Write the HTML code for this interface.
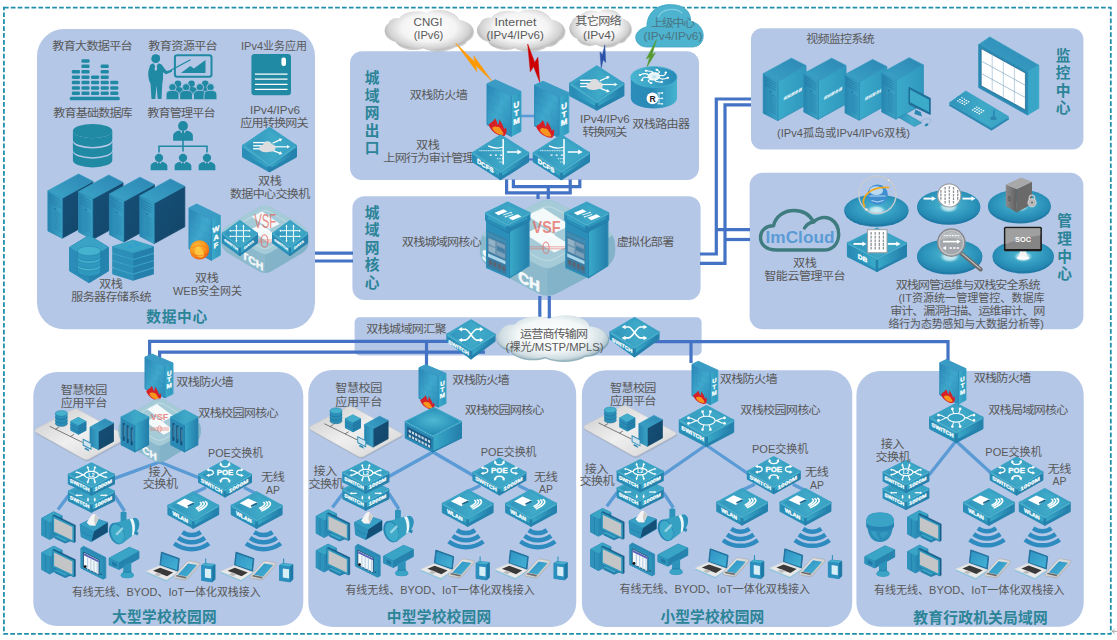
<!DOCTYPE html>
<html lang="zh-CN">
<head>
<meta charset="utf-8">
<title>双栈教育城域网拓扑</title>
<style>
html,body{margin:0;padding:0;background:#fff;}
body{width:1117px;height:640px;overflow:hidden;}
svg{display:block;font-family:"Liberation Sans","Noto Sans CJK SC",sans-serif;font-size:11.3px;fill:#595959;}
</style>
</head>
<body>
<svg width="1117" height="640" viewBox="0 0 1117 640">
<defs>

<linearGradient id="gTop" x1="0" y1="0.5" x2="1" y2="0.5"><stop offset="0" stop-color="#2f92ba"/><stop offset="0.55" stop-color="#3fa9c8"/><stop offset="1" stop-color="#3aa3c4"/></linearGradient>
<linearGradient id="gLeft" x1="0" y1="0" x2="1" y2="0"><stop offset="0" stop-color="#2789b5"/><stop offset="1" stop-color="#3aabc9"/></linearGradient>
<linearGradient id="gRight" x1="0" y1="0" x2="1" y2="0"><stop offset="0" stop-color="#3aabc9"/><stop offset="1" stop-color="#237daa"/></linearGradient>
<linearGradient id="gFront" x1="0" y1="0" x2="1" y2="1"><stop offset="0" stop-color="#2a85b6"/><stop offset="0.5" stop-color="#3fa8cc"/><stop offset="1" stop-color="#2b8bb8"/></linearGradient>
<linearGradient id="gSideL" x1="0" y1="0" x2="1" y2="0"><stop offset="0" stop-color="#3cabcb"/><stop offset="1" stop-color="#2f97bd"/></linearGradient>
<linearGradient id="gNavy" x1="0" y1="0" x2="1" y2="1"><stop offset="0" stop-color="#174f78"/><stop offset="1" stop-color="#124668"/></linearGradient>
<linearGradient id="gTowerF" x1="0" y1="0" x2="1" y2="0"><stop offset="0" stop-color="#2785b0"/><stop offset="1" stop-color="#3ba3c6"/></linearGradient>
<linearGradient id="gTowerT" x1="0" y1="1" x2="1" y2="0"><stop offset="0" stop-color="#3aa4c6"/><stop offset="1" stop-color="#2d86b4"/></linearGradient>
<radialGradient id="gCloud" cx="0.5" cy="0.38" r="0.62"><stop offset="0" stop-color="#ffffff"/><stop offset="0.55" stop-color="#f3f3f3"/><stop offset="0.85" stop-color="#d4d4d4"/><stop offset="1" stop-color="#a9a9a9"/></radialGradient>
<radialGradient id="gCloudB" cx="0.5" cy="0.42" r="0.6"><stop offset="0" stop-color="#ffffff"/><stop offset="0.6" stop-color="#eef4f6"/><stop offset="0.88" stop-color="#c5d6dc"/><stop offset="1" stop-color="#93aab3"/></radialGradient>
<radialGradient id="gDisk" cx="0.5" cy="0.45" r="0.6"><stop offset="0" stop-color="#4fb8d2"/><stop offset="0.6" stop-color="#2f97bd"/><stop offset="1" stop-color="#1f7fab"/></radialGradient>
<radialGradient id="gGlow" cx="0.5" cy="0.5" r="0.5"><stop offset="0" stop-color="#ffffff"/><stop offset="0.6" stop-color="#d8f2f7"/><stop offset="1" stop-color="#7fd0e2" stop-opacity="0.2"/></radialGradient>
<linearGradient id="gRouterSide" x1="0" y1="0" x2="1" y2="0"><stop offset="0" stop-color="#2b8dba"/><stop offset="0.45" stop-color="#2a8ab7"/><stop offset="1" stop-color="#45b3cf"/></linearGradient>
<linearGradient id="gRouterTop" x1="0" y1="0" x2="1" y2="0"><stop offset="0" stop-color="#49b5d1"/><stop offset="0.5" stop-color="#3aa3c6"/><stop offset="1" stop-color="#2788b6"/></linearGradient>
<linearGradient id="gPlate" x1="0" y1="0" x2="1" y2="1"><stop offset="0" stop-color="#c9c9c9"/><stop offset="0.5" stop-color="#efefef"/><stop offset="1" stop-color="#d2d2d2"/></linearGradient>
<radialGradient id="gBall" cx="0.4" cy="0.35" r="0.7"><stop offset="0" stop-color="#ffc23a"/><stop offset="0.6" stop-color="#f7941d"/><stop offset="1" stop-color="#e8560f"/></radialGradient>
<linearGradient id="gGrey" x1="0" y1="0" x2="1" y2="0"><stop offset="0" stop-color="#8a8a8a"/><stop offset="1" stop-color="#5f5f5f"/></linearGradient>
<linearGradient id="gSilver" x1="0" y1="0" x2="1" y2="1"><stop offset="0" stop-color="#f4f4f4"/><stop offset="1" stop-color="#b5b5b5"/></linearGradient>
<linearGradient id="gScreen" x1="0" y1="0" x2="1" y2="1"><stop offset="0" stop-color="#2f92c4"/><stop offset="1" stop-color="#45b2d4"/></linearGradient>

</defs>
<rect x="3.9" y="7.6" width="1106.9" height="626.3" fill="none" stroke="#1f8fab" stroke-width="1.8" stroke-dasharray="4.7 2.2"/>
<path d="M1112.4,631.3 h4.6 M1114.6,629 l-2.4,2.3 l2.4,2.3" fill="none" stroke="#7f7f7f" stroke-width="0.7"/>
<rect x="37" y="29" width="278.0" height="300.3" rx="27" fill="#b4c7e7"/>
<rect x="350" y="51.3" width="349.0" height="128.7" rx="12" fill="#b4c7e7"/>
<rect x="352.4" y="196.3" width="348.2" height="103.7" rx="12" fill="#b4c7e7"/>
<rect x="751" y="28.3" width="332.4" height="121.2" rx="11" fill="#b4c7e7"/>
<rect x="749.6" y="172.8" width="333.8" height="156.5" rx="13" fill="#b4c7e7"/>
<rect x="354.6" y="317.3" width="347.0" height="38.1" rx="5" fill="#b4c7e7"/>
<rect x="33.3" y="372" width="270.0" height="254.0" rx="24" fill="#b4c7e7"/>
<rect x="308.3" y="370" width="267.9" height="256.9" rx="24" fill="#b4c7e7"/>
<rect x="581.9" y="370.2" width="270.3" height="256.7" rx="24" fill="#b4c7e7"/>
<rect x="856.4" y="371" width="227.3" height="255.8" rx="24" fill="#b4c7e7"/>
<polyline points="315,253.2 353,253.2" fill="none" stroke="#4472c4" stroke-width="3.2"/>
<polyline points="315,261 353,261" fill="none" stroke="#4472c4" stroke-width="3.2"/>
<polyline points="506.6,179.5 506.6,192.8 570.2,192.8 570.2,179.5" fill="none" stroke="#4472c4" stroke-width="3.2"/>
<polyline points="513.4,179.5 513.4,186.6 579.8,186.6 579.8,179.5" fill="none" stroke="#4472c4" stroke-width="3.2"/>
<polyline points="538,192 538,199" fill="none" stroke="#4472c4" stroke-width="3.2"/>
<polyline points="548.3,186 548.3,199" fill="none" stroke="#4472c4" stroke-width="3.2"/>
<polyline points="539.8,296 539.8,320" fill="none" stroke="#4472c4" stroke-width="3.2"/>
<polyline points="549.3,296 549.3,320" fill="none" stroke="#4472c4" stroke-width="3.2"/>
<polyline points="751,99 716.3,99 716.3,254 700,254" fill="none" stroke="#4472c4" stroke-width="3.2"/>
<polyline points="751,104.8 725,104.8 725,263.3 700,263.3" fill="none" stroke="#4472c4" stroke-width="3.2"/>
<polyline points="716.3,229.7 750,229.7" fill="none" stroke="#4472c4" stroke-width="3.2"/>
<polyline points="725,239.5 750,239.5" fill="none" stroke="#4472c4" stroke-width="3.2"/>
<polyline points="149.6,358 149.6,341.4 460,341.4" fill="none" stroke="#4472c4" stroke-width="3.2"/>
<polyline points="159.6,358 159.6,352.2 485,352.2" fill="none" stroke="#4472c4" stroke-width="3.2"/>
<polyline points="426.5,341.4 426.5,367" fill="none" stroke="#4472c4" stroke-width="3.2"/>
<polyline points="650,341.6 948,341.6 948,362" fill="none" stroke="#4472c4" stroke-width="3.2"/>
<polyline points="691,341.6 691,363" fill="none" stroke="#4472c4" stroke-width="3.2"/>
<polyline points="515,116 540,116" fill="none" stroke="#5b9bd5" stroke-width="2.6"/>
<text transform="translate(429.0,162.4) scale(1.07,1)" text-anchor="middle" textLength="85.4" lengthAdjust="spacing">上网行为审计管理</text>
<rect x="69.7" y="96.8" width="50.1" height="3.5" rx="1.5" fill="#2089a3"/><rect x="71.8" y="91.6" width="8.2" height="3.5" rx="1.3" fill="#2089a3"/><rect x="71.8" y="86.2" width="8.2" height="3.5" rx="1.3" fill="#2089a3"/><rect x="71.8" y="80.8" width="8.2" height="3.5" rx="1.3" fill="#2089a3"/><rect x="71.8" y="75.4" width="8.2" height="3.5" rx="1.3" fill="#2089a3"/><rect x="71.8" y="70.0" width="8.2" height="3.5" rx="1.3" fill="#2089a3"/><rect x="81.4" y="91.6" width="8.2" height="3.5" rx="1.3" fill="#2089a3"/><rect x="81.4" y="86.2" width="8.2" height="3.5" rx="1.3" fill="#2089a3"/><rect x="81.4" y="80.8" width="8.2" height="3.5" rx="1.3" fill="#2089a3"/><rect x="81.4" y="75.4" width="8.2" height="3.5" rx="1.3" fill="#2089a3"/><rect x="81.4" y="70.0" width="8.2" height="3.5" rx="1.3" fill="#2089a3"/><rect x="81.4" y="64.6" width="8.2" height="3.5" rx="1.3" fill="#2089a3"/><rect x="81.4" y="59.2" width="8.2" height="3.5" rx="1.3" fill="#2089a3"/><rect x="91.0" y="91.6" width="8.2" height="3.5" rx="1.3" fill="#2089a3"/><rect x="91.0" y="86.2" width="8.2" height="3.5" rx="1.3" fill="#2089a3"/><rect x="91.0" y="80.8" width="8.2" height="3.5" rx="1.3" fill="#2089a3"/><rect x="91.0" y="75.4" width="8.2" height="3.5" rx="1.3" fill="#2089a3"/><rect x="100.6" y="91.6" width="8.2" height="3.5" rx="1.3" fill="#2089a3"/><rect x="100.6" y="86.2" width="8.2" height="3.5" rx="1.3" fill="#2089a3"/><rect x="100.6" y="80.8" width="8.2" height="3.5" rx="1.3" fill="#2089a3"/><rect x="100.6" y="75.4" width="8.2" height="3.5" rx="1.3" fill="#2089a3"/><rect x="100.6" y="70.0" width="8.2" height="3.5" rx="1.3" fill="#2089a3"/><rect x="100.6" y="64.6" width="8.2" height="3.5" rx="1.3" fill="#2089a3"/><rect x="110.2" y="91.6" width="8.2" height="3.5" rx="1.3" fill="#2089a3"/><rect x="110.2" y="86.2" width="8.2" height="3.5" rx="1.3" fill="#2089a3"/><rect x="110.2" y="80.8" width="8.2" height="3.5" rx="1.3" fill="#2089a3"/>
<g transform="translate(147.9,54.5)"><circle cx="7.8" cy="4.2" r="4.4" fill="#2089a3"/><path d="M4.2,1.6 q3.2,-2.6 7.6,-0.4 l-0.4,2 q-3.6,-1.6 -7,-0.2z" fill="#2089a3"/><path d="M1.6,13 C1.6,10.2 3.6,9.2 5.8,9 L8,13 L10.2,9 C13,9 14.6,10.4 15.4,12.4 L18.6,16.6 L23.6,15.2 L24.2,17.2 L18,19.8 L15,17.8 C15.6,22 15,26 14.4,29 L13.6,44.6 L9.8,44.6 L8.6,31 L7.4,44.6 L3.6,44.6 L2.6,29 C0.6,26 0,20 0.6,16 Z" fill="#2089a3"/><path d="M7.4,10 h1.2 l0.7,5 l-1.3,1.6 l-1.3,-1.6z" fill="#b4c7e7"/><rect x="27" y="0.8" width="36.6" height="21.4" rx="2.2" fill="none" stroke="#2089a3" stroke-width="2"/><path d="M33,18.4 L42.4,11.4 L46,14 L57.6,5.4 L57.6,18.4 Z" fill="#2089a3"/><polyline points="22.5,16.0 42.6,5.2" fill="none" stroke="#2089a3" stroke-width="1.3"/><circle cx="30.0" cy="29.2" r="3.3" fill="#2089a3"/><path d="M24.0,40 v-3.4 q0,-4 6,-4 q6,0 6,4 v3.4z" fill="#2089a3"/><circle cx="43.6" cy="29.2" r="3.3" fill="#2089a3"/><path d="M37.6,40 v-3.4 q0,-4 6,-4 q6,0 6,4 v3.4z" fill="#2089a3"/><circle cx="57.4" cy="29.2" r="3.3" fill="#2089a3"/><path d="M51.4,40 v-3.4 q0,-4 6,-4 q6,0 6,4 v3.4z" fill="#2089a3"/><circle cx="24.6" cy="32.8" r="3.7" fill="#2089a3" stroke="#b4c7e7" stroke-width="0.8"/><path d="M18.2,45.2 v-5 q0,-4.4 6.4,-4.4 q6.4,0 6.4,4.4 v5z" fill="#2089a3" stroke="#b4c7e7" stroke-width="0.8"/><circle cx="38.2" cy="32.8" r="3.7" fill="#2089a3" stroke="#b4c7e7" stroke-width="0.8"/><path d="M31.8,45.2 v-5 q0,-4.4 6.4,-4.4 q6.4,0 6.4,4.4 v5z" fill="#2089a3" stroke="#b4c7e7" stroke-width="0.8"/><circle cx="52.0" cy="32.8" r="3.7" fill="#2089a3" stroke="#b4c7e7" stroke-width="0.8"/><path d="M45.6,45.2 v-5 q0,-4.4 6.4,-4.4 q6.4,0 6.4,4.4 v5z" fill="#2089a3" stroke="#b4c7e7" stroke-width="0.8"/><circle cx="62.6" cy="32.8" r="3.7" fill="#2089a3" stroke="#b4c7e7" stroke-width="0.8"/><path d="M56.2,45.2 v-5 q0,-4.4 6.4,-4.4 q6.4,0 6.4,4.4 v5z" fill="#2089a3" stroke="#b4c7e7" stroke-width="0.8"/></g>
<rect x="251.4" y="53.9" width="39.6" height="41.3" rx="3.2" fill="#2089a3"/><rect x="281.4" y="57.5" width="4.6" height="8.6" rx="2" fill="#fff"/><polyline points="254.9,74.1 287.5,74.1" fill="none" stroke="#fff" stroke-width="1.25"/><polyline points="254.9,79.2 287.5,79.2" fill="none" stroke="#fff" stroke-width="1.25"/><polyline points="254.9,84.3 287.5,84.3" fill="none" stroke="#fff" stroke-width="1.25"/><polyline points="254.9,89.4 287.5,89.4" fill="none" stroke="#fff" stroke-width="1.25"/>
<path d="M72.9,151.6 v8.7 a19.7,7.1 0 0 0 39.4,0 v-8.7 a19.7,7.1 0 0 1 -39.4,0z" fill="#2089a3"/><path d="M72.9,141.4 v8.7 a19.7,7.1 0 0 0 39.4,0 v-8.7 a19.7,7.1 0 0 1 -39.4,0z" fill="#2089a3"/><path d="M72.9,131.1 v8.7 a19.7,7.1 0 0 0 39.4,0 v-8.7 a19.7,7.1 0 0 1 -39.4,0z" fill="#2089a3"/><ellipse cx="92.6" cy="131.1" rx="19.7" ry="7.1" fill="#2089a3"/>
<g transform="translate(183.0,121.2) scale(1.300)"><circle cx="0" cy="3.7" r="3.8" fill="#2089a3"/><path d="M-7.6,15 V11.4 C-7.6,8.8 -5,7.6 -2.6,7.2 L0,10.6 L2.6,7.2 C5,7.6 7.6,8.8 7.6,11.4 V15 Z" fill="#2089a3"/><path d="M-0.7,7.6 h1.4 l0.6,4.6 l-1.3,1.4 l-1.3,-1.4 z" fill="#2089a3"/></g><polyline points="183.0,139.6 183.0,151.6" fill="none" stroke="#2089a3" stroke-width="1.6"/><polyline points="159.0,152.6 159.0,146.2 207.0,146.2 207.0,152.6" fill="none" stroke="#2089a3" stroke-width="1.6"/><g transform="translate(159.0,153.8) scale(1.100)"><circle cx="0" cy="3.7" r="3.8" fill="#2089a3"/><path d="M-7.6,15 V11.4 C-7.6,8.8 -5,7.6 -2.6,7.2 L0,10.6 L2.6,7.2 C5,7.6 7.6,8.8 7.6,11.4 V15 Z" fill="#2089a3"/><path d="M-0.7,7.6 h1.4 l0.6,4.6 l-1.3,1.4 l-1.3,-1.4 z" fill="#2089a3"/></g><g transform="translate(183.0,153.8) scale(1.100)"><circle cx="0" cy="3.7" r="3.8" fill="#2089a3"/><path d="M-7.6,15 V11.4 C-7.6,8.8 -5,7.6 -2.6,7.2 L0,10.6 L2.6,7.2 C5,7.6 7.6,8.8 7.6,11.4 V15 Z" fill="#2089a3"/><path d="M-0.7,7.6 h1.4 l0.6,4.6 l-1.3,1.4 l-1.3,-1.4 z" fill="#2089a3"/></g><g transform="translate(207.0,153.8) scale(1.100)"><circle cx="0" cy="3.7" r="3.8" fill="#2089a3"/><path d="M-7.6,15 V11.4 C-7.6,8.8 -5,7.6 -2.6,7.2 L0,10.6 L2.6,7.2 C5,7.6 7.6,8.8 7.6,11.4 V15 Z" fill="#2089a3"/><path d="M-0.7,7.6 h1.4 l0.6,4.6 l-1.3,1.4 l-1.3,-1.4 z" fill="#2089a3"/></g>
<g><polygon points="243.7,146.2 269.5,164.8 269.5,170.4 243.7,156.2" fill="url(#gLeft)" stroke="#2a8db6" stroke-linejoin="round" stroke-width="3.4"/><polygon points="269.5,164.8 295.3,146.2 295.3,156.2 269.5,170.4" fill="url(#gRight)" stroke="#2582ad" stroke-linejoin="round" stroke-width="3.4"/><polygon points="269.5,128.6 295.3,146.2 269.5,164.8 243.7,146.2" fill="url(#gTop)" stroke="#3aa2c4" stroke-linejoin="round" stroke-width="3.4"/><polyline points="243.7,146.6 269.5,165.2 295.3,146.6" fill="none" stroke="#6cc6da" stroke-width="0.7" opacity="0.7"/></g><polyline points="253.1,142.6 267.5,142.6" fill="none" stroke="#fff" stroke-width="1.3426763110307416"/><polyline points="253.1,145.8 267.5,145.8" fill="none" stroke="#fff" stroke-width="1.3426763110307416"/><polyline points="253.1,148.8 267.5,148.8" fill="none" stroke="#fff" stroke-width="1.3426763110307416"/><polyline points="272.5,143.2 280.4,139.6" fill="none" stroke="#fff" stroke-width="1.193490054249548"/><polygon points="282.4,138.7 280.3,141.6 278.9,138.4" fill="#fff"/><polyline points="274.0,146.8 286.9,146.8" fill="none" stroke="#fff" stroke-width="1.193490054249548"/><polygon points="290.1,146.8 287.0,148.6 287.0,145.0" fill="#fff"/><polyline points="272.5,150.4 280.4,153.4" fill="none" stroke="#fff" stroke-width="1.193490054249548"/><polygon points="282.4,154.1 278.9,154.7 280.2,151.3" fill="#fff"/><ellipse cx="266.3" cy="148.8" rx="7.2" ry="3.4" fill="#dcdddf"/><ellipse cx="267.5" cy="145.4" rx="4.6" ry="4.2" fill="#dcdddf"/><ellipse cx="271.5" cy="147.8" rx="4.0" ry="3.6" fill="#dcdddf"/><ellipse cx="262.9" cy="148.0" rx="3.4" ry="3.0" fill="#dcdddf"/>
<polygon points="62.3,198.2 92.9,181.3 92.9,221.4 62.3,238.2" fill="url(#gNavy)" stroke="#144a6d" stroke-linejoin="round" stroke-width="0.8"/><polygon points="47.9,190.8 62.3,198.2 62.3,238.2 47.9,230.9" fill="url(#gTowerF)" stroke="#2a8bb5" stroke-linejoin="round" stroke-width="0.8"/><polygon points="47.9,190.8 78.5,174.0 92.9,181.3 62.3,198.2" fill="url(#gTowerT)" stroke="#3498bf" stroke-linejoin="round" stroke-width="0.8"/><g opacity="0.6"><polyline points="49.1,194.6 60.8,200.6" fill="none" stroke="#1c6c98" stroke-width="0.7"/><polyline points="49.1,197.0 60.8,203.0" fill="none" stroke="#1c6c98" stroke-width="0.7"/><polyline points="49.1,199.4 60.8,205.4" fill="none" stroke="#1c6c98" stroke-width="0.7"/><polyline points="49.1,201.8 60.8,207.8" fill="none" stroke="#1c6c98" stroke-width="0.7"/><polyline points="54.4,210.9 60.8,214.2" fill="none" stroke="#1c6c98" stroke-width="0.5"/><polyline points="54.4,213.1 60.8,216.4" fill="none" stroke="#1c6c98" stroke-width="0.5"/><polyline points="54.4,215.3 60.8,218.6" fill="none" stroke="#1c6c98" stroke-width="0.5"/><polyline points="54.4,217.6 60.8,220.8" fill="none" stroke="#1c6c98" stroke-width="0.5"/><polyline points="54.4,219.8 60.8,223.0" fill="none" stroke="#1c6c98" stroke-width="0.5"/><polyline points="54.4,222.0 60.8,225.2" fill="none" stroke="#1c6c98" stroke-width="0.5"/><polyline points="54.4,224.2 60.8,227.4" fill="none" stroke="#1c6c98" stroke-width="0.5"/><polyline points="54.4,226.4 60.8,229.6" fill="none" stroke="#1c6c98" stroke-width="0.5"/><polyline points="54.4,228.6 60.8,231.8" fill="none" stroke="#1c6c98" stroke-width="0.5"/><circle cx="55.1" cy="208.9" r="0.8" fill="#14587f"/></g>
<polygon points="92.7,198.9 123.0,182.3 123.0,222.8 92.7,239.4" fill="url(#gNavy)" stroke="#144a6d" stroke-linejoin="round" stroke-width="0.8"/><polygon points="78.5,191.6 92.7,198.9 92.7,239.4 78.5,232.1" fill="url(#gTowerF)" stroke="#2a8bb5" stroke-linejoin="round" stroke-width="0.8"/><polygon points="78.5,191.6 108.8,175.0 123.0,182.3 92.7,198.9" fill="url(#gTowerT)" stroke="#3498bf" stroke-linejoin="round" stroke-width="0.8"/><g opacity="0.6"><polyline points="79.7,195.5 91.2,201.4" fill="none" stroke="#1c6c98" stroke-width="0.7"/><polyline points="79.7,197.9 91.2,203.8" fill="none" stroke="#1c6c98" stroke-width="0.7"/><polyline points="79.7,200.4 91.2,206.2" fill="none" stroke="#1c6c98" stroke-width="0.7"/><polyline points="79.7,202.8 91.2,208.7" fill="none" stroke="#1c6c98" stroke-width="0.7"/><polyline points="84.9,211.9 91.2,215.1" fill="none" stroke="#1c6c98" stroke-width="0.5"/><polyline points="84.9,214.1 91.2,217.4" fill="none" stroke="#1c6c98" stroke-width="0.5"/><polyline points="84.9,216.4 91.2,219.6" fill="none" stroke="#1c6c98" stroke-width="0.5"/><polyline points="84.9,218.6 91.2,221.8" fill="none" stroke="#1c6c98" stroke-width="0.5"/><polyline points="84.9,220.8 91.2,224.1" fill="none" stroke="#1c6c98" stroke-width="0.5"/><polyline points="84.9,223.1 91.2,226.3" fill="none" stroke="#1c6c98" stroke-width="0.5"/><polyline points="84.9,225.3 91.2,228.5" fill="none" stroke="#1c6c98" stroke-width="0.5"/><polyline points="84.9,227.5 91.2,230.7" fill="none" stroke="#1c6c98" stroke-width="0.5"/><polyline points="84.9,229.7 91.2,233.0" fill="none" stroke="#1c6c98" stroke-width="0.5"/><circle cx="85.6" cy="209.9" r="0.8" fill="#14587f"/></g>
<polygon points="123.8,201.4 154.4,184.5 154.4,225.2 123.8,242.0" fill="url(#gNavy)" stroke="#144a6d" stroke-linejoin="round" stroke-width="0.8"/><polygon points="109.4,194.0 123.8,201.4 123.8,242.0 109.4,234.7" fill="url(#gTowerF)" stroke="#2a8bb5" stroke-linejoin="round" stroke-width="0.8"/><polygon points="109.4,194.0 140.0,177.2 154.4,184.5 123.8,201.4" fill="url(#gTowerT)" stroke="#3498bf" stroke-linejoin="round" stroke-width="0.8"/><g opacity="0.6"><polyline points="110.6,197.9 122.3,203.9" fill="none" stroke="#1c6c98" stroke-width="0.7"/><polyline points="110.6,200.3 122.3,206.3" fill="none" stroke="#1c6c98" stroke-width="0.7"/><polyline points="110.6,202.8 122.3,208.7" fill="none" stroke="#1c6c98" stroke-width="0.7"/><polyline points="110.6,205.2 122.3,211.2" fill="none" stroke="#1c6c98" stroke-width="0.7"/><polyline points="115.9,214.4 122.3,217.7" fill="none" stroke="#1c6c98" stroke-width="0.5"/><polyline points="115.9,216.6 122.3,219.9" fill="none" stroke="#1c6c98" stroke-width="0.5"/><polyline points="115.9,218.9 122.3,222.1" fill="none" stroke="#1c6c98" stroke-width="0.5"/><polyline points="115.9,221.1 122.3,224.4" fill="none" stroke="#1c6c98" stroke-width="0.5"/><polyline points="115.9,223.3 122.3,226.6" fill="none" stroke="#1c6c98" stroke-width="0.5"/><polyline points="115.9,225.6 122.3,228.8" fill="none" stroke="#1c6c98" stroke-width="0.5"/><polyline points="115.9,227.8 122.3,231.1" fill="none" stroke="#1c6c98" stroke-width="0.5"/><polyline points="115.9,230.0 122.3,233.3" fill="none" stroke="#1c6c98" stroke-width="0.5"/><polyline points="115.9,232.3 122.3,235.5" fill="none" stroke="#1c6c98" stroke-width="0.5"/><circle cx="116.6" cy="212.3" r="0.8" fill="#14587f"/></g>
<polygon points="154.2,203.2 184.8,186.3 184.8,226.8 154.2,243.6" fill="url(#gNavy)" stroke="#144a6d" stroke-linejoin="round" stroke-width="0.8"/><polygon points="139.8,195.8 154.2,203.2 154.2,243.6 139.8,236.3" fill="url(#gTowerF)" stroke="#2a8bb5" stroke-linejoin="round" stroke-width="0.8"/><polygon points="139.8,195.8 170.4,179.0 184.8,186.3 154.2,203.2" fill="url(#gTowerT)" stroke="#3498bf" stroke-linejoin="round" stroke-width="0.8"/><g opacity="0.6"><polyline points="141.0,199.7 152.7,205.6" fill="none" stroke="#1c6c98" stroke-width="0.7"/><polyline points="141.0,202.1 152.7,208.1" fill="none" stroke="#1c6c98" stroke-width="0.7"/><polyline points="141.0,204.5 152.7,210.5" fill="none" stroke="#1c6c98" stroke-width="0.7"/><polyline points="141.0,207.0 152.7,212.9" fill="none" stroke="#1c6c98" stroke-width="0.7"/><polyline points="146.3,216.1 152.7,219.4" fill="none" stroke="#1c6c98" stroke-width="0.5"/><polyline points="146.3,218.3 152.7,221.6" fill="none" stroke="#1c6c98" stroke-width="0.5"/><polyline points="146.3,220.6 152.7,223.8" fill="none" stroke="#1c6c98" stroke-width="0.5"/><polyline points="146.3,222.8 152.7,226.1" fill="none" stroke="#1c6c98" stroke-width="0.5"/><polyline points="146.3,225.0 152.7,228.3" fill="none" stroke="#1c6c98" stroke-width="0.5"/><polyline points="146.3,227.2 152.7,230.5" fill="none" stroke="#1c6c98" stroke-width="0.5"/><polyline points="146.3,229.5 152.7,232.7" fill="none" stroke="#1c6c98" stroke-width="0.5"/><polyline points="146.3,231.7 152.7,235.0" fill="none" stroke="#1c6c98" stroke-width="0.5"/><polyline points="146.3,233.9 152.7,237.2" fill="none" stroke="#1c6c98" stroke-width="0.5"/><circle cx="147.0" cy="214.1" r="0.8" fill="#14587f"/></g>
<polygon points="69.6,247.2 89.0,235.4 108.5,247.2 108.5,270.9 89.0,282.8 69.6,270.9" fill="#2b8db7" stroke="#2b8db7" stroke-width="1" stroke-linejoin="round"/><polygon points="69.6,247.2 89.0,235.4 108.5,247.2 89.0,259.1" fill="#3aa3c5"/><polygon points="89.0,259.1 108.5,247.2 108.5,270.9 89.0,282.8" fill="#2583ae"/><path d="M77.4,266.2 v5.7 a11.7,4.7 0 0 0 23.3,0 v-5.7z" fill="#2f98be" stroke="#1f78a4" stroke-width="0.5"/><ellipse cx="89.0" cy="266.2" rx="11.7" ry="4.7" fill="#45b2cf" stroke="#1f78a4" stroke-width="0.4"/><path d="M77.4,258.6 v5.7 a11.7,4.7 0 0 0 23.3,0 v-5.7z" fill="#2f98be" stroke="#1f78a4" stroke-width="0.5"/><ellipse cx="89.0" cy="258.6" rx="11.7" ry="4.7" fill="#45b2cf" stroke="#1f78a4" stroke-width="0.4"/><path d="M77.4,251.0 v5.7 a11.7,4.7 0 0 0 23.3,0 v-5.7z" fill="#2f98be" stroke="#1f78a4" stroke-width="0.5"/><ellipse cx="89.0" cy="251.0" rx="11.7" ry="4.7" fill="#45b2cf" stroke="#1f78a4" stroke-width="0.4"/>
<polygon points="112.2,268.0 133.1,274.5 133.1,280.7 112.2,274.2" fill="#2b8fb8"/><polygon points="133.1,274.5 153.9,268.0 153.9,274.2 133.1,280.7" fill="#247fab"/><polygon points="133.1,261.6 153.9,268.0 133.1,274.5 112.2,268.0" fill="#3aa4c6" stroke="#2d93ba" stroke-width="0.5"/><polygon points="112.2,260.8 133.1,267.3 133.1,273.5 112.2,267.0" fill="#2b8fb8"/><polygon points="133.1,267.3 153.9,260.8 153.9,267.0 133.1,273.5" fill="#247fab"/><polygon points="133.1,254.4 153.9,260.8 133.1,267.3 112.2,260.8" fill="#3aa4c6" stroke="#2d93ba" stroke-width="0.5"/><polygon points="112.2,253.7 133.1,260.1 133.1,266.3 112.2,259.9" fill="#2b8fb8"/><polygon points="133.1,260.1 153.9,253.7 153.9,259.9 133.1,266.3" fill="#247fab"/><polygon points="133.1,247.2 153.9,253.7 133.1,260.1 112.2,253.7" fill="#3aa4c6" stroke="#2d93ba" stroke-width="0.5"/><polygon points="112.2,246.5 133.1,252.9 133.1,259.1 112.2,252.7" fill="#2b8fb8"/><polygon points="133.1,252.9 153.9,246.5 153.9,252.7 133.1,259.1" fill="#247fab"/><polygon points="133.1,240.0 153.9,246.5 133.1,252.9 112.2,246.5" fill="#3aa4c6" stroke="#2d93ba" stroke-width="0.5"/><ellipse cx="130.1" cy="246.7" rx="2.2" ry="1.4" fill="#2f9fd4"/><ellipse cx="137.1" cy="244.7" rx="2.2" ry="1.4" fill="#2f9fd4"/>
<polygon points="211.4,219.5 220.3,215.5 220.3,255.2 211.4,260.3" fill="url(#gSideL)" stroke="#3aa8c9" stroke-linejoin="round" stroke-width="1"/><polygon points="189.0,207.9 211.4,219.5 211.4,260.3 189.0,248.7" fill="url(#gFront)" stroke="#2c8cba" stroke-linejoin="round" stroke-width="1"/><polygon points="189.0,207.9 196.7,204.0 220.3,215.5 211.4,219.5" fill="#3a9cc4" stroke="#3a9cc4" stroke-linejoin="round" stroke-width="1"/><g opacity="0.11"><polyline points="189.8,216.5 210.6,227.3" fill="none" stroke="#1f6fa3" stroke-width="0.7"/><polyline points="189.8,224.7 210.6,235.4" fill="none" stroke="#1f6fa3" stroke-width="0.7"/><polyline points="189.8,232.8 210.6,243.6" fill="none" stroke="#1f6fa3" stroke-width="0.7"/><polyline points="189.8,241.0 210.6,251.7" fill="none" stroke="#1f6fa3" stroke-width="0.7"/><polyline points="194.6,210.8 194.6,219.0" fill="none" stroke="#1f6fa3" stroke-width="0.7"/><polyline points="204.7,216.1 204.7,224.2" fill="none" stroke="#1f6fa3" stroke-width="0.7"/><polyline points="199.1,221.3 199.1,229.5" fill="none" stroke="#1f6fa3" stroke-width="0.7"/><polyline points="194.6,227.1 194.6,235.3" fill="none" stroke="#1f6fa3" stroke-width="0.7"/><polyline points="204.7,232.4 204.7,240.5" fill="none" stroke="#1f6fa3" stroke-width="0.7"/><polyline points="199.1,237.6 199.1,245.8" fill="none" stroke="#1f6fa3" stroke-width="0.7"/><polyline points="194.6,243.4 194.6,251.6" fill="none" stroke="#1f6fa3" stroke-width="0.7"/><polyline points="204.7,248.7 204.7,256.8" fill="none" stroke="#1f6fa3" stroke-width="0.7"/></g><text transform="matrix(1,-0.448,0,1,216.0,231.7)" x="0 0 0" y="0.0 8.1 16.1" text-anchor="middle" font-size="7.20" font-weight="bold" fill="#fff" stroke="#fff" stroke-width="0.36">WAF</text><circle cx="199.5" cy="249.9" r="9.7" fill="url(#gBall)"/><path d="M194.6,252.8 q1.9,-8.7 5.8,-4.9 q2.9,1.9 3.9,7.8 q-4.9,4.9 -9.7,-2.9z" fill="#ffd24a" opacity="0.75"/><path d="M192.7,247.9 q6.8,-4.9 13.6,0 M191.7,253.8 q7.8,3.9 15.5,0" fill="none" stroke="#e8560f" stroke-width="0.6" opacity="0.7"/>
<g opacity="0.86"><clipPath id="vc1"><path d="M258.1,207.8 Q264.9,203.8 271.7,207.8 L301.8,225.6 Q308.6,229.7 308.6,237.5 L308.6,241.3 Q308.6,249.2 301.8,253.2 L271.7,271.0 Q264.9,275.0 258.1,271.0 L228.0,253.2 Q221.2,249.2 221.2,241.3 L221.2,237.5 Q221.2,229.7 228.0,225.6 Z"/></clipPath><g clip-path="url(#vc1)"><rect x="221.2" y="203.8" width="87.4" height="71.2" fill="#86b9c8"/><polygon points="264.9,255.5 310.6,228.7 310.6,277.0 264.9,277.0" fill="#7bb0c3"/><path d="M260.2,205.6 Q264.9,202.8 269.6,205.6 L305.4,226.8 Q310.1,229.7 305.3,232.4 L269.7,252.8 Q264.9,255.5 260.1,252.8 L224.5,232.4 Q219.7,229.7 224.4,226.8 Z" fill="#a2ccd5"/></g></g><path d="M259.5,212.2 Q264.9,209.0 270.3,212.2 L294.4,226.4 Q299.9,229.7 294.4,232.9 L270.3,247.1 Q264.9,250.3 259.5,247.1 L235.4,232.9 Q229.9,229.7 235.4,226.4 Z" fill="none" stroke="#d3e7ec" stroke-width="0.8" opacity="0.75"/><polygon points="251.8,216.7 262.3,211.6 279.8,224.0 269.3,229.1" fill="#fff" opacity="0.88"/><polygon points="250.0,229.7 260.5,224.5 279.8,237.9 269.3,243.1" fill="#fff" opacity="0.88"/><polygon points="259.7,226.5 269.3,229.1 271.0,233.8 260.5,228.1" fill="#fff" opacity="0.6"/><text x="265.2" y="228.2" text-anchor="middle" font-size="20" fill="#e2665e" opacity="0.74" textLength="22.0" lengthAdjust="spacingAndGlyphs">VSF</text><polyline points="254.5,240.0 274.5,240.0" fill="none" stroke="#e26a62" stroke-width="0.8" opacity="0.7"/><polyline points="254.5,242.0 274.5,242.0" fill="none" stroke="#e26a62" stroke-width="0.8" opacity="0.7"/><ellipse cx="264.5" cy="241.0" rx="3.4" ry="6.2" fill="none" stroke="#e26a62" stroke-width="1.2" opacity="0.7"/><text transform="matrix(1,0.592,0,1,252.5,264.5)" text-anchor="middle" font-size="10.5" font-weight="bold" fill="#fff" stroke="#fff" stroke-width="0.53" font-family="&quot;Liberation Sans&quot;,sans-serif" opacity="0.9">TCH</text>
<g><polygon points="222.9,233.6 239.9,246.6 239.9,255.0 222.9,242.6" fill="url(#gLeft)" stroke="#2a8db6" stroke-linejoin="round" stroke-width="2"/><polygon points="239.9,246.6 257.0,233.6 257.0,242.6 239.9,255.0" fill="url(#gRight)" stroke="#2582ad" stroke-linejoin="round" stroke-width="2"/><polygon points="239.9,221.1 257.0,233.6 239.9,246.6 222.9,233.6" fill="url(#gTop)" stroke="#3aa2c4" stroke-linejoin="round" stroke-width="2"/><polyline points="222.9,234.0 239.9,247.0 257.0,234.0" fill="none" stroke="#6cc6da" stroke-width="0.7" opacity="0.7"/></g><polyline points="230.2,230.7 249.7,230.7" fill="none" stroke="#fff" stroke-width="0.95"/><polyline points="236.4,225.7 236.4,241.4" fill="none" stroke="#fff" stroke-width="0.95"/><polygon points="229.0,230.7 231.0,229.6 231.0,231.9" fill="#fff"/><polygon points="250.9,230.7 248.9,231.9 248.9,229.6" fill="#fff"/><polygon points="236.4,224.5 237.6,226.5 235.3,226.5" fill="#fff"/><polygon points="236.4,242.6 235.3,240.6 237.6,240.6" fill="#fff"/><polyline points="230.2,236.4 249.7,236.4" fill="none" stroke="#fff" stroke-width="0.95"/><polyline points="243.5,225.7 243.5,241.4" fill="none" stroke="#fff" stroke-width="0.95"/><polygon points="229.0,236.4 231.0,235.2 231.0,237.5" fill="#fff"/><polygon points="250.9,236.4 248.9,237.5 248.9,235.2" fill="#fff"/><polygon points="243.5,224.5 244.6,226.5 242.3,226.5" fill="#fff"/><polygon points="243.5,242.6 242.3,240.6 244.6,240.6" fill="#fff"/><text transform="matrix(1,0.723,0,1,230.9,245.8)" text-anchor="middle" font-size="3.52" font-weight="bold" fill="#fff" stroke="#fff" stroke-width="0.18" font-family="&quot;Liberation Sans&quot;,sans-serif" textLength="13.5" lengthAdjust="spacingAndGlyphs">SWITCH</text><text transform="matrix(1,-0.723,0,1,249.0,245.8)" text-anchor="middle" font-size="3.52" font-weight="bold" fill="#fff" stroke="#fff" stroke-width="0.18" font-family="&quot;Liberation Sans&quot;,sans-serif" textLength="10.0" lengthAdjust="spacingAndGlyphs">DATA</text>
<g><polygon points="273.0,233.6 290.0,246.6 290.0,255.0 273.0,242.6" fill="url(#gLeft)" stroke="#2a8db6" stroke-linejoin="round" stroke-width="2"/><polygon points="290.0,246.6 307.0,233.6 307.0,242.6 290.0,255.0" fill="url(#gRight)" stroke="#2582ad" stroke-linejoin="round" stroke-width="2"/><polygon points="290.0,221.1 307.0,233.6 290.0,246.6 273.0,233.6" fill="url(#gTop)" stroke="#3aa2c4" stroke-linejoin="round" stroke-width="2"/><polyline points="273.0,234.0 290.0,247.0 307.0,234.0" fill="none" stroke="#6cc6da" stroke-width="0.7" opacity="0.7"/></g><polyline points="280.3,230.7 299.7,230.7" fill="none" stroke="#fff" stroke-width="0.95"/><polyline points="286.5,225.7 286.5,241.4" fill="none" stroke="#fff" stroke-width="0.95"/><polygon points="279.1,230.7 281.0,229.6 281.0,231.9" fill="#fff"/><polygon points="300.9,230.7 299.0,231.9 299.0,229.6" fill="#fff"/><polygon points="286.5,224.5 287.6,226.5 285.4,226.5" fill="#fff"/><polygon points="286.5,242.6 285.4,240.6 287.6,240.6" fill="#fff"/><polyline points="280.3,236.4 299.7,236.4" fill="none" stroke="#fff" stroke-width="0.95"/><polyline points="293.5,225.7 293.5,241.4" fill="none" stroke="#fff" stroke-width="0.95"/><polygon points="279.1,236.4 281.0,235.2 281.0,237.5" fill="#fff"/><polygon points="300.9,236.4 299.0,237.5 299.0,235.2" fill="#fff"/><polygon points="293.5,224.5 294.6,226.5 292.4,226.5" fill="#fff"/><polygon points="293.5,242.6 292.4,240.6 294.6,240.6" fill="#fff"/><text transform="matrix(1,0.725,0,1,281.0,245.8)" text-anchor="middle" font-size="3.52" font-weight="bold" fill="#fff" stroke="#fff" stroke-width="0.18" font-family="&quot;Liberation Sans&quot;,sans-serif" textLength="13.5" lengthAdjust="spacingAndGlyphs">SWITCH</text><text transform="matrix(1,-0.725,0,1,299.0,245.8)" text-anchor="middle" font-size="3.52" font-weight="bold" fill="#fff" stroke="#fff" stroke-width="0.18" font-family="&quot;Liberation Sans&quot;,sans-serif" textLength="10.0" lengthAdjust="spacingAndGlyphs">DATA</text>
<radialGradient id="cg1" gradientUnits="userSpaceOnUse" cx="0" cy="0" r="1" gradientTransform="translate(428.9,27.9) scale(49.4,25.2)"><stop offset="0" stop-color="#ffffff"/><stop offset="0.55" stop-color="#f4f4f4"/><stop offset="0.82" stop-color="#d2d2d2"/><stop offset="1" stop-color="#9e9e9e"/></radialGradient><g fill="#9a9a9a" opacity="0.5"><ellipse cx="429.4" cy="31.4" rx="35.7" ry="16.6"/><ellipse cx="402.0" cy="31.4" rx="17.2" ry="11.4"/><ellipse cx="456.7" cy="32.2" rx="17.2" ry="11.8"/><ellipse cx="417.0" cy="23.3" rx="18.9" ry="11.4"/><ellipse cx="439.9" cy="22.9" rx="19.8" ry="12.2"/><ellipse cx="413.5" cy="39.5" rx="18.1" ry="10.6"/><ellipse cx="438.2" cy="40.7" rx="20.7" ry="11.0"/><ellipse cx="455.8" cy="38.7" rx="11.9" ry="8.5"/><ellipse cx="397.6" cy="25.7" rx="9.2" ry="6.9"/></g><g fill="url(#cg1)"><ellipse cx="428.9" cy="30.3" rx="35.3" ry="16.2"/><ellipse cx="401.5" cy="30.3" rx="16.8" ry="11.0"/><ellipse cx="456.2" cy="31.1" rx="16.8" ry="11.4"/><ellipse cx="416.5" cy="22.2" rx="18.5" ry="11.0"/><ellipse cx="439.4" cy="21.8" rx="19.4" ry="11.8"/><ellipse cx="413.0" cy="38.4" rx="17.7" ry="10.2"/><ellipse cx="437.7" cy="39.6" rx="20.3" ry="10.6"/><ellipse cx="455.3" cy="37.6" rx="11.5" ry="8.1"/><ellipse cx="397.1" cy="24.6" rx="8.8" ry="6.5"/></g>
<radialGradient id="cg2" gradientUnits="userSpaceOnUse" cx="0" cy="0" r="1" gradientTransform="translate(520.8,27.5) scale(49.0,25.5)"><stop offset="0" stop-color="#ffffff"/><stop offset="0.55" stop-color="#f4f4f4"/><stop offset="0.82" stop-color="#d2d2d2"/><stop offset="1" stop-color="#9e9e9e"/></radialGradient><g fill="#9a9a9a" opacity="0.5"><ellipse cx="521.2" cy="31.1" rx="35.4" ry="16.9"/><ellipse cx="494.1" cy="31.1" rx="17.0" ry="11.5"/><ellipse cx="548.4" cy="31.9" rx="17.0" ry="11.9"/><ellipse cx="509.0" cy="22.9" rx="18.8" ry="11.5"/><ellipse cx="531.8" cy="22.4" rx="19.6" ry="12.3"/><ellipse cx="505.5" cy="39.3" rx="17.9" ry="10.7"/><ellipse cx="530.0" cy="40.6" rx="20.5" ry="11.1"/><ellipse cx="547.5" cy="38.5" rx="11.8" ry="8.6"/><ellipse cx="489.8" cy="25.3" rx="9.2" ry="7.0"/></g><g fill="url(#cg2)"><ellipse cx="520.8" cy="30.0" rx="35.0" ry="16.5"/><ellipse cx="493.6" cy="30.0" rx="16.6" ry="11.1"/><ellipse cx="547.9" cy="30.8" rx="16.6" ry="11.5"/><ellipse cx="508.5" cy="21.8" rx="18.4" ry="11.1"/><ellipse cx="531.2" cy="21.3" rx="19.2" ry="11.9"/><ellipse cx="505.0" cy="38.2" rx="17.5" ry="10.3"/><ellipse cx="529.5" cy="39.5" rx="20.1" ry="10.7"/><ellipse cx="547.0" cy="37.4" rx="11.4" ry="8.2"/><ellipse cx="489.2" cy="24.2" rx="8.8" ry="6.6"/></g>
<radialGradient id="cg3" gradientUnits="userSpaceOnUse" cx="0" cy="0" r="1" gradientTransform="translate(600.2,25.8) scale(34.5,23.1)"><stop offset="0" stop-color="#ffffff"/><stop offset="0.55" stop-color="#f4f4f4"/><stop offset="0.82" stop-color="#d2d2d2"/><stop offset="1" stop-color="#9e9e9e"/></radialGradient><g fill="#9a9a9a" opacity="0.5"><ellipse cx="600.7" cy="29.1" rx="25.0" ry="15.3"/><ellipse cx="581.6" cy="29.1" rx="12.1" ry="10.4"/><ellipse cx="619.8" cy="29.8" rx="12.1" ry="10.8"/><ellipse cx="592.1" cy="21.7" rx="13.3" ry="10.4"/><ellipse cx="608.1" cy="21.3" rx="14.0" ry="11.2"/><ellipse cx="589.6" cy="36.5" rx="12.7" ry="9.7"/><ellipse cx="606.9" cy="37.7" rx="14.6" ry="10.1"/><ellipse cx="619.2" cy="35.8" rx="8.4" ry="7.8"/><ellipse cx="578.5" cy="23.9" rx="6.6" ry="6.4"/></g><g fill="url(#cg3)"><ellipse cx="600.2" cy="28.0" rx="24.6" ry="14.9"/><ellipse cx="581.1" cy="28.0" rx="11.7" ry="10.0"/><ellipse cx="619.3" cy="28.7" rx="11.7" ry="10.4"/><ellipse cx="591.6" cy="20.6" rx="12.9" ry="10.0"/><ellipse cx="607.6" cy="20.2" rx="13.6" ry="10.8"/><ellipse cx="589.1" cy="35.4" rx="12.3" ry="9.3"/><ellipse cx="606.4" cy="36.6" rx="14.2" ry="9.7"/><ellipse cx="618.7" cy="34.7" rx="8.0" ry="7.4"/><ellipse cx="578.0" cy="22.8" rx="6.2" ry="6.0"/></g>
<path d="M646.9,47.0 C634.2,47.0 630.0,30.9 646.9,26.7 C646.9,8.9 662.5,3.9 671.7,4.7 C682.3,4.7 690.8,9.8 690.8,21.6 C706.3,23.7 707.7,46.2 692.9,47.0 Z" fill="#4db3cf" stroke="#3fa5c3" stroke-width="0.8"/><path d="M658.3,17.4 C661.1,8.9 675.2,6.8 682.3,13.2" fill="none" stroke="#8fd4e4" stroke-width="1.2" opacity="0.8"/>
<polygon points="455.6,43.1 474.8,62.0 473.7,55.8 492.1,81.3 475.8,65.5 476.9,71.7" fill="#ff9900" stroke="#ff9900" stroke-width="0.5" stroke-linejoin="round"/>
<polygon points="527.7,44.1 534.7,62.4 537.9,57.2 539.7,82.1 533.6,66.5 530.3,71.7" fill="#cc0000" stroke="#cc0000" stroke-width="0.5" stroke-linejoin="round"/>
<polygon points="604.8,44.8 602.5,54.9 600.0,52.1 601.2,67.9 603.2,59.7 605.7,62.4" fill="#2a52a8" stroke="#2a52a8" stroke-width="0.5" stroke-linejoin="round"/>
<polygon points="656.6,39.4 651.9,54.7 655.4,52.9 647.0,66.9 649.7,57.1 646.3,58.9" fill="#55992f" stroke="#55992f" stroke-width="0.5" stroke-linejoin="round"/>
<polygon points="511.3,95.4 521.0,91.4 521.0,131.3 511.3,136.4" fill="url(#gSideL)" stroke="#3aa8c9" stroke-linejoin="round" stroke-width="1"/><polygon points="487.0,83.8 511.3,95.4 511.3,136.4 487.0,124.7" fill="url(#gFront)" stroke="#2c8cba" stroke-linejoin="round" stroke-width="1"/><polygon points="487.0,83.8 495.3,79.8 521.0,91.4 511.3,95.4" fill="#3a9cc4" stroke="#3a9cc4" stroke-linejoin="round" stroke-width="1"/><g opacity="0.11"><polyline points="487.8,92.3 510.5,103.2" fill="none" stroke="#1f6fa3" stroke-width="0.7"/><polyline points="487.8,100.5 510.5,111.4" fill="none" stroke="#1f6fa3" stroke-width="0.7"/><polyline points="487.8,108.7 510.5,119.6" fill="none" stroke="#1f6fa3" stroke-width="0.7"/><polyline points="487.8,116.9 510.5,127.8" fill="none" stroke="#1f6fa3" stroke-width="0.7"/><polyline points="493.1,86.7 493.1,94.9" fill="none" stroke="#1f6fa3" stroke-width="0.7"/><polyline points="504.0,91.9 504.0,100.1" fill="none" stroke="#1f6fa3" stroke-width="0.7"/><polyline points="497.9,97.2 497.9,105.4" fill="none" stroke="#1f6fa3" stroke-width="0.7"/><polyline points="493.1,103.1 493.1,111.3" fill="none" stroke="#1f6fa3" stroke-width="0.7"/><polyline points="504.0,108.3 504.0,116.5" fill="none" stroke="#1f6fa3" stroke-width="0.7"/><polyline points="497.9,113.6 497.9,121.8" fill="none" stroke="#1f6fa3" stroke-width="0.7"/><polyline points="493.1,119.5 493.1,127.7" fill="none" stroke="#1f6fa3" stroke-width="0.7"/><polyline points="504.0,124.7 504.0,132.9" fill="none" stroke="#1f6fa3" stroke-width="0.7"/></g><text transform="matrix(1,-0.415,0,1,516.4,107.6)" x="0 0 0" y="0.0 8.1 16.2" text-anchor="middle" font-size="7.82" font-weight="bold" fill="#fff" stroke="#fff" stroke-width="0.39">UTM</text><g transform="translate(487.0,79.8) scale(0.991)"><path d="M1.5,45.2 C3.5,43.4 7,42 8.3,38.9 C9.6,41.6 10.4,43.6 10.9,45.6 C12,44.2 12.5,42.4 12.2,39.8 C14.6,43.2 16.6,46.6 17.3,49.8 C18.1,49.4 18.7,48.8 19,48 C20.4,51 19.8,54.8 17.6,56.6 C12,57.6 3.6,52.4 1.5,45.2 Z" fill="#d62027"/><path d="M5.2,48.6 C6.6,46.9 8.6,46.6 10.2,47.6 C11.8,47 13.6,48.6 14.6,50.6 C15.7,52.2 16.9,53.8 16.6,55.4 C12,56.2 6.8,52.8 5.2,48.6 Z" fill="#f7941d"/></g>
<polygon points="559.1,96.8 568.8,92.8 568.8,132.5 559.1,137.6" fill="url(#gSideL)" stroke="#3aa8c9" stroke-linejoin="round" stroke-width="1"/><polygon points="534.6,85.1 559.1,96.8 559.1,137.6 534.6,126.0" fill="url(#gFront)" stroke="#2c8cba" stroke-linejoin="round" stroke-width="1"/><polygon points="534.6,85.1 543.0,81.2 568.8,92.8 559.1,96.8" fill="#3a9cc4" stroke="#3a9cc4" stroke-linejoin="round" stroke-width="1"/><g opacity="0.11"><polyline points="535.4,93.7 558.3,104.6" fill="none" stroke="#1f6fa3" stroke-width="0.7"/><polyline points="535.4,101.9 558.3,112.7" fill="none" stroke="#1f6fa3" stroke-width="0.7"/><polyline points="535.4,110.0 558.3,120.9" fill="none" stroke="#1f6fa3" stroke-width="0.7"/><polyline points="535.4,118.2 558.3,129.1" fill="none" stroke="#1f6fa3" stroke-width="0.7"/><polyline points="540.7,88.1 540.7,96.2" fill="none" stroke="#1f6fa3" stroke-width="0.7"/><polyline points="551.7,93.3 551.7,101.4" fill="none" stroke="#1f6fa3" stroke-width="0.7"/><polyline points="545.6,98.5 545.6,106.7" fill="none" stroke="#1f6fa3" stroke-width="0.7"/><polyline points="540.7,104.4 540.7,112.6" fill="none" stroke="#1f6fa3" stroke-width="0.7"/><polyline points="551.7,109.6 551.7,117.8" fill="none" stroke="#1f6fa3" stroke-width="0.7"/><polyline points="545.6,114.9 545.6,123.0" fill="none" stroke="#1f6fa3" stroke-width="0.7"/><polyline points="540.7,120.7 540.7,128.9" fill="none" stroke="#1f6fa3" stroke-width="0.7"/><polyline points="551.7,125.9 551.7,134.1" fill="none" stroke="#1f6fa3" stroke-width="0.7"/></g><text transform="matrix(1,-0.411,0,1,564.1,108.9)" x="0 0 0" y="0.0 8.1 16.1" text-anchor="middle" font-size="7.87" font-weight="bold" fill="#fff" stroke="#fff" stroke-width="0.39">UTM</text><g transform="translate(534.6,81.2) scale(0.997)"><path d="M1.5,45.2 C3.5,43.4 7,42 8.3,38.9 C9.6,41.6 10.4,43.6 10.9,45.6 C12,44.2 12.5,42.4 12.2,39.8 C14.6,43.2 16.6,46.6 17.3,49.8 C18.1,49.4 18.7,48.8 19,48 C20.4,51 19.8,54.8 17.6,56.6 C12,57.6 3.6,52.4 1.5,45.2 Z" fill="#d62027"/><path d="M5.2,48.6 C6.6,46.9 8.6,46.6 10.2,47.6 C11.8,47 13.6,48.6 14.6,50.6 C15.7,52.2 16.9,53.8 16.6,55.4 C12,56.2 6.8,52.8 5.2,48.6 Z" fill="#f7941d"/></g>
<g><polygon points="570.8,83.9 596.8,101.7 596.8,108.7 570.8,94.9" fill="url(#gLeft)" stroke="#2a8db6" stroke-linejoin="round" stroke-width="3.4"/><polygon points="596.8,101.7 622.7,83.9 622.7,94.9 596.8,108.7" fill="url(#gRight)" stroke="#2582ad" stroke-linejoin="round" stroke-width="3.4"/><polygon points="596.8,67.1 622.7,83.9 596.8,101.7 570.8,83.9" fill="url(#gTop)" stroke="#3aa2c4" stroke-linejoin="round" stroke-width="3.4"/><polyline points="570.8,84.3 596.8,102.1 622.7,84.3" fill="none" stroke="#6cc6da" stroke-width="0.7" opacity="0.7"/></g><polyline points="580.2,80.3 594.8,80.3" fill="none" stroke="#fff" stroke-width="1.349999999999999"/><polyline points="580.2,83.5 594.8,83.5" fill="none" stroke="#fff" stroke-width="1.349999999999999"/><polyline points="580.2,86.5 594.8,86.5" fill="none" stroke="#fff" stroke-width="1.349999999999999"/><polyline points="599.8,80.9 607.8,77.3" fill="none" stroke="#fff" stroke-width="1.199999999999999"/><polygon points="609.8,76.4 607.6,79.3 606.2,76.0" fill="#fff"/><polyline points="601.2,84.5 614.2,84.5" fill="none" stroke="#fff" stroke-width="1.199999999999999"/><polygon points="617.5,84.5 614.4,86.3 614.4,82.7" fill="#fff"/><polyline points="599.8,88.1 607.8,91.1" fill="none" stroke="#fff" stroke-width="1.199999999999999"/><polygon points="609.8,91.8 606.2,92.4 607.5,89.1" fill="#fff"/><ellipse cx="593.5" cy="86.5" rx="7.2" ry="3.4" fill="#dcdddf"/><ellipse cx="594.8" cy="83.1" rx="4.6" ry="4.2" fill="#dcdddf"/><ellipse cx="598.8" cy="85.5" rx="4.0" ry="3.6" fill="#dcdddf"/><ellipse cx="590.1" cy="85.7" rx="3.4" ry="3.0" fill="#dcdddf"/>
<path d="M630.8,77.0 V98.2 A23.1,10.4 0 0 0 677.0,98.2 V77.0 Z" fill="url(#gRouterSide)"/><ellipse cx="653.9" cy="77.0" rx="23.1" ry="10.4" fill="url(#gRouterTop)" stroke="#49b3cf" stroke-width="0.7"/><path d="M658.9,77.0 Q660.6,80.8 667.9,77.8" fill="none" stroke="#fff" stroke-width="1.1"/><ellipse cx="667.9" cy="77.8" rx="1.3" ry="1" fill="#fff"/><path d="M656.7,79.0 Q652.0,81.7 661.8,82.1" fill="none" stroke="#fff" stroke-width="1.1"/><ellipse cx="661.8" cy="82.1" rx="1.3" ry="1" fill="#fff"/><path d="M652.9,79.5 Q644.5,79.5 651.1,83.1" fill="none" stroke="#fff" stroke-width="1.1"/><ellipse cx="651.1" cy="83.1" rx="1.3" ry="1" fill="#fff"/><path d="M649.7,78.1 Q642.5,75.5 642.0,80.2" fill="none" stroke="#fff" stroke-width="1.1"/><ellipse cx="642.0" cy="80.2" rx="1.3" ry="1" fill="#fff"/><path d="M648.9,75.8 Q647.2,72.0 639.9,75.0" fill="none" stroke="#fff" stroke-width="1.1"/><ellipse cx="639.9" cy="75.0" rx="1.3" ry="1" fill="#fff"/><path d="M651.1,73.8 Q655.8,71.1 646.0,70.7" fill="none" stroke="#fff" stroke-width="1.1"/><ellipse cx="646.0" cy="70.7" rx="1.3" ry="1" fill="#fff"/><path d="M654.9,73.3 Q663.3,73.3 656.7,69.7" fill="none" stroke="#fff" stroke-width="1.1"/><ellipse cx="656.7" cy="69.7" rx="1.3" ry="1" fill="#fff"/><path d="M658.1,74.7 Q665.3,77.3 665.8,72.6" fill="none" stroke="#fff" stroke-width="1.1"/><ellipse cx="665.8" cy="72.6" rx="1.3" ry="1" fill="#fff"/><ellipse cx="653.9" cy="76.4" rx="5.8" ry="3.7" fill="#e4f4f8" stroke="#fff" stroke-width="1"/><ellipse cx="654.3" cy="76.7" rx="2.3" ry="1.5" fill="#bfe3ee"/><polyline points="657.5,93.0 662.1,93.0" fill="none" stroke="#e8f5f9" stroke-width="1"/><circle cx="662.3" cy="93.0" r="0.9" fill="#e8f5f9"/><polyline points="657.5,98.4 662.1,98.4" fill="none" stroke="#e8f5f9" stroke-width="1"/><circle cx="662.3" cy="98.4" r="0.9" fill="#e8f5f9"/><polyline points="657.5,103.8 662.1,103.8" fill="none" stroke="#e8f5f9" stroke-width="1"/><circle cx="662.3" cy="103.8" r="0.9" fill="#e8f5f9"/><polyline points="659.0,93.0 659.0,103.8" fill="none" stroke="#e8f5f9" stroke-width="0.8"/><circle cx="652.5" cy="98.4" r="5.9" fill="#fff"/><text x="652.5" y="101.5" text-anchor="middle" font-size="8.6" font-weight="bold" fill="#222">R</text>
<polyline points="527,159.5 535,159.5" fill="none" stroke="#4472c4" stroke-width="2"/>
<g><polygon points="473.4,153.2 500.6,171.5 500.6,178.6 473.4,161.2" fill="url(#gLeft)" stroke="#2a8db6" stroke-linejoin="round" stroke-width="3"/><polygon points="500.6,171.5 527.7,153.2 527.7,161.2 500.6,178.6" fill="url(#gRight)" stroke="#2582ad" stroke-linejoin="round" stroke-width="3"/><polygon points="500.6,135.9 527.7,153.2 500.6,171.5 473.4,153.2" fill="url(#gTop)" stroke="#3aa2c4" stroke-linejoin="round" stroke-width="3"/><polyline points="473.4,153.7 500.6,171.9 527.7,153.7" fill="none" stroke="#6cc6da" stroke-width="0.7" opacity="0.7"/></g><polyline points="503.2,139.0 503.2,164.6" fill="none" stroke="#fff" stroke-width="1.5"/><path d="M488.2,145.9 Q496.0,149.6 503.2,147.0" fill="none" stroke="#fff" stroke-width="1.2"/><polyline points="479.3,150.7 503.2,150.7" fill="none" stroke="#fff" stroke-width="0.9" stroke-dasharray="1.2 0.5" opacity="0.9"/><polyline points="489.7,155.1 503.2,155.1" fill="none" stroke="#fff" stroke-width="1.4" stroke-dasharray="2 3.2"/><polyline points="497.1,158.7 503.2,158.7" fill="none" stroke="#fff" stroke-width="1" stroke-dasharray="1.2 1.2"/><polyline points="499.4,162.0 503.2,162.0" fill="none" stroke="#fff" stroke-width="1" stroke-dasharray="1 1"/><polyline points="507.0,152.0 517.7,152.0" fill="none" stroke="#fff" stroke-width="1.5"/><polygon points="521.8,152.0 517.3,154.5 517.3,149.4" fill="#fff"/><text transform="matrix(1,0.637,0,1,485.2,168.1)" text-anchor="middle" font-size="6.5120000000000005" font-weight="bold" fill="#fff" stroke="#fff" stroke-width="0.33" font-family="&quot;Liberation Sans&quot;,sans-serif" textLength="16.5" lengthAdjust="spacingAndGlyphs">DCFS</text>
<g><polygon points="534.2,153.2 561.4,171.5 561.4,178.6 534.2,161.2" fill="url(#gLeft)" stroke="#2a8db6" stroke-linejoin="round" stroke-width="3"/><polygon points="561.4,171.5 588.5,153.2 588.5,161.2 561.4,178.6" fill="url(#gRight)" stroke="#2582ad" stroke-linejoin="round" stroke-width="3"/><polygon points="561.4,135.9 588.5,153.2 561.4,171.5 534.2,153.2" fill="url(#gTop)" stroke="#3aa2c4" stroke-linejoin="round" stroke-width="3"/><polyline points="534.2,153.7 561.4,171.9 588.5,153.7" fill="none" stroke="#6cc6da" stroke-width="0.7" opacity="0.7"/></g><polyline points="564.0,139.0 564.0,164.6" fill="none" stroke="#fff" stroke-width="1.5"/><path d="M549.0,145.9 Q556.8,149.6 564.0,147.0" fill="none" stroke="#fff" stroke-width="1.2"/><polyline points="540.1,150.7 564.0,150.7" fill="none" stroke="#fff" stroke-width="0.9" stroke-dasharray="1.2 0.5" opacity="0.9"/><polyline points="550.5,155.1 564.0,155.1" fill="none" stroke="#fff" stroke-width="1.4" stroke-dasharray="2 3.2"/><polyline points="557.9,158.7 564.0,158.7" fill="none" stroke="#fff" stroke-width="1" stroke-dasharray="1.2 1.2"/><polyline points="560.2,162.0 564.0,162.0" fill="none" stroke="#fff" stroke-width="1" stroke-dasharray="1 1"/><polyline points="567.8,152.0 578.5,152.0" fill="none" stroke="#fff" stroke-width="1.5"/><polygon points="582.6,152.0 578.1,154.5 578.1,149.4" fill="#fff"/><text transform="matrix(1,0.637,0,1,546.0,168.1)" text-anchor="middle" font-size="6.5120000000000005" font-weight="bold" fill="#fff" stroke="#fff" stroke-width="0.33" font-family="&quot;Liberation Sans&quot;,sans-serif" textLength="16.5" lengthAdjust="spacingAndGlyphs">DCFS</text>
<g opacity="0.86"><clipPath id="vc2"><path d="M536.7,203.0 Q547.4,197.2 558.1,203.0 L604.5,227.9 Q615.2,233.7 615.2,245.9 L615.2,249.9 Q615.2,262.1 604.5,267.9 L558.1,292.8 Q547.4,298.6 536.7,292.8 L490.3,267.9 Q479.6,262.1 479.6,249.9 L479.6,245.9 Q479.6,233.7 490.3,227.9 Z"/></clipPath><g clip-path="url(#vc2)"><rect x="479.6" y="197.2" width="135.6" height="101.4" fill="#86b9c8"/><polygon points="547.4,270.1 617.2,232.7 617.2,300.6 547.4,300.6" fill="#7bb0c3"/><path d="M539.9,200.3 Q547.4,196.2 554.9,200.3 L609.2,229.6 Q616.7,233.7 609.1,237.6 L555.0,266.1 Q547.4,270.1 539.8,266.1 L485.7,237.6 Q478.1,233.7 485.6,229.6 Z" fill="#a2ccd5"/></g></g><path d="M538.8,209.1 Q547.4,204.5 556.0,209.1 L593.0,229.0 Q601.6,233.7 593.0,238.3 L556.0,258.2 Q547.4,262.8 538.8,258.2 L501.8,238.3 Q493.2,233.7 501.8,229.0 Z" fill="none" stroke="#d3e7ec" stroke-width="0.8" opacity="0.75"/><polygon points="527.1,215.4 543.3,208.1 570.5,225.6 554.2,232.9" fill="#fff" opacity="0.88"/><polygon points="524.3,233.7 540.6,226.4 570.5,245.3 554.2,252.6" fill="#fff" opacity="0.88"/><polygon points="539.3,229.3 554.2,232.9 556.9,239.5 540.6,231.5" fill="#fff" opacity="0.6"/><text x="546.6" y="233.1" text-anchor="middle" font-size="17" font-weight="bold" fill="#e2665e" opacity="0.74" textLength="28.0" lengthAdjust="spacingAndGlyphs">VSF</text><polyline points="525.6,246.8 566.4,246.8" fill="none" stroke="#e26a62" stroke-width="0.8" opacity="0.7"/><polyline points="525.6,248.8 566.4,248.8" fill="none" stroke="#e26a62" stroke-width="0.8" opacity="0.7"/><ellipse cx="546.0" cy="247.8" rx="3.1" ry="5.7" fill="none" stroke="#e26a62" stroke-width="1.1" opacity="0.7"/><text transform="matrix(1,0.538,0,1,529.0,286.5)" text-anchor="middle" font-size="15" font-weight="bold" fill="#fff" stroke="#fff" stroke-width="0.75" font-family="&quot;Liberation Sans&quot;,sans-serif" opacity="0.9">CH</text><text transform="matrix(1,0.538,0,1,487.0,262.0)" text-anchor="middle" font-size="15" font-weight="bold" fill="#fff" stroke="#fff" stroke-width="0.75" font-family="&quot;Liberation Sans&quot;,sans-serif" opacity="0.9">S</text>
<polygon points="486.6,217.4 509.5,228.0 509.5,277.8 486.6,267.6" fill="#2c8fba" stroke="#2c8fba" stroke-width="1.2" stroke-linejoin="round"/><polygon points="509.5,228.0 529.0,217.4 529.0,265.7 509.5,277.8" fill="url(#gRight)" stroke="#2887b2" stroke-width="1.2" stroke-linejoin="round"/><polygon points="487.2,230.7 506.3,239.2 506.3,275.0 487.2,266.4" fill="#3b7ba2"/><polygon points="487.2,231.7 506.3,240.2 506.3,244.2 487.2,235.7" fill="#3f8db3"/><polygon points="488.2,237.3 505.3,245.0 505.3,259.3 488.2,251.6" fill="#6a94b0"/><polygon points="488.7,238.4 495.2,241.3 495.2,246.9 488.7,244.0" fill="#9db9cc" opacity="0.8"/><polygon points="488.7,245.4 495.2,248.3 495.2,253.9 488.7,251.0" fill="#9db9cc" opacity="0.8"/><polygon points="496.8,242.0 504.8,245.6 504.8,248.4 496.8,244.8" fill="#7fa3bd" opacity="0.8"/><polygon points="496.8,246.0 504.8,249.6 504.8,253.6 496.8,250.0" fill="#3b7ba2" opacity="0.8"/><polygon points="496.8,251.0 504.8,254.6 504.8,258.2 496.8,254.6" fill="#7fa3bd" opacity="0.8"/><polygon points="488.0,253.3 505.5,261.1 505.5,264.5 488.0,256.7" fill="#a9d6ea"/><polygon points="489.1,259.6 492.0,260.8 492.0,265.2 489.1,264.0" fill="#5b6470"/><polygon points="493.5,261.5 496.4,262.8 496.4,267.2 493.5,265.9" fill="#5b6470"/><polygon points="497.9,263.5 500.8,264.8 500.8,269.2 497.9,267.9" fill="#5b6470"/><polygon points="502.3,265.4 505.2,266.7 505.2,271.1 502.3,269.8" fill="#5b6470"/><polyline points="486.6,221.0 507.7,232.4 529.0,221.0" fill="none" stroke="#1d6f9b" stroke-width="1.6" opacity="0.55" stroke-linejoin="round"/><g><polygon points="486.5,213.4 507.7,224.7 507.7,230.1 486.5,219.8" fill="#37a3c6" stroke="#2a8db6" stroke-linejoin="round" stroke-width="3"/><polygon points="507.7,224.7 528.9,213.4 528.9,219.8 507.7,230.1" fill="#2f97be" stroke="#2582ad" stroke-linejoin="round" stroke-width="3"/><polygon points="507.7,203.1 528.9,213.4 507.7,224.7 486.5,213.4" fill="url(#gTop)" stroke="#3aa2c4" stroke-linejoin="round" stroke-width="3"/><polyline points="486.5,213.8 507.7,225.1 528.9,213.8" fill="none" stroke="#6cc6da" stroke-width="0.7" opacity="0.7"/></g><polygon points="494.5,212.8 503.6,209.2 507.5,211.6 498.4,215.2" fill="#fff"/><polygon points="508.6,217.8 517.7,214.2 521.5,216.6 512.5,220.2" fill="#fff"/><polyline points="503.2,215.0 511.3,212.4" fill="none" stroke="#fff" stroke-width="0.8"/><polyline points="505.4,216.8 513.1,214.4" fill="none" stroke="#fff" stroke-width="0.8"/><polygon points="512.2,212.1 511.1,213.6 510.5,211.9" fill="#fff"/><polygon points="504.5,217.1 505.6,215.7 506.3,217.4" fill="#fff"/>
<polygon points="565.8,217.4 588.5,228.0 588.5,277.8 565.8,267.6" fill="#2c8fba" stroke="#2c8fba" stroke-width="1.2" stroke-linejoin="round"/><polygon points="588.5,228.0 607.8,217.4 607.8,265.7 588.5,277.8" fill="url(#gRight)" stroke="#2887b2" stroke-width="1.2" stroke-linejoin="round"/><polygon points="566.4,230.7 585.3,239.2 585.3,274.9 566.4,266.4" fill="#3b7ba2"/><polygon points="566.4,231.7 585.3,240.2 585.3,244.2 566.4,235.7" fill="#3f8db3"/><polygon points="567.4,237.4 584.3,245.0 584.3,259.3 567.4,251.7" fill="#6a94b0"/><polygon points="567.9,238.4 574.3,241.3 574.3,246.9 567.9,244.0" fill="#9db9cc" opacity="0.8"/><polygon points="567.9,245.4 574.3,248.3 574.3,253.9 567.9,251.0" fill="#9db9cc" opacity="0.8"/><polygon points="575.9,242.0 583.8,245.5 583.8,248.3 575.9,244.8" fill="#7fa3bd" opacity="0.8"/><polygon points="575.9,246.0 583.8,249.5 583.8,253.5 575.9,250.0" fill="#3b7ba2" opacity="0.8"/><polygon points="575.9,251.0 583.8,254.5 583.8,258.1 575.9,254.6" fill="#7fa3bd" opacity="0.8"/><polygon points="567.2,253.3 584.5,261.1 584.5,264.5 567.2,256.7" fill="#a9d6ea"/><polygon points="568.3,259.6 571.1,260.8 571.1,265.2 568.3,264.0" fill="#5b6470"/><polygon points="572.6,261.5 575.5,262.8 575.5,267.2 572.6,265.9" fill="#5b6470"/><polygon points="577.0,263.5 579.8,264.8 579.8,269.2 577.0,267.9" fill="#5b6470"/><polygon points="581.3,265.4 584.2,266.7 584.2,271.1 581.3,269.8" fill="#5b6470"/><polyline points="565.8,221.0 586.7,232.4 607.8,221.0" fill="none" stroke="#1d6f9b" stroke-width="1.6" opacity="0.55" stroke-linejoin="round"/><g><polygon points="565.7,213.4 586.7,224.7 586.7,230.1 565.7,219.8" fill="#37a3c6" stroke="#2a8db6" stroke-linejoin="round" stroke-width="3"/><polygon points="586.7,224.7 607.7,213.4 607.7,219.8 586.7,230.1" fill="#2f97be" stroke="#2582ad" stroke-linejoin="round" stroke-width="3"/><polygon points="586.7,203.1 607.7,213.4 586.7,224.7 565.7,213.4" fill="url(#gTop)" stroke="#3aa2c4" stroke-linejoin="round" stroke-width="3"/><polyline points="565.7,213.8 586.7,225.1 607.7,213.8" fill="none" stroke="#6cc6da" stroke-width="0.7" opacity="0.7"/></g><polygon points="573.7,212.8 582.7,209.2 586.5,211.6 577.5,215.2" fill="#fff"/><polygon points="587.6,217.8 596.6,214.2 600.4,216.6 591.4,220.2" fill="#fff"/><polyline points="582.2,215.0 590.3,212.4" fill="none" stroke="#fff" stroke-width="0.8"/><polyline points="584.5,216.8 592.1,214.4" fill="none" stroke="#fff" stroke-width="0.8"/><polygon points="591.2,212.1 590.1,213.6 589.4,211.9" fill="#fff"/><polygon points="583.6,217.1 584.7,215.7 585.3,217.4" fill="#fff"/>
<polygon points="777.8,81.2 806.0,65.6 806.0,105.1 777.8,120.6" fill="url(#gSideL)" stroke="#2a8db6" stroke-linejoin="round" stroke-width="0.8"/><polygon points="763.2,73.7 777.8,81.2 777.8,120.6 763.2,113.2" fill="url(#gTowerF)" stroke="#2a8bb5" stroke-linejoin="round" stroke-width="0.8"/><polygon points="763.2,73.7 791.4,58.2 806.0,65.6 777.8,81.2" fill="url(#gTowerT)" stroke="#3498bf" stroke-linejoin="round" stroke-width="0.8"/><g opacity="0.6"><polyline points="764.4,77.5 776.3,83.5" fill="none" stroke="#1c6c98" stroke-width="0.7"/><polyline points="764.4,79.9 776.3,85.9" fill="none" stroke="#1c6c98" stroke-width="0.7"/><polyline points="764.4,82.2 776.3,88.3" fill="none" stroke="#1c6c98" stroke-width="0.7"/><polyline points="764.4,84.6 776.3,90.6" fill="none" stroke="#1c6c98" stroke-width="0.7"/><polyline points="769.7,93.6 776.3,97.0" fill="none" stroke="#1c6c98" stroke-width="0.5"/><polyline points="769.7,95.8 776.3,99.1" fill="none" stroke="#1c6c98" stroke-width="0.5"/><polyline points="769.7,98.0 776.3,101.3" fill="none" stroke="#1c6c98" stroke-width="0.5"/><polyline points="769.7,100.1 776.3,103.5" fill="none" stroke="#1c6c98" stroke-width="0.5"/><polyline points="769.7,102.3 776.3,105.6" fill="none" stroke="#1c6c98" stroke-width="0.5"/><polyline points="769.7,104.5 776.3,107.8" fill="none" stroke="#1c6c98" stroke-width="0.5"/><polyline points="769.7,106.7 776.3,110.0" fill="none" stroke="#1c6c98" stroke-width="0.5"/><polyline points="769.7,108.8 776.3,112.1" fill="none" stroke="#1c6c98" stroke-width="0.5"/><polyline points="769.7,111.0 776.3,114.3" fill="none" stroke="#1c6c98" stroke-width="0.5"/><circle cx="770.5" cy="91.6" r="0.8" fill="#14587f"/></g><text transform="matrix(1,-0.550,0,1,792.5,95.5)" text-anchor="middle" font-size="3.7" fill="#fff" font-style="italic" textLength="18.6" lengthAdjust="spacingAndGlyphs" font-weight="bold">视频服务器</text>
<polygon points="818.1,80.8 846.0,65.5 846.0,104.1 818.1,119.4" fill="url(#gSideL)" stroke="#2a8db6" stroke-linejoin="round" stroke-width="0.8"/><polygon points="803.8,73.5 818.1,80.8 818.1,119.4 803.8,112.1" fill="url(#gTowerF)" stroke="#2a8bb5" stroke-linejoin="round" stroke-width="0.8"/><polygon points="803.8,73.5 831.7,58.2 846.0,65.5 818.1,80.8" fill="url(#gTowerT)" stroke="#3498bf" stroke-linejoin="round" stroke-width="0.8"/><g opacity="0.6"><polyline points="805.0,77.2 816.6,83.2" fill="none" stroke="#1c6c98" stroke-width="0.7"/><polyline points="805.0,79.5 816.6,85.5" fill="none" stroke="#1c6c98" stroke-width="0.7"/><polyline points="805.0,81.8 816.6,87.8" fill="none" stroke="#1c6c98" stroke-width="0.7"/><polyline points="805.0,84.2 816.6,90.1" fill="none" stroke="#1c6c98" stroke-width="0.7"/><polyline points="810.3,93.0 816.6,96.3" fill="none" stroke="#1c6c98" stroke-width="0.5"/><polyline points="810.3,95.1 816.6,98.4" fill="none" stroke="#1c6c98" stroke-width="0.5"/><polyline points="810.3,97.3 816.6,100.5" fill="none" stroke="#1c6c98" stroke-width="0.5"/><polyline points="810.3,99.4 816.6,102.6" fill="none" stroke="#1c6c98" stroke-width="0.5"/><polyline points="810.3,101.5 816.6,104.8" fill="none" stroke="#1c6c98" stroke-width="0.5"/><polyline points="810.3,103.6 816.6,106.9" fill="none" stroke="#1c6c98" stroke-width="0.5"/><polyline points="810.3,105.7 816.6,109.0" fill="none" stroke="#1c6c98" stroke-width="0.5"/><polyline points="810.3,107.9 816.6,111.1" fill="none" stroke="#1c6c98" stroke-width="0.5"/><polyline points="810.3,110.0 816.6,113.2" fill="none" stroke="#1c6c98" stroke-width="0.5"/><circle cx="811.0" cy="91.1" r="0.8" fill="#14587f"/></g><text transform="matrix(1,-0.550,0,1,832.7,94.9)" text-anchor="middle" font-size="3.7" fill="#fff" font-style="italic" textLength="18.4" lengthAdjust="spacingAndGlyphs" font-weight="bold">视频服务器</text>
<polygon points="859.2,81.8 886.8,66.6 886.8,105.0 859.2,120.2" fill="url(#gSideL)" stroke="#2a8db6" stroke-linejoin="round" stroke-width="0.8"/><polygon points="845.0,74.6 859.2,81.8 859.2,120.2 845.0,113.0" fill="url(#gTowerF)" stroke="#2a8bb5" stroke-linejoin="round" stroke-width="0.8"/><polygon points="845.0,74.6 872.6,59.4 886.8,66.6 859.2,81.8" fill="url(#gTowerT)" stroke="#3498bf" stroke-linejoin="round" stroke-width="0.8"/><g opacity="0.6"><polyline points="846.2,78.3 857.7,84.1" fill="none" stroke="#1c6c98" stroke-width="0.7"/><polyline points="846.2,80.6 857.7,86.4" fill="none" stroke="#1c6c98" stroke-width="0.7"/><polyline points="846.2,82.9 857.7,88.7" fill="none" stroke="#1c6c98" stroke-width="0.7"/><polyline points="846.2,85.2 857.7,91.0" fill="none" stroke="#1c6c98" stroke-width="0.7"/><polyline points="851.4,94.0 857.7,97.2" fill="none" stroke="#1c6c98" stroke-width="0.5"/><polyline points="851.4,96.1 857.7,99.3" fill="none" stroke="#1c6c98" stroke-width="0.5"/><polyline points="851.4,98.2 857.7,101.4" fill="none" stroke="#1c6c98" stroke-width="0.5"/><polyline points="851.4,100.3 857.7,103.5" fill="none" stroke="#1c6c98" stroke-width="0.5"/><polyline points="851.4,102.4 857.7,105.6" fill="none" stroke="#1c6c98" stroke-width="0.5"/><polyline points="851.4,104.5 857.7,107.7" fill="none" stroke="#1c6c98" stroke-width="0.5"/><polyline points="851.4,106.6 857.7,109.8" fill="none" stroke="#1c6c98" stroke-width="0.5"/><polyline points="851.4,108.7 857.7,112.0" fill="none" stroke="#1c6c98" stroke-width="0.5"/><polyline points="851.4,110.8 857.7,114.1" fill="none" stroke="#1c6c98" stroke-width="0.5"/><circle cx="852.1" cy="92.0" r="0.8" fill="#14587f"/></g><text transform="matrix(1,-0.550,0,1,873.6,95.8)" text-anchor="middle" font-size="3.7" fill="#fff" font-style="italic" textLength="18.2" lengthAdjust="spacingAndGlyphs" font-weight="bold">视频服务器</text>
<polygon points="895.9,80.1 923.4,64.9 923.4,104.1 895.9,119.2" fill="url(#gSideL)" stroke="#2a8db6" stroke-linejoin="round" stroke-width="0.8"/><polygon points="881.7,72.8 895.9,80.1 895.9,119.2 881.7,112.0" fill="url(#gTowerF)" stroke="#2a8bb5" stroke-linejoin="round" stroke-width="0.8"/><polygon points="881.7,72.8 909.2,57.7 923.4,64.9 895.9,80.1" fill="url(#gTowerT)" stroke="#3498bf" stroke-linejoin="round" stroke-width="0.8"/><g opacity="0.6"><polyline points="882.9,76.6 894.4,82.4" fill="none" stroke="#1c6c98" stroke-width="0.7"/><polyline points="882.9,78.9 894.4,84.8" fill="none" stroke="#1c6c98" stroke-width="0.7"/><polyline points="882.9,81.3 894.4,87.1" fill="none" stroke="#1c6c98" stroke-width="0.7"/><polyline points="882.9,83.6 894.4,89.5" fill="none" stroke="#1c6c98" stroke-width="0.7"/><polyline points="888.1,92.5 894.4,95.7" fill="none" stroke="#1c6c98" stroke-width="0.5"/><polyline points="888.1,94.7 894.4,97.9" fill="none" stroke="#1c6c98" stroke-width="0.5"/><polyline points="888.1,96.8 894.4,100.0" fill="none" stroke="#1c6c98" stroke-width="0.5"/><polyline points="888.1,99.0 894.4,102.2" fill="none" stroke="#1c6c98" stroke-width="0.5"/><polyline points="888.1,101.1 894.4,104.3" fill="none" stroke="#1c6c98" stroke-width="0.5"/><polyline points="888.1,103.3 894.4,106.5" fill="none" stroke="#1c6c98" stroke-width="0.5"/><polyline points="888.1,105.4 894.4,108.7" fill="none" stroke="#1c6c98" stroke-width="0.5"/><polyline points="888.1,107.6 894.4,110.8" fill="none" stroke="#1c6c98" stroke-width="0.5"/><polyline points="888.1,109.7 894.4,113.0" fill="none" stroke="#1c6c98" stroke-width="0.5"/><circle cx="888.8" cy="90.5" r="0.8" fill="#14587f"/></g>
<polygon points="898.7,117.4 906.3,113.8 921.7,122.7 914.3,126.5" fill="url(#gTop)" stroke="#2a86b0" stroke-width="0.6" stroke-linejoin="round"/>
<polygon points="909.0,87.4 930.2,98.2 930.2,114.4 909.0,104.2" fill="#1f6f98" stroke="#1f6f98" stroke-width="1" stroke-linejoin="round"/><polygon points="910.0,89.6 929.0,99.8 929.0,112.0 910.0,102.2" fill="#3cabc9"/><polygon points="915.4,109.6 920.7,112.0 922.1,116.4 914.3,113.9" fill="#2a86b0"/>
<path d="M921,121 q6,-4 9.5,-1.5 q1.5,2.5 -2,4.5" fill="none" stroke="#7fa9c6" stroke-width="0.5"/><ellipse cx="926.5" cy="124.8" rx="2" ry="1.2" fill="#2a86b0" transform="rotate(-25 926.5 124.8)"/>
<polygon points="978.7,44.6 989.8,36.9 1038.8,65.2 1027.6,72.1" fill="url(#gTowerT)" stroke="#3aa0c2" stroke-width="0.8" stroke-linejoin="round"/><polygon points="1027.6,72.1 1038.8,65.2 1038.8,108.2 1027.6,115.0" fill="#3aa6c7" stroke="#3aa6c7" stroke-width="0.8" stroke-linejoin="round"/><polygon points="978.7,44.6 1027.6,72.1 1027.6,115.0 978.7,87.6" fill="#2b8ab3" stroke="#2b8ab3" stroke-width="0.8" stroke-linejoin="round"/><polygon points="981.2,48.6 1025.4,73.0 1025.4,109.9 981.2,85.8" fill="#fff" stroke="#1d648c" stroke-width="0.7"/><polyline points="992.2,54.7 992.2,91.8" fill="none" stroke="#9dbfd6" stroke-width="0.7"/><polyline points="1003.3,60.8 1003.3,97.8" fill="none" stroke="#9dbfd6" stroke-width="0.7"/><polyline points="1014.4,66.9 1014.4,103.9" fill="none" stroke="#9dbfd6" stroke-width="0.7"/><polyline points="981.2,61.0 1025.4,85.3" fill="none" stroke="#7fa9c6" stroke-width="0.7"/><polyline points="981.2,73.4 1025.4,97.6" fill="none" stroke="#7fa9c6" stroke-width="0.7"/>
<polygon points="949.0,105.2 965.8,93.2 1009.0,119.0 991.5,130.2" fill="#2a86b0" stroke="#2a86b0" stroke-width="0.8" stroke-linejoin="round"/><polygon points="949.0,103.0 965.8,91.0 1009.0,116.8 991.5,128.0" fill="url(#gTop)" stroke="#3aa2c4" stroke-width="0.8" stroke-linejoin="round"/><ellipse cx="961.9" cy="98.0" rx="0.95" ry="0.7" fill="#fff"/><ellipse cx="959.9" cy="99.4" rx="0.95" ry="0.7" fill="#fff"/><ellipse cx="957.9" cy="100.9" rx="0.95" ry="0.7" fill="#fff"/><ellipse cx="964.1" cy="99.2" rx="0.95" ry="0.7" fill="#fff"/><ellipse cx="962.1" cy="100.7" rx="0.95" ry="0.7" fill="#fff"/><ellipse cx="960.1" cy="102.1" rx="0.95" ry="0.7" fill="#fff"/><ellipse cx="966.3" cy="100.5" rx="0.95" ry="0.7" fill="#fff"/><ellipse cx="964.3" cy="101.9" rx="0.95" ry="0.7" fill="#fff"/><ellipse cx="962.3" cy="103.4" rx="0.95" ry="0.7" fill="#fff"/><ellipse cx="968.5" cy="101.7" rx="0.95" ry="0.7" fill="#fff"/><ellipse cx="966.5" cy="103.2" rx="0.95" ry="0.7" fill="#fff"/><ellipse cx="964.5" cy="104.6" rx="0.95" ry="0.7" fill="#fff"/><ellipse cx="976.8" cy="107.1" rx="0.95" ry="0.7" fill="#fff"/><ellipse cx="974.8" cy="108.5" rx="0.95" ry="0.7" fill="#fff"/><ellipse cx="972.8" cy="110.0" rx="0.95" ry="0.7" fill="#fff"/><ellipse cx="979.0" cy="108.3" rx="0.95" ry="0.7" fill="#fff"/><ellipse cx="977.0" cy="109.8" rx="0.95" ry="0.7" fill="#fff"/><ellipse cx="975.0" cy="111.2" rx="0.95" ry="0.7" fill="#fff"/><ellipse cx="981.2" cy="109.6" rx="0.95" ry="0.7" fill="#fff"/><ellipse cx="979.2" cy="111.0" rx="0.95" ry="0.7" fill="#fff"/><ellipse cx="977.2" cy="112.5" rx="0.95" ry="0.7" fill="#fff"/><ellipse cx="983.4" cy="110.8" rx="0.95" ry="0.7" fill="#fff"/><ellipse cx="981.4" cy="112.3" rx="0.95" ry="0.7" fill="#fff"/><ellipse cx="979.4" cy="113.7" rx="0.95" ry="0.7" fill="#fff"/><ellipse cx="993.5" cy="118.3" rx="3.2" ry="1.9" fill="#2a86b0"/><polyline points="993.5,118.0 994.2,110.5" fill="none" stroke="#2a86b0" stroke-width="1.6" stroke-linecap="round"/><polyline points="957.5,96.6 964.0,100.0" fill="none" stroke="#2a86b0" stroke-width="0.8"/>
<path d="M776.5,250 C765,250 760.5,243.5 760.5,237.5 C760.5,230.5 766,225.5 773.5,225.8 C775.5,216.5 784,210.5 794,210.5 C803,210.5 810,215 813.5,222 C818,217.5 826,215.8 831.5,219.5 C837.5,223.5 839,230 838.6,236 C838,244.5 832,250 824,250 Z" fill="none" stroke="#3f7c80" stroke-width="3.4" stroke-linejoin="round"/><path d="M804.5,228 C806.5,224.5 810,222.5 813.5,222" fill="none" stroke="#3f7c80" stroke-width="3.4" stroke-linecap="round"/><text x="800" y="243" text-anchor="middle" font-size="17" font-weight="bold" fill="#5b9bd5" textLength="69" lengthAdjust="spacingAndGlyphs">ImCloud</text>
<ellipse cx="876.4" cy="211.2" rx="32.1" ry="15.5" fill="#1f7aa6"/><ellipse cx="876.4" cy="209.6" rx="32.1" ry="14.9" fill="url(#gDisk)"/><ellipse cx="876.4" cy="210.5" rx="9.6" ry="5.1" fill="url(#gGlow)" opacity="0.75"/><circle cx="877.4" cy="194.8" r="18.6" fill="none" stroke="#d9dde0" stroke-width="1.3"/><circle cx="877.4" cy="194.8" r="18.6" fill="none" stroke="#a8adb2" stroke-width="0.5"/><circle cx="877.6" cy="194.6" r="10.2" fill="#3f8fd0"/><ellipse cx="876.3" cy="190.6" rx="6.8" ry="4.4" fill="#cfe6f7" opacity="0.85"/><path d="M869.6,196 h16 M871.5,200.5 q6,3 12,0" fill="none" stroke="#d6ebf8" stroke-width="1" opacity="0.8"/><path d="M864.5,206.5 C860.5,198.5 868,186.5 888.5,187.5" fill="none" stroke="#f2a81d" stroke-width="1.7" stroke-linecap="round"/><circle cx="888.6" cy="180.2" r="1.5" fill="#e8eaec" stroke="#9aa0a5" stroke-width="0.4"/><circle cx="866.3" cy="209.4" r="1.5" fill="#e8eaec" stroke="#9aa0a5" stroke-width="0.4"/>
<ellipse cx="948.7" cy="207.8" rx="31.6" ry="17.0" fill="#1f7aa6"/><ellipse cx="948.7" cy="206.2" rx="31.6" ry="16.4" fill="url(#gDisk)"/><ellipse cx="948.7" cy="207.1" rx="9.5" ry="5.6" fill="url(#gGlow)" opacity="0.75"/><polyline points="923.5,198.6 932.8,198.6" fill="none" stroke="#fff" stroke-width="1.9"/><polygon points="936.0,198.6 931.8,201.0 931.8,196.2" fill="#fff"/><circle cx="949.3" cy="195.4" r="11.6" fill="#fff" stroke="#9a9fa3" stroke-width="1.2"/><polyline points="940.9,190.1 940.9,200.7" fill="none" stroke="#8d9398" stroke-width="1.3" stroke-dasharray="2.6 0.9"/><polyline points="945.1,187.0 945.1,203.8" fill="none" stroke="#8d9398" stroke-width="1.3" stroke-dasharray="2.6 0.9"/><polyline points="949.3,186.2 949.3,204.6" fill="none" stroke="#8d9398" stroke-width="1.3" stroke-dasharray="2.6 0.9"/><polyline points="953.5,187.0 953.5,203.8" fill="none" stroke="#8d9398" stroke-width="1.3" stroke-dasharray="2.6 0.9"/><polyline points="957.7,190.1 957.7,200.7" fill="none" stroke="#8d9398" stroke-width="1.3" stroke-dasharray="2.6 0.9"/><polyline points="962.5,198.6 972.3,198.6" fill="none" stroke="#fff" stroke-width="1.9"/><polygon points="975.5,198.6 971.3,201.0 971.3,196.2" fill="#fff"/>
<ellipse cx="1019.4" cy="207.0" rx="31.4" ry="16.4" fill="#1f7aa6"/><ellipse cx="1019.4" cy="205.4" rx="31.4" ry="15.8" fill="url(#gDisk)"/><ellipse cx="1019.4" cy="206.3" rx="9.4" ry="5.4" fill="url(#gGlow)" opacity="0.75"/><polygon points="1016.8,189.0 1032.0,181.7 1032.0,204.0 1016.8,212.4" fill="#6a6a6a"/><polygon points="1005.8,184.5 1016.8,189.0 1016.8,212.4 1005.8,206.1" fill="url(#gGrey)"/><polygon points="1005.8,184.5 1021.0,177.5 1032.0,181.7 1016.8,189.0" fill="#a8a8a8"/><polyline points="1007.8,196.3 1010.8,197.7" fill="none" stroke="#4a4a4a" stroke-width="0.7"/><polyline points="1007.8,198.0 1010.8,199.4" fill="none" stroke="#4a4a4a" stroke-width="0.7"/><polyline points="1007.8,199.8 1010.8,201.2" fill="none" stroke="#4a4a4a" stroke-width="0.7"/><path d="M1029.2,200.0 v-2.5 a2.8,3.0 0 0 1 5.5,0 v2.5" fill="none" stroke="#c9c9c9" stroke-width="1.3"/><circle cx="1032.0" cy="202.8" r="4.2" fill="#b9b9b9" stroke="#e6e6e6" stroke-width="0.6"/><circle cx="1032.0" cy="202.5" r="1.1" fill="#6f6f6f"/>
<g><polygon points="848.1,243.3 877.0,258.6 877.0,270.7 848.1,256.1" fill="url(#gLeft)" stroke="#2a8db6" stroke-linejoin="round" stroke-width="2.4"/><polygon points="877.0,258.6 905.8,243.3 905.8,256.1 877.0,270.7" fill="url(#gRight)" stroke="#2582ad" stroke-linejoin="round" stroke-width="2.4"/><polygon points="877.0,228.8 905.8,243.3 877.0,258.6 848.1,243.3" fill="url(#gTop)" stroke="#3aa2c4" stroke-linejoin="round" stroke-width="2.4"/><polyline points="848.1,243.8 877.0,259.0 905.8,243.8" fill="none" stroke="#6cc6da" stroke-width="0.7" opacity="0.7"/></g><text transform="matrix(1,0.500,0,1,862.5,260.6)" text-anchor="middle" font-size="6.6" font-weight="bold" fill="#fff" stroke="#fff" stroke-width="0.33" font-family="&quot;Liberation Sans&quot;,sans-serif">DB</text><polyline points="853.5,243.9 863.3,243.9" fill="none" stroke="#fff" stroke-width="1.9"/><polygon points="866.5,243.9 862.3,246.3 862.3,241.5" fill="#fff"/><rect x="867.6" y="229.7" width="19.4" height="23" fill="#fff" stroke="#9a9fa3" stroke-width="1"/><polyline points="871.1,232.0 871.1,250.6" fill="none" stroke="#8d9398" stroke-width="1.3" stroke-dasharray="2.8 0.9"/><polyline points="875.2,232.0 875.2,250.6" fill="none" stroke="#8d9398" stroke-width="1.3" stroke-dasharray="2.8 0.9"/><polyline points="879.3,232.0 879.3,250.6" fill="none" stroke="#8d9398" stroke-width="1.3" stroke-dasharray="2.8 0.9"/><polyline points="883.4,232.0 883.4,250.6" fill="none" stroke="#8d9398" stroke-width="1.3" stroke-dasharray="2.8 0.9"/><polyline points="887.8,243.9 897.3,243.9" fill="none" stroke="#fff" stroke-width="1.9"/><polygon points="900.5,243.9 896.3,246.3 896.3,241.5" fill="#fff"/>
<ellipse cx="949.7" cy="257.4" rx="32.6" ry="17.2" fill="#1f7aa6"/><ellipse cx="949.7" cy="255.8" rx="32.6" ry="16.6" fill="url(#gDisk)"/><ellipse cx="949.7" cy="256.7" rx="9.8" ry="5.7" fill="url(#gGlow)" opacity="0.75"/><polyline points="961.5,253.5 980.6,269.4" fill="none" stroke="#6a6a6a" stroke-width="4" stroke-linecap="round"/><polyline points="962.0,253.4 980.2,268.6" fill="none" stroke="#c4c4c4" stroke-width="1.2" stroke-linecap="round"/><circle cx="951.3" cy="242.6" r="13.6" fill="#c2c5c8" stroke="#85898d" stroke-width="1.4"/><circle cx="951.3" cy="242.6" r="11.4" fill="#a3a7ab"/><path d="M940.4,240 a11.4,11.4 0 0 1 21.8,0 q-11,-4 -21.8,0z" fill="#bfc2c5" opacity="0.8"/><polyline points="943.5,235.6 959.5,235.6" fill="none" stroke="#fff" stroke-width="1" stroke-dasharray="1.8 1"/><polyline points="943.0,241.6 957.7,241.6" fill="none" stroke="#fff" stroke-width="1.6"/><polygon points="960.5,241.6 956.9,243.7 956.9,239.5" fill="#fff"/><polyline points="949.5,248.0 960.0,248.0" fill="none" stroke="#fff" stroke-width="1.6" stroke-dasharray="2.4 1.2"/><polygon points="942.5,248.0 946.1,245.9 946.1,250.1" fill="#fff"/>
<ellipse cx="1023.2" cy="257.4" rx="30.6" ry="16.2" fill="#1f7aa6"/><ellipse cx="1023.2" cy="255.8" rx="30.6" ry="15.6" fill="url(#gDisk)"/><ellipse cx="1023.2" cy="256.7" rx="9.2" ry="5.3" fill="url(#gGlow)" opacity="0.75"/><path d="M1018.4,257.6 q4.6,-2 9.2,0 l-1.6,-6.4 h-6z" fill="#f4f4f4"/><ellipse cx="1023" cy="258" rx="6.4" ry="1.8" fill="#fdfdfd"/><rect x="1003.9" y="226.7" width="38" height="24.6" rx="1.6" fill="#1c1c1c"/><rect x="1005.5" y="228.2" width="34.8" height="20.8" fill="#858585"/><path d="M1005.5,228.2 h34.8 v7 q-18,2 -34.8,9z" fill="#a6a6a6" opacity="0.8"/><text x="1023" y="241.6" text-anchor="middle" font-size="7.4" font-weight="bold" fill="#fff">SOC</text>
<radialGradient id="cg4" gradientUnits="userSpaceOnUse" cx="0" cy="0" r="1" gradientTransform="translate(552.3,335.4) scale(62.6,28.4)"><stop offset="0" stop-color="#ffffff"/><stop offset="0.55" stop-color="#f3f7f8"/><stop offset="0.82" stop-color="#cfdde2"/><stop offset="1" stop-color="#8fa7b1"/></radialGradient><g fill="#6f9aa8" opacity="0.75"><ellipse cx="552.8" cy="339.2" rx="45.1" ry="18.7"/><ellipse cx="518.1" cy="339.2" rx="21.6" ry="12.8"/><ellipse cx="587.5" cy="340.1" rx="21.6" ry="13.2"/><ellipse cx="537.1" cy="330.0" rx="23.9" ry="12.8"/><ellipse cx="566.2" cy="329.6" rx="25.0" ry="13.7"/><ellipse cx="532.7" cy="348.4" rx="22.8" ry="11.9"/><ellipse cx="564.0" cy="349.7" rx="26.1" ry="12.3"/><ellipse cx="586.3" cy="347.4" rx="14.9" ry="9.6"/><ellipse cx="512.6" cy="332.8" rx="11.6" ry="7.7"/></g><g fill="url(#cg4)"><ellipse cx="552.3" cy="338.1" rx="44.7" ry="18.3"/><ellipse cx="517.6" cy="338.1" rx="21.2" ry="12.4"/><ellipse cx="587.0" cy="339.0" rx="21.2" ry="12.8"/><ellipse cx="536.6" cy="328.9" rx="23.5" ry="12.4"/><ellipse cx="565.7" cy="328.5" rx="24.6" ry="13.3"/><ellipse cx="532.2" cy="347.3" rx="22.4" ry="11.5"/><ellipse cx="563.5" cy="348.6" rx="25.7" ry="11.9"/><ellipse cx="585.8" cy="346.3" rx="14.5" ry="9.2"/><ellipse cx="512.1" cy="331.7" rx="11.2" ry="7.3"/></g>
<g><polygon points="447.7,334.7 471.0,349.5 471.0,358.0 447.7,340.7" fill="url(#gLeft)" stroke="#2a8db6" stroke-linejoin="round" stroke-width="2.8"/><polygon points="471.0,349.5 494.2,334.7 494.2,340.7 471.0,358.0" fill="url(#gRight)" stroke="#2582ad" stroke-linejoin="round" stroke-width="2.8"/><polygon points="471.0,320.6 494.2,334.7 471.0,349.5 447.7,334.7" fill="url(#gTop)" stroke="#3aa2c4" stroke-linejoin="round" stroke-width="2.8"/><polyline points="447.7,335.1 471.0,349.9 494.2,335.1" fill="none" stroke="#6cc6da" stroke-width="0.7" opacity="0.7"/></g><path d="M461.0,329.3 h4.2 C469.0,329.3 473.0,340.1 476.8,340.1 h4.2" fill="none" stroke="#fff" stroke-width="1.55"/><polygon points="458.4,329.3 462.1,327.1 462.1,331.4" fill="#fff"/><polygon points="483.6,329.3 479.8,331.4 479.8,327.1" fill="#fff"/><path d="M461.0,340.1 h4.2 C469.0,340.1 473.0,329.3 476.8,329.3 h4.2" fill="none" stroke="#fff" stroke-width="1.55"/><polygon points="458.4,340.1 462.1,337.9 462.1,342.2" fill="#fff"/><polygon points="483.6,340.1 479.8,342.2 479.8,337.9" fill="#fff"/><text transform="matrix(1,0.602,0,1,458.6,349.3)" text-anchor="middle" font-size="5.104" font-weight="bold" fill="#fff" stroke="#fff" stroke-width="0.26" font-family="&quot;Liberation Sans&quot;,sans-serif" textLength="20.5" lengthAdjust="spacingAndGlyphs">SWITCH</text>
<g><polygon points="610.8,332.5 634.5,347.3 634.5,355.8 610.8,338.5" fill="url(#gLeft)" stroke="#2a8db6" stroke-linejoin="round" stroke-width="2.8"/><polygon points="634.5,347.3 658.2,332.5 658.2,338.5 634.5,355.8" fill="url(#gRight)" stroke="#2582ad" stroke-linejoin="round" stroke-width="2.8"/><polygon points="634.5,318.4 658.2,332.5 634.5,347.3 610.8,332.5" fill="url(#gTop)" stroke="#3aa2c4" stroke-linejoin="round" stroke-width="2.8"/><polyline points="610.8,332.9 634.5,347.7 658.2,332.9" fill="none" stroke="#6cc6da" stroke-width="0.7" opacity="0.7"/></g><path d="M624.3,327.0 h4.3 C632.5,327.0 636.5,337.9 640.4,337.9 h4.3" fill="none" stroke="#fff" stroke-width="1.58"/><polygon points="621.7,327.0 625.5,324.7 625.5,329.2" fill="#fff"/><polygon points="647.3,327.0 643.5,329.2 643.5,324.7" fill="#fff"/><path d="M624.3,337.9 h4.3 C632.5,337.9 636.5,327.0 640.4,327.0 h4.3" fill="none" stroke="#fff" stroke-width="1.58"/><polygon points="621.7,337.9 625.5,335.7 625.5,340.2" fill="#fff"/><polygon points="647.3,337.9 643.5,340.2 643.5,335.7" fill="#fff"/><text transform="matrix(1,0.592,0,1,622.0,347.1)" text-anchor="middle" font-size="5.104" font-weight="bold" fill="#fff" stroke="#fff" stroke-width="0.26" font-family="&quot;Liberation Sans&quot;,sans-serif" textLength="20.5" lengthAdjust="spacingAndGlyphs">SWITCH</text>
<polyline points="159.5,462 114,478.6" fill="none" stroke="#5b9bd5" stroke-width="3.3"/>
<polyline points="159.5,462 199.5,478" fill="none" stroke="#5b9bd5" stroke-width="3.3"/>
<polyline points="68.5,495.5 58,509.5" fill="none" stroke="#5b9bd5" stroke-width="3.3"/>
<polyline points="114.5,495.5 124.5,511" fill="none" stroke="#5b9bd5" stroke-width="3.3"/>
<polyline points="206,487.5 192,494" fill="none" stroke="#5b9bd5" stroke-width="3.3"/>
<polyline points="244,487.5 257,494" fill="none" stroke="#5b9bd5" stroke-width="3.3"/>
<polygon points="165.0,366.1 173.0,363.0 173.0,393.9 165.0,397.8" fill="url(#gSideL)" stroke="#3aa8c9" stroke-linejoin="round" stroke-width="1"/><polygon points="145.0,357.1 165.0,366.1 165.0,397.8 145.0,388.8" fill="url(#gFront)" stroke="#2c8cba" stroke-linejoin="round" stroke-width="1"/><polygon points="145.0,357.1 151.9,354.0 173.0,363.0 165.0,366.1" fill="#3a9cc4" stroke="#3a9cc4" stroke-linejoin="round" stroke-width="1"/><g opacity="0.11"><polyline points="145.8,363.8 164.2,372.1" fill="none" stroke="#1f6fa3" stroke-width="0.7"/><polyline points="145.8,370.1 164.2,378.4" fill="none" stroke="#1f6fa3" stroke-width="0.7"/><polyline points="145.8,376.5 164.2,384.8" fill="none" stroke="#1f6fa3" stroke-width="0.7"/><polyline points="145.8,382.8 164.2,391.1" fill="none" stroke="#1f6fa3" stroke-width="0.7"/><polyline points="150.0,359.3 150.0,365.7" fill="none" stroke="#1f6fa3" stroke-width="0.7"/><polyline points="159.0,363.4 159.0,369.7" fill="none" stroke="#1f6fa3" stroke-width="0.7"/><polyline points="154.0,367.5 154.0,373.8" fill="none" stroke="#1f6fa3" stroke-width="0.7"/><polyline points="150.0,372.0 150.0,378.3" fill="none" stroke="#1f6fa3" stroke-width="0.7"/><polyline points="159.0,376.1 159.0,382.4" fill="none" stroke="#1f6fa3" stroke-width="0.7"/><polyline points="154.0,380.2 154.0,386.5" fill="none" stroke="#1f6fa3" stroke-width="0.7"/><polyline points="150.0,384.7 150.0,391.0" fill="none" stroke="#1f6fa3" stroke-width="0.7"/><polyline points="159.0,388.8 159.0,395.1" fill="none" stroke="#1f6fa3" stroke-width="0.7"/></g><text transform="matrix(1,-0.390,0,1,169.2,375.5)" x="0 0 0" y="0.0 6.3 12.5" text-anchor="middle" font-size="6.44" font-weight="bold" fill="#fff" stroke="#fff" stroke-width="0.32">UTM</text><g transform="translate(145.0,354.0) scale(0.816)"><path d="M1.5,45.2 C3.5,43.4 7,42 8.3,38.9 C9.6,41.6 10.4,43.6 10.9,45.6 C12,44.2 12.5,42.4 12.2,39.8 C14.6,43.2 16.6,46.6 17.3,49.8 C18.1,49.4 18.7,48.8 19,48 C20.4,51 19.8,54.8 17.6,56.6 C12,57.6 3.6,52.4 1.5,45.2 Z" fill="#d62027"/><path d="M5.2,48.6 C6.6,46.9 8.6,46.6 10.2,47.6 C11.8,47 13.6,48.6 14.6,50.6 C15.7,52.2 16.9,53.8 16.6,55.4 C12,56.2 6.8,52.8 5.2,48.6 Z" fill="#f7941d"/></g>
<g transform="translate(0.0,0.0)"><path d="M36.5,428.4 L73,409.4 Q75.5,408.1 78,409.4 L125.8,435.4 Q128.8,437 125.9,438.8 L89,459 Q86.3,460.4 83.6,459 L36.4,432.6 Q33.2,430.5 36.5,428.4 Z" fill="#8f9aa8" opacity="0.45" transform="translate(0.6,1.6)"/><path d="M36.5,428.4 L73,409.4 Q75.5,408.1 78,409.4 L125.8,435.4 Q128.8,437 125.9,438.8 L89,459 Q86.3,460.4 83.6,459 L36.4,432.6 Q33.2,430.5 36.5,428.4 Z" fill="url(#gPlate)" stroke="#c4c4c4" stroke-width="0.5"/><polyline points="49.7,426.3 82.5,442.4" fill="none" stroke="#4a4a4a" stroke-width="0.7"/><polyline points="55.5,429.2 59.0,427.0" fill="none" stroke="#4a4a4a" stroke-width="0.7"/><polyline points="70.5,436.5 74.0,434.4" fill="none" stroke="#4a4a4a" stroke-width="0.7"/><path d="M55.3,413.3 V423.4 A6.1,2.9 0 0 0 67.5,423.4 V413.3 Z" fill="#2c8fb8"/><path d="M55.3,423.4 A6.1,2.9 0 0 0 67.5,423.4" fill="none" stroke="#1b6b96" stroke-width="0.6"/><path d="M55.3,420 A6.1,2.9 0 0 0 67.5,420" fill="none" stroke="#1b6b96" stroke-width="0.6"/><path d="M55.3,416.6 A6.1,2.9 0 0 0 67.5,416.6" fill="none" stroke="#1b6b96" stroke-width="0.6"/><ellipse cx="61.4" cy="413.3" rx="6.1" ry="2.9" fill="#46b1cd" stroke="#1f78a4" stroke-width="0.4"/><polygon points="70.3,421.2 78.3,417.0 86.3,421.2 86.3,430.6 78.3,434.8 70.3,430.6" fill="#2c8fb8"/><polygon points="70.3,421.2 78.3,417.0 86.3,421.2 78.3,425.4" fill="#43aecb"/><polygon points="78.3,425.4 86.3,421.2 86.3,430.6 78.3,434.8" fill="#2480ab"/><polyline points="70.3,424.4 78.3,428.6 86.3,424.4" fill="none" stroke="#1b6b96" stroke-width="0.5"/><polyline points="70.3,427.6 78.3,431.8 86.3,427.6" fill="none" stroke="#1b6b96" stroke-width="0.5"/><polygon points="98.5,431.4 113.5,423.1 113.5,441.4 98.5,449.7" fill="url(#gNavy)" stroke="#144a6d" stroke-linejoin="round" stroke-width="0.8"/><polygon points="90.0,427.1 98.5,431.4 98.5,449.7 90.0,445.4" fill="url(#gTowerF)" stroke="#2a8bb5" stroke-linejoin="round" stroke-width="0.8"/><polygon points="90.0,427.1 105.0,418.8 113.5,423.1 98.5,431.4" fill="url(#gTowerT)" stroke="#3498bf" stroke-linejoin="round" stroke-width="0.8"/><polygon points="82.7,438.5 91.5,443.0 91.5,450.0 82.7,445.5" fill="#2b8ab3"/><polygon points="83.6,440.0 90.7,443.7 90.7,448.6 83.6,444.8" fill="#cfe3ee"/><polygon points="85.0,447.4 88.5,449.2 89.5,451.4 84.5,449.0" fill="#2b8ab3"/></g>
<g opacity="0.86"><clipPath id="vc3"><path d="M153.2,400.5 Q159.5,396.6 165.8,400.5 L194.5,417.9 Q200.8,421.8 200.8,429.2 L200.8,431.8 Q200.8,439.2 194.5,443.1 L165.8,460.5 Q159.5,464.4 153.2,460.5 L124.5,443.1 Q118.2,439.2 118.2,431.8 L118.2,429.2 Q118.2,421.8 124.5,417.9 Z"/></clipPath><g clip-path="url(#vc3)"><rect x="118.2" y="396.6" width="82.6" height="67.8" fill="#86b9c8"/><polygon points="159.5,446.9 202.8,420.8 202.8,466.4 159.5,466.4" fill="#7bb0c3"/><path d="M155.1,398.3 Q159.5,395.6 163.9,398.3 L197.9,419.0 Q202.3,421.8 197.8,424.4 L164.0,444.3 Q159.5,446.9 155.0,444.3 L121.2,424.4 Q116.7,421.8 121.1,419.0 Z" fill="#a2ccd5"/></g></g><path d="M154.4,404.7 Q159.5,401.6 164.6,404.7 L187.5,418.7 Q192.5,421.8 187.5,424.8 L164.6,438.8 Q159.5,441.9 154.4,438.8 L131.5,424.8 Q126.5,421.8 131.5,418.7 Z" fill="none" stroke="#d3e7ec" stroke-width="0.8" opacity="0.75"/><polygon points="147.1,409.2 157.0,404.1 173.5,416.2 163.6,421.2" fill="#fff" opacity="0.88"/><polygon points="145.5,421.8 155.4,416.7 173.5,429.8 163.6,434.8" fill="#fff" opacity="0.88"/><polygon points="154.5,418.7 163.6,421.2 165.3,425.8 155.4,420.2" fill="#fff" opacity="0.6"/><text x="159.5" y="419.5" text-anchor="middle" font-size="9.6" font-weight="bold" fill="#e2665e" opacity="0.74" textLength="17.5" lengthAdjust="spacingAndGlyphs">VSF</text><polyline points="150.0,428.0 169.0,428.0" fill="none" stroke="#e26a62" stroke-width="0.8" opacity="0.7"/><polyline points="150.0,430.0 169.0,430.0" fill="none" stroke="#e26a62" stroke-width="0.8" opacity="0.7"/><ellipse cx="159.5" cy="429.0" rx="1.8" ry="3.2" fill="none" stroke="#e26a62" stroke-width="0.8" opacity="0.7"/><text transform="matrix(1,0.609,0,1,149.5,456.5)" text-anchor="middle" font-size="10" font-weight="bold" fill="#fff" stroke="#fff" stroke-width="0.50" font-family="&quot;Liberation Sans&quot;,sans-serif" opacity="0.9">CH</text>
<polygon points="121.2,417.0 134.8,424.7 134.8,451.8 121.2,444.7" fill="#2a8ab5" stroke="#2a8ab5" stroke-width="1.2" stroke-linejoin="round"/><polygon points="134.8,424.7 148.5,417.0 148.5,444.7 134.8,451.8" fill="url(#gRight)" stroke="#2582ad" stroke-width="1.2" stroke-linejoin="round"/><polygon points="134.8,410.0 148.5,417.0 134.8,424.7 121.2,417.0" fill="url(#gTop)" stroke="#3aa2c4" stroke-width="1.2" stroke-linejoin="round"/><polyline points="123.7,423.0 123.7,440.8" fill="none" stroke="#174f78" stroke-width="2.0"/><polyline points="124.2,425.0 124.2,436.8" fill="none" stroke="#8fc4d9" stroke-width="0.5"/><polyline points="127.7,425.3 127.7,443.1" fill="none" stroke="#174f78" stroke-width="2.0"/><polyline points="128.2,427.3 128.2,439.1" fill="none" stroke="#8fc4d9" stroke-width="0.5"/><polyline points="131.7,427.5 131.7,445.3" fill="none" stroke="#174f78" stroke-width="2.0"/><polyline points="132.2,429.5 132.2,441.3" fill="none" stroke="#8fc4d9" stroke-width="0.5"/>
<polygon points="170.9,417.0 184.4,424.7 184.4,451.8 170.9,444.7" fill="#2a8ab5" stroke="#2a8ab5" stroke-width="1.2" stroke-linejoin="round"/><polygon points="184.4,424.7 197.8,417.0 197.8,444.7 184.4,451.8" fill="url(#gRight)" stroke="#2582ad" stroke-width="1.2" stroke-linejoin="round"/><polygon points="184.4,410.0 197.8,417.0 184.4,424.7 170.9,417.0" fill="url(#gTop)" stroke="#3aa2c4" stroke-width="1.2" stroke-linejoin="round"/><polyline points="173.4,423.0 173.4,440.8" fill="none" stroke="#174f78" stroke-width="2.0"/><polyline points="173.9,425.0 173.9,436.8" fill="none" stroke="#8fc4d9" stroke-width="0.5"/><polyline points="177.3,425.3 177.3,443.1" fill="none" stroke="#174f78" stroke-width="2.0"/><polyline points="177.8,427.3 177.8,439.1" fill="none" stroke="#8fc4d9" stroke-width="0.5"/><polyline points="181.3,427.5 181.3,445.3" fill="none" stroke="#174f78" stroke-width="2.0"/><polyline points="181.8,429.5 181.8,441.3" fill="none" stroke="#8fc4d9" stroke-width="0.5"/>
<g transform="translate(0,0)"><g><polygon points="69.0,491.7 91.4,503.5 91.4,511.4 69.0,500.3" fill="url(#gLeft)" stroke="#2a8db6" stroke-linejoin="round" stroke-width="2.4"/><polygon points="91.4,503.5 113.8,491.7 113.8,500.3 91.4,511.4" fill="url(#gRight)" stroke="#2582ad" stroke-linejoin="round" stroke-width="2.4"/><polygon points="91.4,480.6 113.8,491.7 91.4,503.5 69.0,491.7" fill="url(#gTop)" stroke="#3aa2c4" stroke-linejoin="round" stroke-width="2.4"/><polyline points="69.0,492.1 91.4,503.9 113.8,492.1" fill="none" stroke="#6cc6da" stroke-width="0.7" opacity="0.7"/></g><polyline points="82.4,495.3 76.9,495.3" fill="none" stroke="#fff" stroke-width="1.1949367088607594"/><polygon points="75.1,495.3 77.3,494.0 77.3,496.6" fill="#fff"/><polyline points="88.0,497.7 88.0,500.3" fill="none" stroke="#fff" stroke-width="1.1949367088607594"/><polygon points="88.0,501.7 86.7,499.5 89.3,499.5" fill="#fff"/><polyline points="100.4,495.3 105.9,495.3" fill="none" stroke="#fff" stroke-width="1.1949367088607594"/><polygon points="107.7,495.3 105.5,496.6 105.5,494.0" fill="#fff"/><polyline points="94.8,497.7 94.8,500.3" fill="none" stroke="#fff" stroke-width="1.1949367088607594"/><polygon points="94.8,501.7 93.5,499.5 96.1,499.5" fill="#fff"/><text transform="matrix(1,0.500,0,1,79.6,503.7)" text-anchor="middle" font-size="4.928" font-weight="bold" fill="#fff" stroke="#fff" stroke-width="0.25" font-family="&quot;Liberation Sans&quot;,sans-serif" textLength="19.5" lengthAdjust="spacingAndGlyphs">SWITCH</text><text transform="matrix(1,-0.500,0,1,103.2,503.7)" text-anchor="middle" font-size="4.928" font-weight="bold" fill="#fff" stroke="#fff" stroke-width="0.25" font-family="&quot;Liberation Sans&quot;,sans-serif" textLength="17.5" lengthAdjust="spacingAndGlyphs">1000M</text><g><polygon points="69.0,474.8 91.4,486.6 91.4,494.5 69.0,483.4" fill="url(#gLeft)" stroke="#2a8db6" stroke-linejoin="round" stroke-width="2.4"/><polygon points="91.4,486.6 113.8,474.8 113.8,483.4 91.4,494.5" fill="url(#gRight)" stroke="#2582ad" stroke-linejoin="round" stroke-width="2.4"/><polygon points="91.4,463.7 113.8,474.8 91.4,486.6 69.0,474.8" fill="url(#gTop)" stroke="#3aa2c4" stroke-linejoin="round" stroke-width="2.4"/><polyline points="69.0,475.2 91.4,487.0 113.8,475.2" fill="none" stroke="#6cc6da" stroke-width="0.7" opacity="0.7"/></g><path d="M84.1,474.8 C80.5,474.8 80.5,472.3 76.9,472.3" fill="none" stroke="#fff" stroke-width="1.1949367088607594"/><polygon points="75.1,472.3 77.3,471.0 77.3,473.6" fill="#fff"/><path d="M89.0,471.8 C89.0,469.5 87.8,469.5 87.8,467.2" fill="none" stroke="#fff" stroke-width="1.1949367088607594"/><polygon points="87.8,465.8 89.1,468.0 86.5,468.0" fill="#fff"/><path d="M84.1,474.8 C80.5,474.8 80.5,477.3 76.9,477.3" fill="none" stroke="#fff" stroke-width="1.1949367088607594"/><polygon points="75.1,477.3 77.3,476.0 77.3,478.6" fill="#fff"/><path d="M89.0,477.8 C89.0,480.1 87.8,480.1 87.8,482.4" fill="none" stroke="#fff" stroke-width="1.1949367088607594"/><polygon points="87.8,483.8 86.5,481.6 89.1,481.6" fill="#fff"/><path d="M98.7,474.8 C102.3,474.8 102.3,472.3 105.9,472.3" fill="none" stroke="#fff" stroke-width="1.1949367088607594"/><polygon points="107.7,472.3 105.5,473.6 105.5,471.0" fill="#fff"/><path d="M93.8,471.8 C93.8,469.5 95.0,469.5 95.0,467.2" fill="none" stroke="#fff" stroke-width="1.1949367088607594"/><polygon points="95.0,465.8 96.3,468.0 93.7,468.0" fill="#fff"/><path d="M98.7,474.8 C102.3,474.8 102.3,477.3 105.9,477.3" fill="none" stroke="#fff" stroke-width="1.1949367088607594"/><polygon points="107.7,477.3 105.5,478.6 105.5,476.0" fill="#fff"/><path d="M93.8,477.8 C93.8,480.1 95.0,480.1 95.0,482.4" fill="none" stroke="#fff" stroke-width="1.1949367088607594"/><polygon points="95.0,483.8 93.7,481.6 96.3,481.6" fill="#fff"/><ellipse cx="91.4" cy="474.8" rx="7.0" ry="3.4" fill="#2f9cc0" stroke="#fff" stroke-width="1.19"/><text x="91.4" y="476.7" text-anchor="middle" font-size="5.6" font-weight="bold" fill="#fff">L2</text><text transform="matrix(1,0.500,0,1,79.6,486.8)" text-anchor="middle" font-size="4.928" font-weight="bold" fill="#fff" stroke="#fff" stroke-width="0.25" font-family="&quot;Liberation Sans&quot;,sans-serif" textLength="19.5" lengthAdjust="spacingAndGlyphs">SWITCH</text><text transform="matrix(1,-0.500,0,1,103.2,486.8)" text-anchor="middle" font-size="4.928" font-weight="bold" fill="#fff" stroke="#fff" stroke-width="0.25" font-family="&quot;Liberation Sans&quot;,sans-serif" textLength="17.5" lengthAdjust="spacingAndGlyphs">1000M</text><g><polygon points="199.3,474.9 225.0,489.9 225.0,496.1 199.3,481.9" fill="url(#gLeft)" stroke="#2a8db6" stroke-linejoin="round" stroke-width="2.6"/><polygon points="225.0,489.9 250.7,474.9 250.7,481.9 225.0,496.1" fill="url(#gRight)" stroke="#2582ad" stroke-linejoin="round" stroke-width="2.6"/><polygon points="225.0,460.8 250.7,474.9 225.0,489.9 199.3,474.9" fill="url(#gTop)" stroke="#3aa2c4" stroke-linejoin="round" stroke-width="2.6"/><polyline points="199.3,475.3 225.0,490.3 250.7,475.3" fill="none" stroke="#6cc6da" stroke-width="0.7" opacity="0.7"/></g><text x="225.0" y="475.1" text-anchor="middle" font-size="7.4" font-weight="bold" fill="#fff" stroke="#fff" stroke-width="0.3" textLength="16.6" lengthAdjust="spacingAndGlyphs">POE</text><path d="M220.6,463.8 C220.6,467.9 229.4,467.9 229.4,463.8" fill="none" stroke="#fff" stroke-width="1.30"/><polygon points="220.2,462.1 222.6,464.4 219.4,465.4" fill="#fff"/><polygon points="229.8,462.1 230.6,465.4 227.4,464.4" fill="#fff"/><path d="M220.6,481.4 C220.6,477.2 229.4,477.2 229.4,481.4" fill="none" stroke="#fff" stroke-width="1.30"/><polygon points="220.2,483.0 219.4,479.7 222.6,480.7" fill="#fff"/><polygon points="229.8,483.0 227.4,480.7 230.6,479.7" fill="#fff"/><path d="M208.0,469.8 C215.2,469.8 215.2,475.4 208.0,475.4" fill="none" stroke="#fff" stroke-width="1.30"/><polygon points="206.2,469.8 209.1,468.1 209.1,471.4" fill="#fff"/><polygon points="206.2,475.4 209.1,473.7 209.1,477.0" fill="#fff"/><path d="M242.0,469.8 C234.8,469.8 234.8,475.4 242.0,475.4" fill="none" stroke="#fff" stroke-width="1.30"/><polygon points="243.8,469.8 240.9,471.4 240.9,468.1" fill="#fff"/><polygon points="243.8,475.4 240.9,477.0 240.9,473.7" fill="#fff"/><text transform="matrix(1,0.554,0,1,211.5,487.8)" text-anchor="middle" font-size="5.28" font-weight="bold" fill="#fff" stroke="#fff" stroke-width="0.26" font-family="&quot;Liberation Sans&quot;,sans-serif" textLength="21.5" lengthAdjust="spacingAndGlyphs">SWITCH</text><text transform="matrix(1,-0.554,0,1,238.5,487.8)" text-anchor="middle" font-size="5.28" font-weight="bold" fill="#fff" stroke="#fff" stroke-width="0.26" font-family="&quot;Liberation Sans&quot;,sans-serif" textLength="19.5" lengthAdjust="spacingAndGlyphs">1000M</text><g><polygon points="168.8,506.0 193.3,520.1 193.3,527.3 168.8,514.0" fill="url(#gLeft)" stroke="#2a8db6" stroke-linejoin="round" stroke-width="2.8"/><polygon points="193.3,520.1 217.8,506.0 217.8,514.0 193.3,527.3" fill="url(#gRight)" stroke="#2582ad" stroke-linejoin="round" stroke-width="2.8"/><polygon points="193.3,492.7 217.8,506.0 193.3,520.1 168.8,506.0" fill="url(#gTop)" stroke="#3aa2c4" stroke-linejoin="round" stroke-width="2.8"/><polyline points="168.8,506.4 193.3,520.5 217.8,506.4" fill="none" stroke="#6cc6da" stroke-width="0.7" opacity="0.7"/></g><polygon points="176.4,503.2 184.8,498.5 194.6,502.7 187.1,508.3" fill="#fff"/><polyline points="187.7,506.3 193.9,503.2" fill="none" stroke="#1d648c" stroke-width="1.693461538461538"/><path d="M205.6,501.6 Q210.6,504.8 198.7,510.9" fill="none" stroke="#fff" stroke-width="1.59" stroke-linecap="round"/><path d="M203.0,502.0 Q207.1,504.5 197.5,509.5" fill="none" stroke="#fff" stroke-width="1.59" stroke-linecap="round"/><path d="M200.4,502.5 Q203.7,504.4 196.4,508.2" fill="none" stroke="#fff" stroke-width="1.59" stroke-linecap="round"/><text transform="matrix(1,0.544,0,1,180.3,519.0)" text-anchor="middle" font-size="5.456" font-weight="bold" fill="#fff" stroke="#fff" stroke-width="0.27" font-family="&quot;Liberation Sans&quot;,sans-serif" textLength="15.6" lengthAdjust="spacingAndGlyphs">WLAN</text><g><polygon points="232.1,506.0 256.6,520.1 256.6,527.3 232.1,514.0" fill="url(#gLeft)" stroke="#2a8db6" stroke-linejoin="round" stroke-width="2.8"/><polygon points="256.6,520.1 281.2,506.0 281.2,514.0 256.6,527.3" fill="url(#gRight)" stroke="#2582ad" stroke-linejoin="round" stroke-width="2.8"/><polygon points="256.6,492.7 281.2,506.0 256.6,520.1 232.1,506.0" fill="url(#gTop)" stroke="#3aa2c4" stroke-linejoin="round" stroke-width="2.8"/><polyline points="232.1,506.4 256.6,520.5 281.2,506.4" fill="none" stroke="#6cc6da" stroke-width="0.7" opacity="0.7"/></g><polygon points="239.7,503.2 248.2,498.5 257.9,502.7 250.5,508.3" fill="#fff"/><polyline points="251.1,506.3 257.2,503.2" fill="none" stroke="#1d648c" stroke-width="1.6967307692307703"/><path d="M268.9,501.6 Q274.0,504.8 262.0,510.9" fill="none" stroke="#fff" stroke-width="1.60" stroke-linecap="round"/><path d="M266.3,502.0 Q270.5,504.5 260.8,509.5" fill="none" stroke="#fff" stroke-width="1.60" stroke-linecap="round"/><path d="M263.7,502.5 Q267.0,504.4 259.7,508.2" fill="none" stroke="#fff" stroke-width="1.60" stroke-linecap="round"/><text transform="matrix(1,0.543,0,1,243.7,519.0)" text-anchor="middle" font-size="5.456" font-weight="bold" fill="#fff" stroke="#fff" stroke-width="0.27" font-family="&quot;Liberation Sans&quot;,sans-serif" textLength="15.6" lengthAdjust="spacingAndGlyphs">WLAN</text><path d="M182.5,532.1 A15.5,15.5 0 0 0 200.7,532.1" fill="none" stroke="#2e8bbf" stroke-width="4.5"/><path d="M178.3,537.9 A22.6,22.6 0 0 0 204.9,537.9" fill="none" stroke="#2e8bbf" stroke-width="4.5"/><path d="M174.2,543.5 A29.6,29.6 0 0 0 209.0,543.5" fill="none" stroke="#2e8bbf" stroke-width="4.5"/><path d="M254.3,532.1 A15.5,15.5 0 0 0 272.5,532.1" fill="none" stroke="#2e8bbf" stroke-width="4.5"/><path d="M250.1,537.9 A22.6,22.6 0 0 0 276.7,537.9" fill="none" stroke="#2e8bbf" stroke-width="4.5"/><path d="M246.0,543.5 A29.6,29.6 0 0 0 280.8,543.5" fill="none" stroke="#2e8bbf" stroke-width="4.5"/><g transform="translate(41.2,511.2)"><polygon points="0.5,7.0 12.5,0.5 21.0,4.6 21.0,22.0 8.4,28.4 0.5,24.0" fill="#2a8ab5" stroke="#2a8ab5" stroke-width="0.8" stroke-linejoin="round"/><polygon points="0.5,7.0 12.5,0.5 21.0,4.6 8.4,11.2" fill="#3aa4c6"/><polygon points="0.5,7.0 8.4,11.2 8.4,28.4 0.5,24.0" fill="#2e93bb"/><polyline points="4.4,9.4 4.4,26.0" fill="none" stroke="#1f78a4" stroke-width="0.6"/><polygon points="13.5,25.0 20.0,22.4 30.5,27.4 30.5,29.6 24.0,32.4 13.5,27.4" fill="#2580ac"/><polygon points="13.5,25.0 20.0,22.4 30.5,27.4 24.0,30.2" fill="#3aa4c6"/><polygon points="11.3,4.4 12.8,3.6 34.2,14.0 34.2,30.6 32.8,31.4 11.3,21.6" fill="#185f8a" stroke="#185f8a" stroke-width="0.5" stroke-linejoin="round"/><polygon points="11.3,4.4 32.8,14.8 32.8,31.4 11.3,21.6" fill="#2f98be"/><polygon points="12.9,7.0 31.2,15.8 31.2,29.0 12.9,20.2" fill="#c3c5c7"/></g><g transform="translate(41.2,545.6)"><polygon points="0.5,7.0 12.5,0.5 21.0,4.6 21.0,22.0 8.4,28.4 0.5,24.0" fill="#2a8ab5" stroke="#2a8ab5" stroke-width="0.8" stroke-linejoin="round"/><polygon points="0.5,7.0 12.5,0.5 21.0,4.6 8.4,11.2" fill="#3aa4c6"/><polygon points="0.5,7.0 8.4,11.2 8.4,28.4 0.5,24.0" fill="#2e93bb"/><polyline points="4.4,9.4 4.4,26.0" fill="none" stroke="#1f78a4" stroke-width="0.6"/><polygon points="13.5,25.0 20.0,22.4 30.5,27.4 30.5,29.6 24.0,32.4 13.5,27.4" fill="#2580ac"/><polygon points="13.5,25.0 20.0,22.4 30.5,27.4 24.0,30.2" fill="#3aa4c6"/><polygon points="11.3,4.4 12.8,3.6 34.2,14.0 34.2,30.6 32.8,31.4 11.3,21.6" fill="#185f8a" stroke="#185f8a" stroke-width="0.5" stroke-linejoin="round"/><polygon points="11.3,4.4 32.8,14.8 32.8,31.4 11.3,21.6" fill="#2f98be"/><polygon points="12.9,7.0 31.2,15.8 31.2,29.0 12.9,20.2" fill="#c3c5c7"/></g><g transform="translate(79.6,514.3)"><polygon points="0.6,10.0 14.0,3.6 28.0,8.2 28.0,17.8 11.8,27.3 1.6,22.4" fill="#2a8ab5" stroke="#2a8ab5" stroke-width="0.9" stroke-linejoin="round"/><polygon points="0.6,10.0 14.0,3.6 28.0,8.2 14.3,17.2" fill="#37a0c4"/><polygon points="14.3,17.2 28.0,8.2 28.0,17.8 11.8,27.3" fill="#144f78"/><polygon points="0.6,10.0 14.3,17.2 11.8,27.3 1.6,22.4" fill="#2e93bb"/><path d="M2.4,17.5 q4,3.4 9.6,4.6" fill="none" stroke="#2380ab" stroke-width="0.8"/><path d="M7.1,8.2 L12,0.9 Q13.6,-0.6 15.6,-0.1 L19.2,4 L15.6,11.4 L10,11.2 Z" fill="#f4f4f4"/><path d="M15.6,-0.1 L19.2,4 L15.6,11.4 L14.4,6 Z" fill="#cdcdcd"/></g><g transform="translate(108.8,510.6)"><path d="M11.8,1.6 q3,-1.4 5.9,0 v10 h-5.9z" fill="#2e93bb"/><path d="M4,13 L19.7,8.5 L26.2,7.2 Q30.4,8.4 30.4,13.6 Q30.4,18 26.4,23 L13,33.4 Z" fill="#36a0c3"/><path d="M24.6,7.4 L26.8,7.3 Q30.6,8.6 30.4,13.8 Q30.2,17.6 28,20.8 L26.2,22 Q28.4,13 24.6,7.4 Z" fill="#2d93ba"/><path d="M20.8,8.3 L23.6,7.7 Q27.6,13.4 25.4,23.4 L23,25.4 Q25,14.6 20.8,8.3 Z" fill="#eef6f9"/><ellipse cx="8" cy="23" rx="7.4" ry="11.2" transform="rotate(-20 8 23)" fill="#2786b2"/><ellipse cx="8.7" cy="23.2" rx="6.2" ry="10" transform="rotate(-20 8.7 23.2)" fill="#3fabca"/><path d="M6.4,23.4 L13.4,16.4 L14.6,18.4 L8.4,25 Z" fill="#bfe6f0" opacity="0.7"/><path d="M26.4,20.4 l3.4,1.4 l-1.2,3 l-3.4,-1.6z" fill="#2a8ab5"/></g><g transform="translate(80.6,545.6)"><polygon points="0.3,2.6 3.0,0.6 25.2,12.0 25.2,32.2 22.6,33.6 0.3,22.4" fill="#2a8ab5" stroke="#2a8ab5" stroke-width="0.8" stroke-linejoin="round"/><polygon points="0.3,2.6 22.6,14.0 22.6,33.6 0.3,22.4" fill="#2e93bb"/><polygon points="2.8,6.4 18.4,14.2 18.4,29.2 2.8,21.4" fill="#f4f6f8" stroke="#174f78" stroke-width="0.9"/><polygon points="3.2,7.4 18.0,14.8 18.0,17.0 3.2,9.6" fill="#5a63b8"/><polyline points="7.0,12.0 7.0,23.8" fill="none" stroke="#b9d3e6" stroke-width="1.2"/><polyline points="10.2,13.6 10.2,25.4" fill="none" stroke="#b9d3e6" stroke-width="1.2"/><polyline points="13.4,15.2 13.4,27.0" fill="none" stroke="#b9d3e6" stroke-width="1.2"/><polyline points="16.6,16.8 16.6,28.6" fill="none" stroke="#b9d3e6" stroke-width="1.2"/><circle cx="4.6" cy="21" r="1.4" fill="#111"/><circle cx="20.6" cy="28.6" r="0.8" fill="#174f78"/></g><g transform="translate(108.8,546.9)"><polygon points="0.3,11.2 20.5,0.4 30.2,4.4 30.2,11.6 10.2,22.6 0.3,18.2" fill="#2a8ab5" stroke="#2a8ab5" stroke-width="0.8" stroke-linejoin="round"/><polygon points="0.3,11.2 20.5,0.4 30.2,4.4 10.2,15.6" fill="#3aa4c6"/><polygon points="10.2,15.6 30.2,4.4 30.2,11.6 10.2,22.6" fill="#2583ae"/><polygon points="0.3,11.2 10.2,15.6 10.2,22.6 0.3,18.2" fill="#2e93bb"/><polygon points="3.4,14.6 7.8,16.6 7.8,20.0 3.4,18.0" fill="#2079a5"/><path d="M14.5,19 v6.2 q-2.6,1.4 -2.6,3.2 q0,2.8 6.6,3 q6.6,-0.2 6.6,-3 q0,-1.8 -2.6,-3.2 v-10.4z" fill="#2e93bb"/><ellipse cx="18.5" cy="28.4" rx="6.6" ry="2.6" fill="#3aa4c6"/><path d="M14.5,24.4 q4,2 8,0" fill="none" stroke="#1f78a4" stroke-width="0.6"/></g><g transform="translate(145.6,551.4)"><polygon points="15.8,0.7 33.7,7.2 32.3,20.1 14.3,14.3" fill="#1f6f9c" stroke="#1f6f9c" stroke-width="0.9" stroke-linejoin="round"/><polygon points="16.6,2.0 32.6,7.9 31.4,18.6 15.3,13.4" fill="url(#gScreen)"/><polygon points="0.7,20.1 14.3,14.3 32.3,20.8 20.8,28.7" fill="#e9e9e9" stroke="#dcdcdc" stroke-width="0.9" stroke-linejoin="round"/><polygon points="0.7,20.6 20.8,29.2 32.3,21.3 32.3,22.2 20.8,30.2 0.7,21.6" fill="#7fc4dc"/><polygon points="7.4,19.4 14.6,16.3 27.6,21.0 21.4,24.8" fill="#3a3a3a"/><polygon points="8.6,23.0 12.6,21.2 16.6,22.8 12.6,24.8" fill="#bdbdbd"/></g><g transform="translate(173.4,560.6)"><path d="M1,15 L13.2,1.6 Q14.6,0.2 16.8,0.5 L25.2,1.9 Q27.6,2.5 26.2,4.4 L14.4,18 Q13,19.6 10.6,19.3 L2,17.7 Q-0.2,17 1,15 Z" fill="url(#gSilver)" stroke="#9c9c9c" stroke-width="0.5"/><polygon points="4.4,14.2 14.6,2.9 23.6,4.4 13.6,16.0" fill="url(#gScreen)"/><polygon points="2.2,15.6 3.6,14.4 13.2,16.3 12.0,17.8" fill="#6a6a6a"/></g><g transform="translate(201.3,557.8)"><polyline points="4.4,0.6 4.4,6.5" fill="none" stroke="#2e93bb" stroke-width="1.1"/><polygon points="0.3,7.4 3.2,5.6 13.8,6.6 13.8,21.4 11.0,24.2 0.3,22.6" fill="#2a8ab5" stroke="#2a8ab5" stroke-width="0.7" stroke-linejoin="round"/><polygon points="0.3,7.4 3.2,5.6 13.8,6.6 11.0,8.6" fill="#46b0cd"/><polygon points="0.3,7.4 11.0,8.6 11.0,24.2 0.3,22.6" fill="#2b8fc0"/><polygon points="11.0,8.6 13.8,6.6 13.8,21.4 11.0,24.2" fill="#1f78a4"/><polygon points="3.6,10.6 9.8,11.4 9.8,20.8 3.6,19.8" fill="#d6eef6"/></g><g transform="translate(220.2,551.4)"><polygon points="15.8,0.7 33.7,7.2 32.3,20.1 14.3,14.3" fill="#1f6f9c" stroke="#1f6f9c" stroke-width="0.9" stroke-linejoin="round"/><polygon points="16.6,2.0 32.6,7.9 31.4,18.6 15.3,13.4" fill="url(#gScreen)"/><polygon points="0.7,20.1 14.3,14.3 32.3,20.8 20.8,28.7" fill="#e9e9e9" stroke="#dcdcdc" stroke-width="0.9" stroke-linejoin="round"/><polygon points="0.7,20.6 20.8,29.2 32.3,21.3 32.3,22.2 20.8,30.2 0.7,21.6" fill="#7fc4dc"/><polygon points="7.4,19.4 14.6,16.3 27.6,21.0 21.4,24.8" fill="#3a3a3a"/><polygon points="8.6,23.0 12.6,21.2 16.6,22.8 12.6,24.8" fill="#bdbdbd"/></g><g transform="translate(249.6,560.6)"><path d="M1,15 L13.2,1.6 Q14.6,0.2 16.8,0.5 L25.2,1.9 Q27.6,2.5 26.2,4.4 L14.4,18 Q13,19.6 10.6,19.3 L2,17.7 Q-0.2,17 1,15 Z" fill="url(#gSilver)" stroke="#9c9c9c" stroke-width="0.5"/><polygon points="4.4,14.2 14.6,2.9 23.6,4.4 13.6,16.0" fill="url(#gScreen)"/><polygon points="2.2,15.6 3.6,14.4 13.2,16.3 12.0,17.8" fill="#6a6a6a"/></g><g transform="translate(279.2,557.8)"><polyline points="4.4,0.6 4.4,6.5" fill="none" stroke="#2e93bb" stroke-width="1.1"/><polygon points="0.3,7.4 3.2,5.6 13.8,6.6 13.8,21.4 11.0,24.2 0.3,22.6" fill="#2a8ab5" stroke="#2a8ab5" stroke-width="0.7" stroke-linejoin="round"/><polygon points="0.3,7.4 3.2,5.6 13.8,6.6 11.0,8.6" fill="#46b0cd"/><polygon points="0.3,7.4 11.0,8.6 11.0,24.2 0.3,22.6" fill="#2b8fc0"/><polygon points="11.0,8.6 13.8,6.6 13.8,21.4 11.0,24.2" fill="#1f78a4"/><polygon points="3.6,10.6 9.8,11.4 9.8,20.8 3.6,19.8" fill="#d6eef6"/></g></g>
<polyline points="432.9,452 388,477" fill="none" stroke="#5b9bd5" stroke-width="3.3"/>
<polyline points="432.9,452 474,476" fill="none" stroke="#5b9bd5" stroke-width="3.3"/>
<polyline points="342.8,493.5 332.4,507.5" fill="none" stroke="#5b9bd5" stroke-width="3.3"/>
<polyline points="388.8,493.5 398.8,509" fill="none" stroke="#5b9bd5" stroke-width="3.3"/>
<polyline points="480.4,485.5 466.4,492" fill="none" stroke="#5b9bd5" stroke-width="3.3"/>
<polyline points="518.4,485.5 531.4,492" fill="none" stroke="#5b9bd5" stroke-width="3.3"/>
<polygon points="438.3,376.4 446.0,373.4 446.0,403.4 438.3,407.2" fill="url(#gSideL)" stroke="#3aa8c9" stroke-linejoin="round" stroke-width="1"/><polygon points="419.0,367.7 438.3,376.4 438.3,407.2 419.0,398.4" fill="url(#gFront)" stroke="#2c8cba" stroke-linejoin="round" stroke-width="1"/><polygon points="419.0,367.7 425.6,364.7 446.0,373.4 438.3,376.4" fill="#3a9cc4" stroke="#3a9cc4" stroke-linejoin="round" stroke-width="1"/><g opacity="0.11"><polyline points="419.8,374.2 437.5,382.2" fill="none" stroke="#1f6fa3" stroke-width="0.7"/><polyline points="419.8,380.3 437.5,388.4" fill="none" stroke="#1f6fa3" stroke-width="0.7"/><polyline points="419.8,386.5 437.5,394.5" fill="none" stroke="#1f6fa3" stroke-width="0.7"/><polyline points="419.8,392.7 437.5,400.7" fill="none" stroke="#1f6fa3" stroke-width="0.7"/><polyline points="423.8,369.9 423.8,376.0" fill="none" stroke="#1f6fa3" stroke-width="0.7"/><polyline points="432.5,373.8 432.5,380.0" fill="none" stroke="#1f6fa3" stroke-width="0.7"/><polyline points="427.7,377.8 427.7,383.9" fill="none" stroke="#1f6fa3" stroke-width="0.7"/><polyline points="423.8,382.2 423.8,388.3" fill="none" stroke="#1f6fa3" stroke-width="0.7"/><polyline points="432.5,386.1 432.5,392.3" fill="none" stroke="#1f6fa3" stroke-width="0.7"/><polyline points="427.7,390.1 427.7,396.2" fill="none" stroke="#1f6fa3" stroke-width="0.7"/><polyline points="423.8,394.5 423.8,400.6" fill="none" stroke="#1f6fa3" stroke-width="0.7"/><polyline points="432.5,398.4 432.5,404.6" fill="none" stroke="#1f6fa3" stroke-width="0.7"/></g><text transform="matrix(1,-0.392,0,1,442.4,385.6)" x="0 0 0" y="0.0 6.1 12.2" text-anchor="middle" font-size="6.21" font-weight="bold" fill="#fff" stroke="#fff" stroke-width="0.31">UTM</text><g transform="translate(419.0,364.7) scale(0.787)"><path d="M1.5,45.2 C3.5,43.4 7,42 8.3,38.9 C9.6,41.6 10.4,43.6 10.9,45.6 C12,44.2 12.5,42.4 12.2,39.8 C14.6,43.2 16.6,46.6 17.3,49.8 C18.1,49.4 18.7,48.8 19,48 C20.4,51 19.8,54.8 17.6,56.6 C12,57.6 3.6,52.4 1.5,45.2 Z" fill="#d62027"/><path d="M5.2,48.6 C6.6,46.9 8.6,46.6 10.2,47.6 C11.8,47 13.6,48.6 14.6,50.6 C15.7,52.2 16.9,53.8 16.6,55.4 C12,56.2 6.8,52.8 5.2,48.6 Z" fill="#f7941d"/></g>
<g transform="translate(274.6,-2.6)"><path d="M36.5,428.4 L73,409.4 Q75.5,408.1 78,409.4 L125.8,435.4 Q128.8,437 125.9,438.8 L89,459 Q86.3,460.4 83.6,459 L36.4,432.6 Q33.2,430.5 36.5,428.4 Z" fill="#8f9aa8" opacity="0.45" transform="translate(0.6,1.6)"/><path d="M36.5,428.4 L73,409.4 Q75.5,408.1 78,409.4 L125.8,435.4 Q128.8,437 125.9,438.8 L89,459 Q86.3,460.4 83.6,459 L36.4,432.6 Q33.2,430.5 36.5,428.4 Z" fill="url(#gPlate)" stroke="#c4c4c4" stroke-width="0.5"/><polyline points="49.7,426.3 82.5,442.4" fill="none" stroke="#4a4a4a" stroke-width="0.7"/><polyline points="55.5,429.2 59.0,427.0" fill="none" stroke="#4a4a4a" stroke-width="0.7"/><polyline points="70.5,436.5 74.0,434.4" fill="none" stroke="#4a4a4a" stroke-width="0.7"/><path d="M55.3,413.3 V423.4 A6.1,2.9 0 0 0 67.5,423.4 V413.3 Z" fill="#2c8fb8"/><path d="M55.3,423.4 A6.1,2.9 0 0 0 67.5,423.4" fill="none" stroke="#1b6b96" stroke-width="0.6"/><path d="M55.3,420 A6.1,2.9 0 0 0 67.5,420" fill="none" stroke="#1b6b96" stroke-width="0.6"/><path d="M55.3,416.6 A6.1,2.9 0 0 0 67.5,416.6" fill="none" stroke="#1b6b96" stroke-width="0.6"/><ellipse cx="61.4" cy="413.3" rx="6.1" ry="2.9" fill="#46b1cd" stroke="#1f78a4" stroke-width="0.4"/><polygon points="70.3,421.2 78.3,417.0 86.3,421.2 86.3,430.6 78.3,434.8 70.3,430.6" fill="#2c8fb8"/><polygon points="70.3,421.2 78.3,417.0 86.3,421.2 78.3,425.4" fill="#43aecb"/><polygon points="78.3,425.4 86.3,421.2 86.3,430.6 78.3,434.8" fill="#2480ab"/><polyline points="70.3,424.4 78.3,428.6 86.3,424.4" fill="none" stroke="#1b6b96" stroke-width="0.5"/><polyline points="70.3,427.6 78.3,431.8 86.3,427.6" fill="none" stroke="#1b6b96" stroke-width="0.5"/><polygon points="98.5,431.4 113.5,423.1 113.5,441.4 98.5,449.7" fill="url(#gNavy)" stroke="#144a6d" stroke-linejoin="round" stroke-width="0.8"/><polygon points="90.0,427.1 98.5,431.4 98.5,449.7 90.0,445.4" fill="url(#gTowerF)" stroke="#2a8bb5" stroke-linejoin="round" stroke-width="0.8"/><polygon points="90.0,427.1 105.0,418.8 113.5,423.1 98.5,431.4" fill="url(#gTowerT)" stroke="#3498bf" stroke-linejoin="round" stroke-width="0.8"/><polygon points="82.7,438.5 91.5,443.0 91.5,450.0 82.7,445.5" fill="#2b8ab3"/><polygon points="83.6,440.0 90.7,443.7 90.7,448.6 83.6,444.8" fill="#cfe3ee"/><polygon points="85.0,447.4 88.5,449.2 89.5,451.4 84.5,449.0" fill="#2b8ab3"/></g>
<polygon points="405.4,421.7 432.8,436.1 432.8,451.9 405.4,437.9" fill="#2a8ab5" stroke="#2a8ab5" stroke-width="1.4" stroke-linejoin="round"/><polygon points="432.8,436.1 461.3,421.7 461.3,437.9 432.8,451.9" fill="url(#gRight)" stroke="#2582ad" stroke-width="1.4" stroke-linejoin="round"/><polygon points="433.8,407.7 461.3,421.7 432.8,436.1 405.4,421.7" fill="url(#gDisk)" stroke="#3aa2c4" stroke-width="1.4" stroke-linejoin="round"/><polyline points="405.7,422.0 432.8,436.4 461.0,422.0" fill="none" stroke="#8fd4e4" stroke-width="0.6" stroke-dasharray="2 1" opacity="0.8"/><polygon points="407.2,426.5 431.3,438.9 431.3,449.1 407.2,436.7" fill="#1b5a86"/><path d="M408.7,429.5 l2.2,1.13 v2.6 l-2.2,-1.13z" fill="#c9d9e4"/><path d="M411.9,431.2 l2.2,1.13 v2.6 l-2.2,-1.13z" fill="#c9d9e4"/><path d="M415.1,432.8 l2.2,1.13 v2.6 l-2.2,-1.13z" fill="#c9d9e4"/><path d="M418.3,434.5 l2.2,1.13 v2.6 l-2.2,-1.13z" fill="#c9d9e4"/><path d="M421.5,436.1 l2.2,1.13 v2.6 l-2.2,-1.13z" fill="#c9d9e4"/><path d="M424.7,437.8 l2.2,1.13 v2.6 l-2.2,-1.13z" fill="#c9d9e4"/><path d="M427.9,439.4 l2.2,1.13 v2.6 l-2.2,-1.13z" fill="#c9d9e4"/><path d="M408.7,434.3 l2.2,1.13 v2.6 l-2.2,-1.13z" fill="#c9d9e4"/><path d="M411.9,436.0 l2.2,1.13 v2.6 l-2.2,-1.13z" fill="#c9d9e4"/><path d="M415.1,437.6 l2.2,1.13 v2.6 l-2.2,-1.13z" fill="#c9d9e4"/><path d="M418.3,439.3 l2.2,1.13 v2.6 l-2.2,-1.13z" fill="#c9d9e4"/><path d="M421.5,440.9 l2.2,1.13 v2.6 l-2.2,-1.13z" fill="#c9d9e4"/><path d="M424.7,442.6 l2.2,1.13 v2.6 l-2.2,-1.13z" fill="#c9d9e4"/><path d="M427.9,444.2 l2.2,1.13 v2.6 l-2.2,-1.13z" fill="#c9d9e4"/>
<g transform="translate(274.4,-2)"><g><polygon points="69.0,491.7 91.4,503.5 91.4,511.4 69.0,500.3" fill="url(#gLeft)" stroke="#2a8db6" stroke-linejoin="round" stroke-width="2.4"/><polygon points="91.4,503.5 113.8,491.7 113.8,500.3 91.4,511.4" fill="url(#gRight)" stroke="#2582ad" stroke-linejoin="round" stroke-width="2.4"/><polygon points="91.4,480.6 113.8,491.7 91.4,503.5 69.0,491.7" fill="url(#gTop)" stroke="#3aa2c4" stroke-linejoin="round" stroke-width="2.4"/><polyline points="69.0,492.1 91.4,503.9 113.8,492.1" fill="none" stroke="#6cc6da" stroke-width="0.7" opacity="0.7"/></g><polyline points="82.4,495.3 76.9,495.3" fill="none" stroke="#fff" stroke-width="1.1949367088607594"/><polygon points="75.1,495.3 77.3,494.0 77.3,496.6" fill="#fff"/><polyline points="88.0,497.7 88.0,500.3" fill="none" stroke="#fff" stroke-width="1.1949367088607594"/><polygon points="88.0,501.7 86.7,499.5 89.3,499.5" fill="#fff"/><polyline points="100.4,495.3 105.9,495.3" fill="none" stroke="#fff" stroke-width="1.1949367088607594"/><polygon points="107.7,495.3 105.5,496.6 105.5,494.0" fill="#fff"/><polyline points="94.8,497.7 94.8,500.3" fill="none" stroke="#fff" stroke-width="1.1949367088607594"/><polygon points="94.8,501.7 93.5,499.5 96.1,499.5" fill="#fff"/><text transform="matrix(1,0.500,0,1,79.6,503.7)" text-anchor="middle" font-size="4.928" font-weight="bold" fill="#fff" stroke="#fff" stroke-width="0.25" font-family="&quot;Liberation Sans&quot;,sans-serif" textLength="19.5" lengthAdjust="spacingAndGlyphs">SWITCH</text><text transform="matrix(1,-0.500,0,1,103.2,503.7)" text-anchor="middle" font-size="4.928" font-weight="bold" fill="#fff" stroke="#fff" stroke-width="0.25" font-family="&quot;Liberation Sans&quot;,sans-serif" textLength="17.5" lengthAdjust="spacingAndGlyphs">1000M</text><g><polygon points="69.0,474.8 91.4,486.6 91.4,494.5 69.0,483.4" fill="url(#gLeft)" stroke="#2a8db6" stroke-linejoin="round" stroke-width="2.4"/><polygon points="91.4,486.6 113.8,474.8 113.8,483.4 91.4,494.5" fill="url(#gRight)" stroke="#2582ad" stroke-linejoin="round" stroke-width="2.4"/><polygon points="91.4,463.7 113.8,474.8 91.4,486.6 69.0,474.8" fill="url(#gTop)" stroke="#3aa2c4" stroke-linejoin="round" stroke-width="2.4"/><polyline points="69.0,475.2 91.4,487.0 113.8,475.2" fill="none" stroke="#6cc6da" stroke-width="0.7" opacity="0.7"/></g><path d="M84.1,474.8 C80.5,474.8 80.5,472.3 76.9,472.3" fill="none" stroke="#fff" stroke-width="1.1949367088607594"/><polygon points="75.1,472.3 77.3,471.0 77.3,473.6" fill="#fff"/><path d="M89.0,471.8 C89.0,469.5 87.8,469.5 87.8,467.2" fill="none" stroke="#fff" stroke-width="1.1949367088607594"/><polygon points="87.8,465.8 89.1,468.0 86.5,468.0" fill="#fff"/><path d="M84.1,474.8 C80.5,474.8 80.5,477.3 76.9,477.3" fill="none" stroke="#fff" stroke-width="1.1949367088607594"/><polygon points="75.1,477.3 77.3,476.0 77.3,478.6" fill="#fff"/><path d="M89.0,477.8 C89.0,480.1 87.8,480.1 87.8,482.4" fill="none" stroke="#fff" stroke-width="1.1949367088607594"/><polygon points="87.8,483.8 86.5,481.6 89.1,481.6" fill="#fff"/><path d="M98.7,474.8 C102.3,474.8 102.3,472.3 105.9,472.3" fill="none" stroke="#fff" stroke-width="1.1949367088607594"/><polygon points="107.7,472.3 105.5,473.6 105.5,471.0" fill="#fff"/><path d="M93.8,471.8 C93.8,469.5 95.0,469.5 95.0,467.2" fill="none" stroke="#fff" stroke-width="1.1949367088607594"/><polygon points="95.0,465.8 96.3,468.0 93.7,468.0" fill="#fff"/><path d="M98.7,474.8 C102.3,474.8 102.3,477.3 105.9,477.3" fill="none" stroke="#fff" stroke-width="1.1949367088607594"/><polygon points="107.7,477.3 105.5,478.6 105.5,476.0" fill="#fff"/><path d="M93.8,477.8 C93.8,480.1 95.0,480.1 95.0,482.4" fill="none" stroke="#fff" stroke-width="1.1949367088607594"/><polygon points="95.0,483.8 93.7,481.6 96.3,481.6" fill="#fff"/><ellipse cx="91.4" cy="474.8" rx="7.0" ry="3.4" fill="#2f9cc0" stroke="#fff" stroke-width="1.19"/><text x="91.4" y="476.7" text-anchor="middle" font-size="5.6" font-weight="bold" fill="#fff">L2</text><text transform="matrix(1,0.500,0,1,79.6,486.8)" text-anchor="middle" font-size="4.928" font-weight="bold" fill="#fff" stroke="#fff" stroke-width="0.25" font-family="&quot;Liberation Sans&quot;,sans-serif" textLength="19.5" lengthAdjust="spacingAndGlyphs">SWITCH</text><text transform="matrix(1,-0.500,0,1,103.2,486.8)" text-anchor="middle" font-size="4.928" font-weight="bold" fill="#fff" stroke="#fff" stroke-width="0.25" font-family="&quot;Liberation Sans&quot;,sans-serif" textLength="17.5" lengthAdjust="spacingAndGlyphs">1000M</text><g><polygon points="199.3,474.9 225.0,489.9 225.0,496.1 199.3,481.9" fill="url(#gLeft)" stroke="#2a8db6" stroke-linejoin="round" stroke-width="2.6"/><polygon points="225.0,489.9 250.7,474.9 250.7,481.9 225.0,496.1" fill="url(#gRight)" stroke="#2582ad" stroke-linejoin="round" stroke-width="2.6"/><polygon points="225.0,460.8 250.7,474.9 225.0,489.9 199.3,474.9" fill="url(#gTop)" stroke="#3aa2c4" stroke-linejoin="round" stroke-width="2.6"/><polyline points="199.3,475.3 225.0,490.3 250.7,475.3" fill="none" stroke="#6cc6da" stroke-width="0.7" opacity="0.7"/></g><text x="225.0" y="475.1" text-anchor="middle" font-size="7.4" font-weight="bold" fill="#fff" stroke="#fff" stroke-width="0.3" textLength="16.6" lengthAdjust="spacingAndGlyphs">POE</text><path d="M220.6,463.8 C220.6,467.9 229.4,467.9 229.4,463.8" fill="none" stroke="#fff" stroke-width="1.30"/><polygon points="220.2,462.1 222.6,464.4 219.4,465.4" fill="#fff"/><polygon points="229.8,462.1 230.6,465.4 227.4,464.4" fill="#fff"/><path d="M220.6,481.4 C220.6,477.2 229.4,477.2 229.4,481.4" fill="none" stroke="#fff" stroke-width="1.30"/><polygon points="220.2,483.0 219.4,479.7 222.6,480.7" fill="#fff"/><polygon points="229.8,483.0 227.4,480.7 230.6,479.7" fill="#fff"/><path d="M208.0,469.8 C215.2,469.8 215.2,475.4 208.0,475.4" fill="none" stroke="#fff" stroke-width="1.30"/><polygon points="206.2,469.8 209.1,468.1 209.1,471.4" fill="#fff"/><polygon points="206.2,475.4 209.1,473.7 209.1,477.0" fill="#fff"/><path d="M242.0,469.8 C234.8,469.8 234.8,475.4 242.0,475.4" fill="none" stroke="#fff" stroke-width="1.30"/><polygon points="243.8,469.8 240.9,471.4 240.9,468.1" fill="#fff"/><polygon points="243.8,475.4 240.9,477.0 240.9,473.7" fill="#fff"/><text transform="matrix(1,0.554,0,1,211.5,487.8)" text-anchor="middle" font-size="5.28" font-weight="bold" fill="#fff" stroke="#fff" stroke-width="0.26" font-family="&quot;Liberation Sans&quot;,sans-serif" textLength="21.5" lengthAdjust="spacingAndGlyphs">SWITCH</text><text transform="matrix(1,-0.554,0,1,238.5,487.8)" text-anchor="middle" font-size="5.28" font-weight="bold" fill="#fff" stroke="#fff" stroke-width="0.26" font-family="&quot;Liberation Sans&quot;,sans-serif" textLength="19.5" lengthAdjust="spacingAndGlyphs">1000M</text><g><polygon points="168.8,506.0 193.3,520.1 193.3,527.3 168.8,514.0" fill="url(#gLeft)" stroke="#2a8db6" stroke-linejoin="round" stroke-width="2.8"/><polygon points="193.3,520.1 217.8,506.0 217.8,514.0 193.3,527.3" fill="url(#gRight)" stroke="#2582ad" stroke-linejoin="round" stroke-width="2.8"/><polygon points="193.3,492.7 217.8,506.0 193.3,520.1 168.8,506.0" fill="url(#gTop)" stroke="#3aa2c4" stroke-linejoin="round" stroke-width="2.8"/><polyline points="168.8,506.4 193.3,520.5 217.8,506.4" fill="none" stroke="#6cc6da" stroke-width="0.7" opacity="0.7"/></g><polygon points="176.4,503.2 184.8,498.5 194.6,502.7 187.1,508.3" fill="#fff"/><polyline points="187.7,506.3 193.9,503.2" fill="none" stroke="#1d648c" stroke-width="1.693461538461538"/><path d="M205.6,501.6 Q210.6,504.8 198.7,510.9" fill="none" stroke="#fff" stroke-width="1.59" stroke-linecap="round"/><path d="M203.0,502.0 Q207.1,504.5 197.5,509.5" fill="none" stroke="#fff" stroke-width="1.59" stroke-linecap="round"/><path d="M200.4,502.5 Q203.7,504.4 196.4,508.2" fill="none" stroke="#fff" stroke-width="1.59" stroke-linecap="round"/><text transform="matrix(1,0.544,0,1,180.3,519.0)" text-anchor="middle" font-size="5.456" font-weight="bold" fill="#fff" stroke="#fff" stroke-width="0.27" font-family="&quot;Liberation Sans&quot;,sans-serif" textLength="15.6" lengthAdjust="spacingAndGlyphs">WLAN</text><g><polygon points="232.1,506.0 256.6,520.1 256.6,527.3 232.1,514.0" fill="url(#gLeft)" stroke="#2a8db6" stroke-linejoin="round" stroke-width="2.8"/><polygon points="256.6,520.1 281.2,506.0 281.2,514.0 256.6,527.3" fill="url(#gRight)" stroke="#2582ad" stroke-linejoin="round" stroke-width="2.8"/><polygon points="256.6,492.7 281.2,506.0 256.6,520.1 232.1,506.0" fill="url(#gTop)" stroke="#3aa2c4" stroke-linejoin="round" stroke-width="2.8"/><polyline points="232.1,506.4 256.6,520.5 281.2,506.4" fill="none" stroke="#6cc6da" stroke-width="0.7" opacity="0.7"/></g><polygon points="239.7,503.2 248.2,498.5 257.9,502.7 250.5,508.3" fill="#fff"/><polyline points="251.1,506.3 257.2,503.2" fill="none" stroke="#1d648c" stroke-width="1.6967307692307703"/><path d="M268.9,501.6 Q274.0,504.8 262.0,510.9" fill="none" stroke="#fff" stroke-width="1.60" stroke-linecap="round"/><path d="M266.3,502.0 Q270.5,504.5 260.8,509.5" fill="none" stroke="#fff" stroke-width="1.60" stroke-linecap="round"/><path d="M263.7,502.5 Q267.0,504.4 259.7,508.2" fill="none" stroke="#fff" stroke-width="1.60" stroke-linecap="round"/><text transform="matrix(1,0.543,0,1,243.7,519.0)" text-anchor="middle" font-size="5.456" font-weight="bold" fill="#fff" stroke="#fff" stroke-width="0.27" font-family="&quot;Liberation Sans&quot;,sans-serif" textLength="15.6" lengthAdjust="spacingAndGlyphs">WLAN</text><path d="M182.5,532.1 A15.5,15.5 0 0 0 200.7,532.1" fill="none" stroke="#2e8bbf" stroke-width="4.5"/><path d="M178.3,537.9 A22.6,22.6 0 0 0 204.9,537.9" fill="none" stroke="#2e8bbf" stroke-width="4.5"/><path d="M174.2,543.5 A29.6,29.6 0 0 0 209.0,543.5" fill="none" stroke="#2e8bbf" stroke-width="4.5"/><path d="M254.3,532.1 A15.5,15.5 0 0 0 272.5,532.1" fill="none" stroke="#2e8bbf" stroke-width="4.5"/><path d="M250.1,537.9 A22.6,22.6 0 0 0 276.7,537.9" fill="none" stroke="#2e8bbf" stroke-width="4.5"/><path d="M246.0,543.5 A29.6,29.6 0 0 0 280.8,543.5" fill="none" stroke="#2e8bbf" stroke-width="4.5"/><g transform="translate(41.2,511.2)"><polygon points="0.5,7.0 12.5,0.5 21.0,4.6 21.0,22.0 8.4,28.4 0.5,24.0" fill="#2a8ab5" stroke="#2a8ab5" stroke-width="0.8" stroke-linejoin="round"/><polygon points="0.5,7.0 12.5,0.5 21.0,4.6 8.4,11.2" fill="#3aa4c6"/><polygon points="0.5,7.0 8.4,11.2 8.4,28.4 0.5,24.0" fill="#2e93bb"/><polyline points="4.4,9.4 4.4,26.0" fill="none" stroke="#1f78a4" stroke-width="0.6"/><polygon points="13.5,25.0 20.0,22.4 30.5,27.4 30.5,29.6 24.0,32.4 13.5,27.4" fill="#2580ac"/><polygon points="13.5,25.0 20.0,22.4 30.5,27.4 24.0,30.2" fill="#3aa4c6"/><polygon points="11.3,4.4 12.8,3.6 34.2,14.0 34.2,30.6 32.8,31.4 11.3,21.6" fill="#185f8a" stroke="#185f8a" stroke-width="0.5" stroke-linejoin="round"/><polygon points="11.3,4.4 32.8,14.8 32.8,31.4 11.3,21.6" fill="#2f98be"/><polygon points="12.9,7.0 31.2,15.8 31.2,29.0 12.9,20.2" fill="#c3c5c7"/></g><g transform="translate(41.2,545.6)"><polygon points="0.5,7.0 12.5,0.5 21.0,4.6 21.0,22.0 8.4,28.4 0.5,24.0" fill="#2a8ab5" stroke="#2a8ab5" stroke-width="0.8" stroke-linejoin="round"/><polygon points="0.5,7.0 12.5,0.5 21.0,4.6 8.4,11.2" fill="#3aa4c6"/><polygon points="0.5,7.0 8.4,11.2 8.4,28.4 0.5,24.0" fill="#2e93bb"/><polyline points="4.4,9.4 4.4,26.0" fill="none" stroke="#1f78a4" stroke-width="0.6"/><polygon points="13.5,25.0 20.0,22.4 30.5,27.4 30.5,29.6 24.0,32.4 13.5,27.4" fill="#2580ac"/><polygon points="13.5,25.0 20.0,22.4 30.5,27.4 24.0,30.2" fill="#3aa4c6"/><polygon points="11.3,4.4 12.8,3.6 34.2,14.0 34.2,30.6 32.8,31.4 11.3,21.6" fill="#185f8a" stroke="#185f8a" stroke-width="0.5" stroke-linejoin="round"/><polygon points="11.3,4.4 32.8,14.8 32.8,31.4 11.3,21.6" fill="#2f98be"/><polygon points="12.9,7.0 31.2,15.8 31.2,29.0 12.9,20.2" fill="#c3c5c7"/></g><g transform="translate(79.6,514.3)"><polygon points="0.6,10.0 14.0,3.6 28.0,8.2 28.0,17.8 11.8,27.3 1.6,22.4" fill="#2a8ab5" stroke="#2a8ab5" stroke-width="0.9" stroke-linejoin="round"/><polygon points="0.6,10.0 14.0,3.6 28.0,8.2 14.3,17.2" fill="#37a0c4"/><polygon points="14.3,17.2 28.0,8.2 28.0,17.8 11.8,27.3" fill="#144f78"/><polygon points="0.6,10.0 14.3,17.2 11.8,27.3 1.6,22.4" fill="#2e93bb"/><path d="M2.4,17.5 q4,3.4 9.6,4.6" fill="none" stroke="#2380ab" stroke-width="0.8"/><path d="M7.1,8.2 L12,0.9 Q13.6,-0.6 15.6,-0.1 L19.2,4 L15.6,11.4 L10,11.2 Z" fill="#f4f4f4"/><path d="M15.6,-0.1 L19.2,4 L15.6,11.4 L14.4,6 Z" fill="#cdcdcd"/></g><g transform="translate(108.8,510.6)"><path d="M11.8,1.6 q3,-1.4 5.9,0 v10 h-5.9z" fill="#2e93bb"/><path d="M4,13 L19.7,8.5 L26.2,7.2 Q30.4,8.4 30.4,13.6 Q30.4,18 26.4,23 L13,33.4 Z" fill="#36a0c3"/><path d="M24.6,7.4 L26.8,7.3 Q30.6,8.6 30.4,13.8 Q30.2,17.6 28,20.8 L26.2,22 Q28.4,13 24.6,7.4 Z" fill="#2d93ba"/><path d="M20.8,8.3 L23.6,7.7 Q27.6,13.4 25.4,23.4 L23,25.4 Q25,14.6 20.8,8.3 Z" fill="#eef6f9"/><ellipse cx="8" cy="23" rx="7.4" ry="11.2" transform="rotate(-20 8 23)" fill="#2786b2"/><ellipse cx="8.7" cy="23.2" rx="6.2" ry="10" transform="rotate(-20 8.7 23.2)" fill="#3fabca"/><path d="M6.4,23.4 L13.4,16.4 L14.6,18.4 L8.4,25 Z" fill="#bfe6f0" opacity="0.7"/><path d="M26.4,20.4 l3.4,1.4 l-1.2,3 l-3.4,-1.6z" fill="#2a8ab5"/></g><g transform="translate(80.6,545.6)"><polygon points="0.3,2.6 3.0,0.6 25.2,12.0 25.2,32.2 22.6,33.6 0.3,22.4" fill="#2a8ab5" stroke="#2a8ab5" stroke-width="0.8" stroke-linejoin="round"/><polygon points="0.3,2.6 22.6,14.0 22.6,33.6 0.3,22.4" fill="#2e93bb"/><polygon points="2.8,6.4 18.4,14.2 18.4,29.2 2.8,21.4" fill="#f4f6f8" stroke="#174f78" stroke-width="0.9"/><polygon points="3.2,7.4 18.0,14.8 18.0,17.0 3.2,9.6" fill="#5a63b8"/><polyline points="7.0,12.0 7.0,23.8" fill="none" stroke="#b9d3e6" stroke-width="1.2"/><polyline points="10.2,13.6 10.2,25.4" fill="none" stroke="#b9d3e6" stroke-width="1.2"/><polyline points="13.4,15.2 13.4,27.0" fill="none" stroke="#b9d3e6" stroke-width="1.2"/><polyline points="16.6,16.8 16.6,28.6" fill="none" stroke="#b9d3e6" stroke-width="1.2"/><circle cx="4.6" cy="21" r="1.4" fill="#111"/><circle cx="20.6" cy="28.6" r="0.8" fill="#174f78"/></g><g transform="translate(108.8,546.9)"><polygon points="0.3,11.2 20.5,0.4 30.2,4.4 30.2,11.6 10.2,22.6 0.3,18.2" fill="#2a8ab5" stroke="#2a8ab5" stroke-width="0.8" stroke-linejoin="round"/><polygon points="0.3,11.2 20.5,0.4 30.2,4.4 10.2,15.6" fill="#3aa4c6"/><polygon points="10.2,15.6 30.2,4.4 30.2,11.6 10.2,22.6" fill="#2583ae"/><polygon points="0.3,11.2 10.2,15.6 10.2,22.6 0.3,18.2" fill="#2e93bb"/><polygon points="3.4,14.6 7.8,16.6 7.8,20.0 3.4,18.0" fill="#2079a5"/><path d="M14.5,19 v6.2 q-2.6,1.4 -2.6,3.2 q0,2.8 6.6,3 q6.6,-0.2 6.6,-3 q0,-1.8 -2.6,-3.2 v-10.4z" fill="#2e93bb"/><ellipse cx="18.5" cy="28.4" rx="6.6" ry="2.6" fill="#3aa4c6"/><path d="M14.5,24.4 q4,2 8,0" fill="none" stroke="#1f78a4" stroke-width="0.6"/></g><g transform="translate(145.6,551.4)"><polygon points="15.8,0.7 33.7,7.2 32.3,20.1 14.3,14.3" fill="#1f6f9c" stroke="#1f6f9c" stroke-width="0.9" stroke-linejoin="round"/><polygon points="16.6,2.0 32.6,7.9 31.4,18.6 15.3,13.4" fill="url(#gScreen)"/><polygon points="0.7,20.1 14.3,14.3 32.3,20.8 20.8,28.7" fill="#e9e9e9" stroke="#dcdcdc" stroke-width="0.9" stroke-linejoin="round"/><polygon points="0.7,20.6 20.8,29.2 32.3,21.3 32.3,22.2 20.8,30.2 0.7,21.6" fill="#7fc4dc"/><polygon points="7.4,19.4 14.6,16.3 27.6,21.0 21.4,24.8" fill="#3a3a3a"/><polygon points="8.6,23.0 12.6,21.2 16.6,22.8 12.6,24.8" fill="#bdbdbd"/></g><g transform="translate(173.4,560.6)"><path d="M1,15 L13.2,1.6 Q14.6,0.2 16.8,0.5 L25.2,1.9 Q27.6,2.5 26.2,4.4 L14.4,18 Q13,19.6 10.6,19.3 L2,17.7 Q-0.2,17 1,15 Z" fill="url(#gSilver)" stroke="#9c9c9c" stroke-width="0.5"/><polygon points="4.4,14.2 14.6,2.9 23.6,4.4 13.6,16.0" fill="url(#gScreen)"/><polygon points="2.2,15.6 3.6,14.4 13.2,16.3 12.0,17.8" fill="#6a6a6a"/></g><g transform="translate(201.3,557.8)"><polyline points="4.4,0.6 4.4,6.5" fill="none" stroke="#2e93bb" stroke-width="1.1"/><polygon points="0.3,7.4 3.2,5.6 13.8,6.6 13.8,21.4 11.0,24.2 0.3,22.6" fill="#2a8ab5" stroke="#2a8ab5" stroke-width="0.7" stroke-linejoin="round"/><polygon points="0.3,7.4 3.2,5.6 13.8,6.6 11.0,8.6" fill="#46b0cd"/><polygon points="0.3,7.4 11.0,8.6 11.0,24.2 0.3,22.6" fill="#2b8fc0"/><polygon points="11.0,8.6 13.8,6.6 13.8,21.4 11.0,24.2" fill="#1f78a4"/><polygon points="3.6,10.6 9.8,11.4 9.8,20.8 3.6,19.8" fill="#d6eef6"/></g><g transform="translate(220.2,551.4)"><polygon points="15.8,0.7 33.7,7.2 32.3,20.1 14.3,14.3" fill="#1f6f9c" stroke="#1f6f9c" stroke-width="0.9" stroke-linejoin="round"/><polygon points="16.6,2.0 32.6,7.9 31.4,18.6 15.3,13.4" fill="url(#gScreen)"/><polygon points="0.7,20.1 14.3,14.3 32.3,20.8 20.8,28.7" fill="#e9e9e9" stroke="#dcdcdc" stroke-width="0.9" stroke-linejoin="round"/><polygon points="0.7,20.6 20.8,29.2 32.3,21.3 32.3,22.2 20.8,30.2 0.7,21.6" fill="#7fc4dc"/><polygon points="7.4,19.4 14.6,16.3 27.6,21.0 21.4,24.8" fill="#3a3a3a"/><polygon points="8.6,23.0 12.6,21.2 16.6,22.8 12.6,24.8" fill="#bdbdbd"/></g><g transform="translate(249.6,560.6)"><path d="M1,15 L13.2,1.6 Q14.6,0.2 16.8,0.5 L25.2,1.9 Q27.6,2.5 26.2,4.4 L14.4,18 Q13,19.6 10.6,19.3 L2,17.7 Q-0.2,17 1,15 Z" fill="url(#gSilver)" stroke="#9c9c9c" stroke-width="0.5"/><polygon points="4.4,14.2 14.6,2.9 23.6,4.4 13.6,16.0" fill="url(#gScreen)"/><polygon points="2.2,15.6 3.6,14.4 13.2,16.3 12.0,17.8" fill="#6a6a6a"/></g><g transform="translate(279.2,557.8)"><polyline points="4.4,0.6 4.4,6.5" fill="none" stroke="#2e93bb" stroke-width="1.1"/><polygon points="0.3,7.4 3.2,5.6 13.8,6.6 13.8,21.4 11.0,24.2 0.3,22.6" fill="#2a8ab5" stroke="#2a8ab5" stroke-width="0.7" stroke-linejoin="round"/><polygon points="0.3,7.4 3.2,5.6 13.8,6.6 11.0,8.6" fill="#46b0cd"/><polygon points="0.3,7.4 11.0,8.6 11.0,24.2 0.3,22.6" fill="#2b8fc0"/><polygon points="11.0,8.6 13.8,6.6 13.8,21.4 11.0,24.2" fill="#1f78a4"/><polygon points="3.6,10.6 9.8,11.4 9.8,20.8 3.6,19.8" fill="#d6eef6"/></g></g>
<polyline points="706,445 662,475.6" fill="none" stroke="#5b9bd5" stroke-width="3.3"/>
<polyline points="706,445 748.5,474" fill="none" stroke="#5b9bd5" stroke-width="3.3"/>
<polyline points="617.3,492.3 606.8,506.2" fill="none" stroke="#5b9bd5" stroke-width="3.3"/>
<polyline points="663.3,492.3 673.3,507.7" fill="none" stroke="#5b9bd5" stroke-width="3.3"/>
<polyline points="754.8,484.2 740.8,490.7" fill="none" stroke="#5b9bd5" stroke-width="3.3"/>
<polyline points="792.8,484.2 805.8,490.7" fill="none" stroke="#5b9bd5" stroke-width="3.3"/>
<polygon points="710.4,373.3 717.8,370.2 717.8,400.8 710.4,404.7" fill="url(#gSideL)" stroke="#3aa8c9" stroke-linejoin="round" stroke-width="1"/><polygon points="692.0,364.3 710.4,373.3 710.4,404.7 692.0,395.8" fill="url(#gFront)" stroke="#2c8cba" stroke-linejoin="round" stroke-width="1"/><polygon points="692.0,364.3 698.3,361.3 717.8,370.2 710.4,373.3" fill="#3a9cc4" stroke="#3a9cc4" stroke-linejoin="round" stroke-width="1"/><g opacity="0.11"><polyline points="692.8,371.0 709.6,379.2" fill="none" stroke="#1f6fa3" stroke-width="0.7"/><polyline points="692.8,377.3 709.6,385.5" fill="none" stroke="#1f6fa3" stroke-width="0.7"/><polyline points="692.8,383.6 709.6,391.7" fill="none" stroke="#1f6fa3" stroke-width="0.7"/><polyline points="692.8,389.9 709.6,398.0" fill="none" stroke="#1f6fa3" stroke-width="0.7"/><polyline points="696.6,366.6 696.6,372.9" fill="none" stroke="#1f6fa3" stroke-width="0.7"/><polyline points="704.9,370.6 704.9,376.9" fill="none" stroke="#1f6fa3" stroke-width="0.7"/><polyline points="700.3,374.6 700.3,380.9" fill="none" stroke="#1f6fa3" stroke-width="0.7"/><polyline points="696.6,379.1 696.6,385.4" fill="none" stroke="#1f6fa3" stroke-width="0.7"/><polyline points="704.9,383.2 704.9,389.4" fill="none" stroke="#1f6fa3" stroke-width="0.7"/><polyline points="700.3,387.2 700.3,393.5" fill="none" stroke="#1f6fa3" stroke-width="0.7"/><polyline points="696.6,391.7 696.6,398.0" fill="none" stroke="#1f6fa3" stroke-width="0.7"/><polyline points="704.9,395.7 704.9,402.0" fill="none" stroke="#1f6fa3" stroke-width="0.7"/></g><text transform="matrix(1,-0.419,0,1,714.3,382.7)" x="0 0 0" y="0.0 6.2 12.4" text-anchor="middle" font-size="5.93" font-weight="bold" fill="#fff" stroke="#fff" stroke-width="0.30">UTM</text><g transform="translate(692.0,361.3) scale(0.752)"><path d="M1.5,45.2 C3.5,43.4 7,42 8.3,38.9 C9.6,41.6 10.4,43.6 10.9,45.6 C12,44.2 12.5,42.4 12.2,39.8 C14.6,43.2 16.6,46.6 17.3,49.8 C18.1,49.4 18.7,48.8 19,48 C20.4,51 19.8,54.8 17.6,56.6 C12,57.6 3.6,52.4 1.5,45.2 Z" fill="#d62027"/><path d="M5.2,48.6 C6.6,46.9 8.6,46.6 10.2,47.6 C11.8,47 13.6,48.6 14.6,50.6 C15.7,52.2 16.9,53.8 16.6,55.4 C12,56.2 6.8,52.8 5.2,48.6 Z" fill="#f7941d"/></g>
<g transform="translate(548.9,-3.4)"><path d="M36.5,428.4 L73,409.4 Q75.5,408.1 78,409.4 L125.8,435.4 Q128.8,437 125.9,438.8 L89,459 Q86.3,460.4 83.6,459 L36.4,432.6 Q33.2,430.5 36.5,428.4 Z" fill="#8f9aa8" opacity="0.45" transform="translate(0.6,1.6)"/><path d="M36.5,428.4 L73,409.4 Q75.5,408.1 78,409.4 L125.8,435.4 Q128.8,437 125.9,438.8 L89,459 Q86.3,460.4 83.6,459 L36.4,432.6 Q33.2,430.5 36.5,428.4 Z" fill="url(#gPlate)" stroke="#c4c4c4" stroke-width="0.5"/><polyline points="49.7,426.3 82.5,442.4" fill="none" stroke="#4a4a4a" stroke-width="0.7"/><polyline points="55.5,429.2 59.0,427.0" fill="none" stroke="#4a4a4a" stroke-width="0.7"/><polyline points="70.5,436.5 74.0,434.4" fill="none" stroke="#4a4a4a" stroke-width="0.7"/><path d="M55.3,413.3 V423.4 A6.1,2.9 0 0 0 67.5,423.4 V413.3 Z" fill="#2c8fb8"/><path d="M55.3,423.4 A6.1,2.9 0 0 0 67.5,423.4" fill="none" stroke="#1b6b96" stroke-width="0.6"/><path d="M55.3,420 A6.1,2.9 0 0 0 67.5,420" fill="none" stroke="#1b6b96" stroke-width="0.6"/><path d="M55.3,416.6 A6.1,2.9 0 0 0 67.5,416.6" fill="none" stroke="#1b6b96" stroke-width="0.6"/><ellipse cx="61.4" cy="413.3" rx="6.1" ry="2.9" fill="#46b1cd" stroke="#1f78a4" stroke-width="0.4"/><polygon points="70.3,421.2 78.3,417.0 86.3,421.2 86.3,430.6 78.3,434.8 70.3,430.6" fill="#2c8fb8"/><polygon points="70.3,421.2 78.3,417.0 86.3,421.2 78.3,425.4" fill="#43aecb"/><polygon points="78.3,425.4 86.3,421.2 86.3,430.6 78.3,434.8" fill="#2480ab"/><polyline points="70.3,424.4 78.3,428.6 86.3,424.4" fill="none" stroke="#1b6b96" stroke-width="0.5"/><polyline points="70.3,427.6 78.3,431.8 86.3,427.6" fill="none" stroke="#1b6b96" stroke-width="0.5"/><polygon points="98.5,431.4 113.5,423.1 113.5,441.4 98.5,449.7" fill="url(#gNavy)" stroke="#144a6d" stroke-linejoin="round" stroke-width="0.8"/><polygon points="90.0,427.1 98.5,431.4 98.5,449.7 90.0,445.4" fill="url(#gTowerF)" stroke="#2a8bb5" stroke-linejoin="round" stroke-width="0.8"/><polygon points="90.0,427.1 105.0,418.8 113.5,423.1 98.5,431.4" fill="url(#gTowerT)" stroke="#3498bf" stroke-linejoin="round" stroke-width="0.8"/><polygon points="82.7,438.5 91.5,443.0 91.5,450.0 82.7,445.5" fill="#2b8ab3"/><polygon points="83.6,440.0 90.7,443.7 90.7,448.6 83.6,444.8" fill="#cfe3ee"/><polygon points="85.0,447.4 88.5,449.2 89.5,451.4 84.5,449.0" fill="#2b8ab3"/></g>
<g><polygon points="680.3,420.6 706.5,435.4 706.5,445.5 680.3,431.6" fill="url(#gLeft)" stroke="#2a8db6" stroke-linejoin="round" stroke-width="3"/><polygon points="706.5,435.4 732.7,420.6 732.7,431.6 706.5,445.5" fill="url(#gRight)" stroke="#2582ad" stroke-linejoin="round" stroke-width="3"/><polygon points="706.5,406.7 732.7,420.6 706.5,435.4 680.3,420.6" fill="url(#gTop)" stroke="#3aa2c4" stroke-linejoin="round" stroke-width="3"/><polyline points="680.3,421.0 706.5,435.8 732.7,421.0" fill="none" stroke="#6cc6da" stroke-width="0.7" opacity="0.7"/></g><path d="M697.5,420.6 C693.3,420.6 693.3,417.9 689.1,417.9" fill="none" stroke="#fff" stroke-width="1.0500000000000018"/><circle cx="688.5" cy="417.9" r="1.35" fill="#fff"/><path d="M703.9,416.6 C703.9,414.3 702.6,414.3 702.6,412.0" fill="none" stroke="#fff" stroke-width="1.0500000000000018"/><circle cx="702.6" cy="411.6" r="1.35" fill="#fff"/><path d="M697.5,420.6 C693.3,420.6 693.3,423.3 689.1,423.3" fill="none" stroke="#fff" stroke-width="1.0500000000000018"/><circle cx="688.5" cy="423.3" r="1.35" fill="#fff"/><path d="M703.9,424.6 C703.9,426.9 702.6,426.9 702.6,429.2" fill="none" stroke="#fff" stroke-width="1.0500000000000018"/><circle cx="702.6" cy="429.6" r="1.35" fill="#fff"/><path d="M715.5,420.6 C719.7,420.6 719.7,417.9 723.9,417.9" fill="none" stroke="#fff" stroke-width="1.0500000000000018"/><circle cx="724.5" cy="417.9" r="1.35" fill="#fff"/><path d="M709.1,416.6 C709.1,414.3 710.4,414.3 710.4,412.0" fill="none" stroke="#fff" stroke-width="1.0500000000000018"/><circle cx="710.4" cy="411.6" r="1.35" fill="#fff"/><path d="M715.5,420.6 C719.7,420.6 719.7,423.3 723.9,423.3" fill="none" stroke="#fff" stroke-width="1.0500000000000018"/><circle cx="724.5" cy="423.3" r="1.35" fill="#fff"/><path d="M709.1,424.6 C709.1,426.9 710.4,426.9 710.4,429.2" fill="none" stroke="#fff" stroke-width="1.0500000000000018"/><circle cx="710.4" cy="429.6" r="1.35" fill="#fff"/><ellipse cx="706.5" cy="420.6" rx="8.6" ry="4.4" fill="#35a2c4" stroke="#fff" stroke-width="1.10"/><text transform="matrix(1,0.534,0,1,692.6,435.5)" text-anchor="middle" font-size="5.632000000000001" font-weight="bold" fill="#fff" stroke="#fff" stroke-width="0.28" font-family="&quot;Liberation Sans&quot;,sans-serif" textLength="22.5" lengthAdjust="spacingAndGlyphs">SWITCH</text>
<g transform="translate(548.8,-3.3)"><g><polygon points="69.0,491.7 91.4,503.5 91.4,511.4 69.0,500.3" fill="url(#gLeft)" stroke="#2a8db6" stroke-linejoin="round" stroke-width="2.4"/><polygon points="91.4,503.5 113.8,491.7 113.8,500.3 91.4,511.4" fill="url(#gRight)" stroke="#2582ad" stroke-linejoin="round" stroke-width="2.4"/><polygon points="91.4,480.6 113.8,491.7 91.4,503.5 69.0,491.7" fill="url(#gTop)" stroke="#3aa2c4" stroke-linejoin="round" stroke-width="2.4"/><polyline points="69.0,492.1 91.4,503.9 113.8,492.1" fill="none" stroke="#6cc6da" stroke-width="0.7" opacity="0.7"/></g><polyline points="82.4,495.3 76.9,495.3" fill="none" stroke="#fff" stroke-width="1.1949367088607594"/><polygon points="75.1,495.3 77.3,494.0 77.3,496.6" fill="#fff"/><polyline points="88.0,497.7 88.0,500.3" fill="none" stroke="#fff" stroke-width="1.1949367088607594"/><polygon points="88.0,501.7 86.7,499.5 89.3,499.5" fill="#fff"/><polyline points="100.4,495.3 105.9,495.3" fill="none" stroke="#fff" stroke-width="1.1949367088607594"/><polygon points="107.7,495.3 105.5,496.6 105.5,494.0" fill="#fff"/><polyline points="94.8,497.7 94.8,500.3" fill="none" stroke="#fff" stroke-width="1.1949367088607594"/><polygon points="94.8,501.7 93.5,499.5 96.1,499.5" fill="#fff"/><text transform="matrix(1,0.500,0,1,79.6,503.7)" text-anchor="middle" font-size="4.928" font-weight="bold" fill="#fff" stroke="#fff" stroke-width="0.25" font-family="&quot;Liberation Sans&quot;,sans-serif" textLength="19.5" lengthAdjust="spacingAndGlyphs">SWITCH</text><text transform="matrix(1,-0.500,0,1,103.2,503.7)" text-anchor="middle" font-size="4.928" font-weight="bold" fill="#fff" stroke="#fff" stroke-width="0.25" font-family="&quot;Liberation Sans&quot;,sans-serif" textLength="17.5" lengthAdjust="spacingAndGlyphs">1000M</text><g><polygon points="69.0,474.8 91.4,486.6 91.4,494.5 69.0,483.4" fill="url(#gLeft)" stroke="#2a8db6" stroke-linejoin="round" stroke-width="2.4"/><polygon points="91.4,486.6 113.8,474.8 113.8,483.4 91.4,494.5" fill="url(#gRight)" stroke="#2582ad" stroke-linejoin="round" stroke-width="2.4"/><polygon points="91.4,463.7 113.8,474.8 91.4,486.6 69.0,474.8" fill="url(#gTop)" stroke="#3aa2c4" stroke-linejoin="round" stroke-width="2.4"/><polyline points="69.0,475.2 91.4,487.0 113.8,475.2" fill="none" stroke="#6cc6da" stroke-width="0.7" opacity="0.7"/></g><path d="M84.1,474.8 C80.5,474.8 80.5,472.3 76.9,472.3" fill="none" stroke="#fff" stroke-width="1.1949367088607594"/><polygon points="75.1,472.3 77.3,471.0 77.3,473.6" fill="#fff"/><path d="M89.0,471.8 C89.0,469.5 87.8,469.5 87.8,467.2" fill="none" stroke="#fff" stroke-width="1.1949367088607594"/><polygon points="87.8,465.8 89.1,468.0 86.5,468.0" fill="#fff"/><path d="M84.1,474.8 C80.5,474.8 80.5,477.3 76.9,477.3" fill="none" stroke="#fff" stroke-width="1.1949367088607594"/><polygon points="75.1,477.3 77.3,476.0 77.3,478.6" fill="#fff"/><path d="M89.0,477.8 C89.0,480.1 87.8,480.1 87.8,482.4" fill="none" stroke="#fff" stroke-width="1.1949367088607594"/><polygon points="87.8,483.8 86.5,481.6 89.1,481.6" fill="#fff"/><path d="M98.7,474.8 C102.3,474.8 102.3,472.3 105.9,472.3" fill="none" stroke="#fff" stroke-width="1.1949367088607594"/><polygon points="107.7,472.3 105.5,473.6 105.5,471.0" fill="#fff"/><path d="M93.8,471.8 C93.8,469.5 95.0,469.5 95.0,467.2" fill="none" stroke="#fff" stroke-width="1.1949367088607594"/><polygon points="95.0,465.8 96.3,468.0 93.7,468.0" fill="#fff"/><path d="M98.7,474.8 C102.3,474.8 102.3,477.3 105.9,477.3" fill="none" stroke="#fff" stroke-width="1.1949367088607594"/><polygon points="107.7,477.3 105.5,478.6 105.5,476.0" fill="#fff"/><path d="M93.8,477.8 C93.8,480.1 95.0,480.1 95.0,482.4" fill="none" stroke="#fff" stroke-width="1.1949367088607594"/><polygon points="95.0,483.8 93.7,481.6 96.3,481.6" fill="#fff"/><ellipse cx="91.4" cy="474.8" rx="7.0" ry="3.4" fill="#2f9cc0" stroke="#fff" stroke-width="1.19"/><text x="91.4" y="476.7" text-anchor="middle" font-size="5.6" font-weight="bold" fill="#fff">L2</text><text transform="matrix(1,0.500,0,1,79.6,486.8)" text-anchor="middle" font-size="4.928" font-weight="bold" fill="#fff" stroke="#fff" stroke-width="0.25" font-family="&quot;Liberation Sans&quot;,sans-serif" textLength="19.5" lengthAdjust="spacingAndGlyphs">SWITCH</text><text transform="matrix(1,-0.500,0,1,103.2,486.8)" text-anchor="middle" font-size="4.928" font-weight="bold" fill="#fff" stroke="#fff" stroke-width="0.25" font-family="&quot;Liberation Sans&quot;,sans-serif" textLength="17.5" lengthAdjust="spacingAndGlyphs">1000M</text><g><polygon points="199.3,474.9 225.0,489.9 225.0,496.1 199.3,481.9" fill="url(#gLeft)" stroke="#2a8db6" stroke-linejoin="round" stroke-width="2.6"/><polygon points="225.0,489.9 250.7,474.9 250.7,481.9 225.0,496.1" fill="url(#gRight)" stroke="#2582ad" stroke-linejoin="round" stroke-width="2.6"/><polygon points="225.0,460.8 250.7,474.9 225.0,489.9 199.3,474.9" fill="url(#gTop)" stroke="#3aa2c4" stroke-linejoin="round" stroke-width="2.6"/><polyline points="199.3,475.3 225.0,490.3 250.7,475.3" fill="none" stroke="#6cc6da" stroke-width="0.7" opacity="0.7"/></g><text x="225.0" y="475.1" text-anchor="middle" font-size="7.4" font-weight="bold" fill="#fff" stroke="#fff" stroke-width="0.3" textLength="16.6" lengthAdjust="spacingAndGlyphs">POE</text><path d="M220.6,463.8 C220.6,467.9 229.4,467.9 229.4,463.8" fill="none" stroke="#fff" stroke-width="1.30"/><polygon points="220.2,462.1 222.6,464.4 219.4,465.4" fill="#fff"/><polygon points="229.8,462.1 230.6,465.4 227.4,464.4" fill="#fff"/><path d="M220.6,481.4 C220.6,477.2 229.4,477.2 229.4,481.4" fill="none" stroke="#fff" stroke-width="1.30"/><polygon points="220.2,483.0 219.4,479.7 222.6,480.7" fill="#fff"/><polygon points="229.8,483.0 227.4,480.7 230.6,479.7" fill="#fff"/><path d="M208.0,469.8 C215.2,469.8 215.2,475.4 208.0,475.4" fill="none" stroke="#fff" stroke-width="1.30"/><polygon points="206.2,469.8 209.1,468.1 209.1,471.4" fill="#fff"/><polygon points="206.2,475.4 209.1,473.7 209.1,477.0" fill="#fff"/><path d="M242.0,469.8 C234.8,469.8 234.8,475.4 242.0,475.4" fill="none" stroke="#fff" stroke-width="1.30"/><polygon points="243.8,469.8 240.9,471.4 240.9,468.1" fill="#fff"/><polygon points="243.8,475.4 240.9,477.0 240.9,473.7" fill="#fff"/><text transform="matrix(1,0.554,0,1,211.5,487.8)" text-anchor="middle" font-size="5.28" font-weight="bold" fill="#fff" stroke="#fff" stroke-width="0.26" font-family="&quot;Liberation Sans&quot;,sans-serif" textLength="21.5" lengthAdjust="spacingAndGlyphs">SWITCH</text><text transform="matrix(1,-0.554,0,1,238.5,487.8)" text-anchor="middle" font-size="5.28" font-weight="bold" fill="#fff" stroke="#fff" stroke-width="0.26" font-family="&quot;Liberation Sans&quot;,sans-serif" textLength="19.5" lengthAdjust="spacingAndGlyphs">1000M</text><g><polygon points="168.8,506.0 193.3,520.1 193.3,527.3 168.8,514.0" fill="url(#gLeft)" stroke="#2a8db6" stroke-linejoin="round" stroke-width="2.8"/><polygon points="193.3,520.1 217.8,506.0 217.8,514.0 193.3,527.3" fill="url(#gRight)" stroke="#2582ad" stroke-linejoin="round" stroke-width="2.8"/><polygon points="193.3,492.7 217.8,506.0 193.3,520.1 168.8,506.0" fill="url(#gTop)" stroke="#3aa2c4" stroke-linejoin="round" stroke-width="2.8"/><polyline points="168.8,506.4 193.3,520.5 217.8,506.4" fill="none" stroke="#6cc6da" stroke-width="0.7" opacity="0.7"/></g><polygon points="176.4,503.2 184.8,498.5 194.6,502.7 187.1,508.3" fill="#fff"/><polyline points="187.7,506.3 193.9,503.2" fill="none" stroke="#1d648c" stroke-width="1.693461538461538"/><path d="M205.6,501.6 Q210.6,504.8 198.7,510.9" fill="none" stroke="#fff" stroke-width="1.59" stroke-linecap="round"/><path d="M203.0,502.0 Q207.1,504.5 197.5,509.5" fill="none" stroke="#fff" stroke-width="1.59" stroke-linecap="round"/><path d="M200.4,502.5 Q203.7,504.4 196.4,508.2" fill="none" stroke="#fff" stroke-width="1.59" stroke-linecap="round"/><text transform="matrix(1,0.544,0,1,180.3,519.0)" text-anchor="middle" font-size="5.456" font-weight="bold" fill="#fff" stroke="#fff" stroke-width="0.27" font-family="&quot;Liberation Sans&quot;,sans-serif" textLength="15.6" lengthAdjust="spacingAndGlyphs">WLAN</text><g><polygon points="232.1,506.0 256.6,520.1 256.6,527.3 232.1,514.0" fill="url(#gLeft)" stroke="#2a8db6" stroke-linejoin="round" stroke-width="2.8"/><polygon points="256.6,520.1 281.2,506.0 281.2,514.0 256.6,527.3" fill="url(#gRight)" stroke="#2582ad" stroke-linejoin="round" stroke-width="2.8"/><polygon points="256.6,492.7 281.2,506.0 256.6,520.1 232.1,506.0" fill="url(#gTop)" stroke="#3aa2c4" stroke-linejoin="round" stroke-width="2.8"/><polyline points="232.1,506.4 256.6,520.5 281.2,506.4" fill="none" stroke="#6cc6da" stroke-width="0.7" opacity="0.7"/></g><polygon points="239.7,503.2 248.2,498.5 257.9,502.7 250.5,508.3" fill="#fff"/><polyline points="251.1,506.3 257.2,503.2" fill="none" stroke="#1d648c" stroke-width="1.6967307692307703"/><path d="M268.9,501.6 Q274.0,504.8 262.0,510.9" fill="none" stroke="#fff" stroke-width="1.60" stroke-linecap="round"/><path d="M266.3,502.0 Q270.5,504.5 260.8,509.5" fill="none" stroke="#fff" stroke-width="1.60" stroke-linecap="round"/><path d="M263.7,502.5 Q267.0,504.4 259.7,508.2" fill="none" stroke="#fff" stroke-width="1.60" stroke-linecap="round"/><text transform="matrix(1,0.543,0,1,243.7,519.0)" text-anchor="middle" font-size="5.456" font-weight="bold" fill="#fff" stroke="#fff" stroke-width="0.27" font-family="&quot;Liberation Sans&quot;,sans-serif" textLength="15.6" lengthAdjust="spacingAndGlyphs">WLAN</text><path d="M182.5,532.1 A15.5,15.5 0 0 0 200.7,532.1" fill="none" stroke="#2e8bbf" stroke-width="4.5"/><path d="M178.3,537.9 A22.6,22.6 0 0 0 204.9,537.9" fill="none" stroke="#2e8bbf" stroke-width="4.5"/><path d="M174.2,543.5 A29.6,29.6 0 0 0 209.0,543.5" fill="none" stroke="#2e8bbf" stroke-width="4.5"/><path d="M254.3,532.1 A15.5,15.5 0 0 0 272.5,532.1" fill="none" stroke="#2e8bbf" stroke-width="4.5"/><path d="M250.1,537.9 A22.6,22.6 0 0 0 276.7,537.9" fill="none" stroke="#2e8bbf" stroke-width="4.5"/><path d="M246.0,543.5 A29.6,29.6 0 0 0 280.8,543.5" fill="none" stroke="#2e8bbf" stroke-width="4.5"/><g transform="translate(41.2,511.2)"><polygon points="0.5,7.0 12.5,0.5 21.0,4.6 21.0,22.0 8.4,28.4 0.5,24.0" fill="#2a8ab5" stroke="#2a8ab5" stroke-width="0.8" stroke-linejoin="round"/><polygon points="0.5,7.0 12.5,0.5 21.0,4.6 8.4,11.2" fill="#3aa4c6"/><polygon points="0.5,7.0 8.4,11.2 8.4,28.4 0.5,24.0" fill="#2e93bb"/><polyline points="4.4,9.4 4.4,26.0" fill="none" stroke="#1f78a4" stroke-width="0.6"/><polygon points="13.5,25.0 20.0,22.4 30.5,27.4 30.5,29.6 24.0,32.4 13.5,27.4" fill="#2580ac"/><polygon points="13.5,25.0 20.0,22.4 30.5,27.4 24.0,30.2" fill="#3aa4c6"/><polygon points="11.3,4.4 12.8,3.6 34.2,14.0 34.2,30.6 32.8,31.4 11.3,21.6" fill="#185f8a" stroke="#185f8a" stroke-width="0.5" stroke-linejoin="round"/><polygon points="11.3,4.4 32.8,14.8 32.8,31.4 11.3,21.6" fill="#2f98be"/><polygon points="12.9,7.0 31.2,15.8 31.2,29.0 12.9,20.2" fill="#c3c5c7"/></g><g transform="translate(41.2,545.6)"><polygon points="0.5,7.0 12.5,0.5 21.0,4.6 21.0,22.0 8.4,28.4 0.5,24.0" fill="#2a8ab5" stroke="#2a8ab5" stroke-width="0.8" stroke-linejoin="round"/><polygon points="0.5,7.0 12.5,0.5 21.0,4.6 8.4,11.2" fill="#3aa4c6"/><polygon points="0.5,7.0 8.4,11.2 8.4,28.4 0.5,24.0" fill="#2e93bb"/><polyline points="4.4,9.4 4.4,26.0" fill="none" stroke="#1f78a4" stroke-width="0.6"/><polygon points="13.5,25.0 20.0,22.4 30.5,27.4 30.5,29.6 24.0,32.4 13.5,27.4" fill="#2580ac"/><polygon points="13.5,25.0 20.0,22.4 30.5,27.4 24.0,30.2" fill="#3aa4c6"/><polygon points="11.3,4.4 12.8,3.6 34.2,14.0 34.2,30.6 32.8,31.4 11.3,21.6" fill="#185f8a" stroke="#185f8a" stroke-width="0.5" stroke-linejoin="round"/><polygon points="11.3,4.4 32.8,14.8 32.8,31.4 11.3,21.6" fill="#2f98be"/><polygon points="12.9,7.0 31.2,15.8 31.2,29.0 12.9,20.2" fill="#c3c5c7"/></g><g transform="translate(79.6,514.3)"><polygon points="0.6,10.0 14.0,3.6 28.0,8.2 28.0,17.8 11.8,27.3 1.6,22.4" fill="#2a8ab5" stroke="#2a8ab5" stroke-width="0.9" stroke-linejoin="round"/><polygon points="0.6,10.0 14.0,3.6 28.0,8.2 14.3,17.2" fill="#37a0c4"/><polygon points="14.3,17.2 28.0,8.2 28.0,17.8 11.8,27.3" fill="#144f78"/><polygon points="0.6,10.0 14.3,17.2 11.8,27.3 1.6,22.4" fill="#2e93bb"/><path d="M2.4,17.5 q4,3.4 9.6,4.6" fill="none" stroke="#2380ab" stroke-width="0.8"/><path d="M7.1,8.2 L12,0.9 Q13.6,-0.6 15.6,-0.1 L19.2,4 L15.6,11.4 L10,11.2 Z" fill="#f4f4f4"/><path d="M15.6,-0.1 L19.2,4 L15.6,11.4 L14.4,6 Z" fill="#cdcdcd"/></g><g transform="translate(108.8,510.6)"><path d="M11.8,1.6 q3,-1.4 5.9,0 v10 h-5.9z" fill="#2e93bb"/><path d="M4,13 L19.7,8.5 L26.2,7.2 Q30.4,8.4 30.4,13.6 Q30.4,18 26.4,23 L13,33.4 Z" fill="#36a0c3"/><path d="M24.6,7.4 L26.8,7.3 Q30.6,8.6 30.4,13.8 Q30.2,17.6 28,20.8 L26.2,22 Q28.4,13 24.6,7.4 Z" fill="#2d93ba"/><path d="M20.8,8.3 L23.6,7.7 Q27.6,13.4 25.4,23.4 L23,25.4 Q25,14.6 20.8,8.3 Z" fill="#eef6f9"/><ellipse cx="8" cy="23" rx="7.4" ry="11.2" transform="rotate(-20 8 23)" fill="#2786b2"/><ellipse cx="8.7" cy="23.2" rx="6.2" ry="10" transform="rotate(-20 8.7 23.2)" fill="#3fabca"/><path d="M6.4,23.4 L13.4,16.4 L14.6,18.4 L8.4,25 Z" fill="#bfe6f0" opacity="0.7"/><path d="M26.4,20.4 l3.4,1.4 l-1.2,3 l-3.4,-1.6z" fill="#2a8ab5"/></g><g transform="translate(80.6,545.6)"><polygon points="0.3,2.6 3.0,0.6 25.2,12.0 25.2,32.2 22.6,33.6 0.3,22.4" fill="#2a8ab5" stroke="#2a8ab5" stroke-width="0.8" stroke-linejoin="round"/><polygon points="0.3,2.6 22.6,14.0 22.6,33.6 0.3,22.4" fill="#2e93bb"/><polygon points="2.8,6.4 18.4,14.2 18.4,29.2 2.8,21.4" fill="#f4f6f8" stroke="#174f78" stroke-width="0.9"/><polygon points="3.2,7.4 18.0,14.8 18.0,17.0 3.2,9.6" fill="#5a63b8"/><polyline points="7.0,12.0 7.0,23.8" fill="none" stroke="#b9d3e6" stroke-width="1.2"/><polyline points="10.2,13.6 10.2,25.4" fill="none" stroke="#b9d3e6" stroke-width="1.2"/><polyline points="13.4,15.2 13.4,27.0" fill="none" stroke="#b9d3e6" stroke-width="1.2"/><polyline points="16.6,16.8 16.6,28.6" fill="none" stroke="#b9d3e6" stroke-width="1.2"/><circle cx="4.6" cy="21" r="1.4" fill="#111"/><circle cx="20.6" cy="28.6" r="0.8" fill="#174f78"/></g><g transform="translate(108.8,546.9)"><polygon points="0.3,11.2 20.5,0.4 30.2,4.4 30.2,11.6 10.2,22.6 0.3,18.2" fill="#2a8ab5" stroke="#2a8ab5" stroke-width="0.8" stroke-linejoin="round"/><polygon points="0.3,11.2 20.5,0.4 30.2,4.4 10.2,15.6" fill="#3aa4c6"/><polygon points="10.2,15.6 30.2,4.4 30.2,11.6 10.2,22.6" fill="#2583ae"/><polygon points="0.3,11.2 10.2,15.6 10.2,22.6 0.3,18.2" fill="#2e93bb"/><polygon points="3.4,14.6 7.8,16.6 7.8,20.0 3.4,18.0" fill="#2079a5"/><path d="M14.5,19 v6.2 q-2.6,1.4 -2.6,3.2 q0,2.8 6.6,3 q6.6,-0.2 6.6,-3 q0,-1.8 -2.6,-3.2 v-10.4z" fill="#2e93bb"/><ellipse cx="18.5" cy="28.4" rx="6.6" ry="2.6" fill="#3aa4c6"/><path d="M14.5,24.4 q4,2 8,0" fill="none" stroke="#1f78a4" stroke-width="0.6"/></g><g transform="translate(145.6,551.4)"><polygon points="15.8,0.7 33.7,7.2 32.3,20.1 14.3,14.3" fill="#1f6f9c" stroke="#1f6f9c" stroke-width="0.9" stroke-linejoin="round"/><polygon points="16.6,2.0 32.6,7.9 31.4,18.6 15.3,13.4" fill="url(#gScreen)"/><polygon points="0.7,20.1 14.3,14.3 32.3,20.8 20.8,28.7" fill="#e9e9e9" stroke="#dcdcdc" stroke-width="0.9" stroke-linejoin="round"/><polygon points="0.7,20.6 20.8,29.2 32.3,21.3 32.3,22.2 20.8,30.2 0.7,21.6" fill="#7fc4dc"/><polygon points="7.4,19.4 14.6,16.3 27.6,21.0 21.4,24.8" fill="#3a3a3a"/><polygon points="8.6,23.0 12.6,21.2 16.6,22.8 12.6,24.8" fill="#bdbdbd"/></g><g transform="translate(173.4,560.6)"><path d="M1,15 L13.2,1.6 Q14.6,0.2 16.8,0.5 L25.2,1.9 Q27.6,2.5 26.2,4.4 L14.4,18 Q13,19.6 10.6,19.3 L2,17.7 Q-0.2,17 1,15 Z" fill="url(#gSilver)" stroke="#9c9c9c" stroke-width="0.5"/><polygon points="4.4,14.2 14.6,2.9 23.6,4.4 13.6,16.0" fill="url(#gScreen)"/><polygon points="2.2,15.6 3.6,14.4 13.2,16.3 12.0,17.8" fill="#6a6a6a"/></g><g transform="translate(201.3,557.8)"><polyline points="4.4,0.6 4.4,6.5" fill="none" stroke="#2e93bb" stroke-width="1.1"/><polygon points="0.3,7.4 3.2,5.6 13.8,6.6 13.8,21.4 11.0,24.2 0.3,22.6" fill="#2a8ab5" stroke="#2a8ab5" stroke-width="0.7" stroke-linejoin="round"/><polygon points="0.3,7.4 3.2,5.6 13.8,6.6 11.0,8.6" fill="#46b0cd"/><polygon points="0.3,7.4 11.0,8.6 11.0,24.2 0.3,22.6" fill="#2b8fc0"/><polygon points="11.0,8.6 13.8,6.6 13.8,21.4 11.0,24.2" fill="#1f78a4"/><polygon points="3.6,10.6 9.8,11.4 9.8,20.8 3.6,19.8" fill="#d6eef6"/></g><g transform="translate(220.2,551.4)"><polygon points="15.8,0.7 33.7,7.2 32.3,20.1 14.3,14.3" fill="#1f6f9c" stroke="#1f6f9c" stroke-width="0.9" stroke-linejoin="round"/><polygon points="16.6,2.0 32.6,7.9 31.4,18.6 15.3,13.4" fill="url(#gScreen)"/><polygon points="0.7,20.1 14.3,14.3 32.3,20.8 20.8,28.7" fill="#e9e9e9" stroke="#dcdcdc" stroke-width="0.9" stroke-linejoin="round"/><polygon points="0.7,20.6 20.8,29.2 32.3,21.3 32.3,22.2 20.8,30.2 0.7,21.6" fill="#7fc4dc"/><polygon points="7.4,19.4 14.6,16.3 27.6,21.0 21.4,24.8" fill="#3a3a3a"/><polygon points="8.6,23.0 12.6,21.2 16.6,22.8 12.6,24.8" fill="#bdbdbd"/></g><g transform="translate(249.6,560.6)"><path d="M1,15 L13.2,1.6 Q14.6,0.2 16.8,0.5 L25.2,1.9 Q27.6,2.5 26.2,4.4 L14.4,18 Q13,19.6 10.6,19.3 L2,17.7 Q-0.2,17 1,15 Z" fill="url(#gSilver)" stroke="#9c9c9c" stroke-width="0.5"/><polygon points="4.4,14.2 14.6,2.9 23.6,4.4 13.6,16.0" fill="url(#gScreen)"/><polygon points="2.2,15.6 3.6,14.4 13.2,16.3 12.0,17.8" fill="#6a6a6a"/></g><g transform="translate(279.2,557.8)"><polyline points="4.4,0.6 4.4,6.5" fill="none" stroke="#2e93bb" stroke-width="1.1"/><polygon points="0.3,7.4 3.2,5.6 13.8,6.6 13.8,21.4 11.0,24.2 0.3,22.6" fill="#2a8ab5" stroke="#2a8ab5" stroke-width="0.7" stroke-linejoin="round"/><polygon points="0.3,7.4 3.2,5.6 13.8,6.6 11.0,8.6" fill="#46b0cd"/><polygon points="0.3,7.4 11.0,8.6 11.0,24.2 0.3,22.6" fill="#2b8fc0"/><polygon points="11.0,8.6 13.8,6.6 13.8,21.4 11.0,24.2" fill="#1f78a4"/><polygon points="3.6,10.6 9.8,11.4 9.8,20.8 3.6,19.8" fill="#d6eef6"/></g></g>
<polyline points="956,441 929,475" fill="none" stroke="#5b9bd5" stroke-width="3.3"/>
<polyline points="956,441 991,473" fill="none" stroke="#5b9bd5" stroke-width="3.3"/>
<polygon points="958.5,371.9 966.0,368.7 966.0,400.0 958.5,404.0" fill="url(#gSideL)" stroke="#3aa8c9" stroke-linejoin="round" stroke-width="1"/><polygon points="939.8,362.7 958.5,371.9 958.5,404.0 939.8,394.9" fill="url(#gFront)" stroke="#2c8cba" stroke-linejoin="round" stroke-width="1"/><polygon points="939.8,362.7 946.2,359.6 966.0,368.7 958.5,371.9" fill="#3a9cc4" stroke="#3a9cc4" stroke-linejoin="round" stroke-width="1"/><g opacity="0.11"><polyline points="940.6,369.5 957.7,377.9" fill="none" stroke="#1f6fa3" stroke-width="0.7"/><polyline points="940.6,376.0 957.7,384.3" fill="none" stroke="#1f6fa3" stroke-width="0.7"/><polyline points="940.6,382.4 957.7,390.8" fill="none" stroke="#1f6fa3" stroke-width="0.7"/><polyline points="940.6,388.8 957.7,397.2" fill="none" stroke="#1f6fa3" stroke-width="0.7"/><polyline points="944.5,365.0 944.5,371.4" fill="none" stroke="#1f6fa3" stroke-width="0.7"/><polyline points="952.9,369.1 952.9,375.5" fill="none" stroke="#1f6fa3" stroke-width="0.7"/><polyline points="948.2,373.3 948.2,379.7" fill="none" stroke="#1f6fa3" stroke-width="0.7"/><polyline points="944.5,377.9 944.5,384.3" fill="none" stroke="#1f6fa3" stroke-width="0.7"/><polyline points="952.9,382.0 952.9,388.4" fill="none" stroke="#1f6fa3" stroke-width="0.7"/><polyline points="948.2,386.1 948.2,392.5" fill="none" stroke="#1f6fa3" stroke-width="0.7"/><polyline points="944.5,390.7 944.5,397.1" fill="none" stroke="#1f6fa3" stroke-width="0.7"/><polyline points="952.9,394.8 952.9,401.3" fill="none" stroke="#1f6fa3" stroke-width="0.7"/></g><text transform="matrix(1,-0.422,0,1,962.5,381.4)" x="0 0 0" y="0.0 6.3 12.7" text-anchor="middle" font-size="6.03" font-weight="bold" fill="#fff" stroke="#fff" stroke-width="0.30">UTM</text><g transform="translate(939.8,359.6) scale(0.764)"><path d="M1.5,45.2 C3.5,43.4 7,42 8.3,38.9 C9.6,41.6 10.4,43.6 10.9,45.6 C12,44.2 12.5,42.4 12.2,39.8 C14.6,43.2 16.6,46.6 17.3,49.8 C18.1,49.4 18.7,48.8 19,48 C20.4,51 19.8,54.8 17.6,56.6 C12,57.6 3.6,52.4 1.5,45.2 Z" fill="#d62027"/><path d="M5.2,48.6 C6.6,46.9 8.6,46.6 10.2,47.6 C11.8,47 13.6,48.6 14.6,50.6 C15.7,52.2 16.9,53.8 16.6,55.4 C12,56.2 6.8,52.8 5.2,48.6 Z" fill="#f7941d"/></g>
<g><polygon points="930.5,417.8 956.2,432.0 956.2,441.4 930.5,428.1" fill="url(#gLeft)" stroke="#2a8db6" stroke-linejoin="round" stroke-width="3"/><polygon points="956.2,432.0 982.0,417.8 982.0,428.1 956.2,441.4" fill="url(#gRight)" stroke="#2582ad" stroke-linejoin="round" stroke-width="3"/><polygon points="956.2,404.4 982.0,417.8 956.2,432.0 930.5,417.8" fill="url(#gTop)" stroke="#3aa2c4" stroke-linejoin="round" stroke-width="3"/><polyline points="930.5,418.1 956.2,432.4 982.0,418.1" fill="none" stroke="#6cc6da" stroke-width="0.7" opacity="0.7"/></g><path d="M947.4,417.8 C943.2,417.8 943.2,415.1 939.1,415.1" fill="none" stroke="#fff" stroke-width="1.032942238267148"/><circle cx="938.5" cy="415.1" r="1.33" fill="#fff"/><path d="M953.7,413.9 C953.7,411.6 952.4,411.6 952.4,409.3" fill="none" stroke="#fff" stroke-width="1.032942238267148"/><circle cx="952.4" cy="408.9" r="1.33" fill="#fff"/><path d="M947.4,417.8 C943.2,417.8 943.2,420.4 939.1,420.4" fill="none" stroke="#fff" stroke-width="1.032942238267148"/><circle cx="938.5" cy="420.4" r="1.33" fill="#fff"/><path d="M953.7,421.6 C953.7,423.9 952.4,423.9 952.4,426.2" fill="none" stroke="#fff" stroke-width="1.032942238267148"/><circle cx="952.4" cy="426.6" r="1.33" fill="#fff"/><path d="M965.1,417.8 C969.3,417.8 969.3,415.1 973.4,415.1" fill="none" stroke="#fff" stroke-width="1.032942238267148"/><circle cx="974.0" cy="415.1" r="1.33" fill="#fff"/><path d="M958.8,413.9 C958.8,411.6 960.1,411.6 960.1,409.3" fill="none" stroke="#fff" stroke-width="1.032942238267148"/><circle cx="960.1" cy="408.9" r="1.33" fill="#fff"/><path d="M965.1,417.8 C969.3,417.8 969.3,420.4 973.4,420.4" fill="none" stroke="#fff" stroke-width="1.032942238267148"/><circle cx="974.0" cy="420.4" r="1.33" fill="#fff"/><path d="M958.8,421.6 C958.8,423.9 960.1,423.9 960.1,426.2" fill="none" stroke="#fff" stroke-width="1.032942238267148"/><circle cx="960.1" cy="426.6" r="1.33" fill="#fff"/><ellipse cx="956.2" cy="417.8" rx="8.5" ry="4.3" fill="#35a2c4" stroke="#fff" stroke-width="1.08"/><text transform="matrix(1,0.523,0,1,942.6,432.0)" text-anchor="middle" font-size="5.456" font-weight="bold" fill="#fff" stroke="#fff" stroke-width="0.27" font-family="&quot;Liberation Sans&quot;,sans-serif" textLength="22.0" lengthAdjust="spacingAndGlyphs">SWITCH</text>
<g><polygon points="883.8,489.1 906.0,500.9 906.0,508.8 883.8,497.7" fill="url(#gLeft)" stroke="#2a8db6" stroke-linejoin="round" stroke-width="2.4"/><polygon points="906.0,500.9 928.2,489.1 928.2,497.7 906.0,508.8" fill="url(#gRight)" stroke="#2582ad" stroke-linejoin="round" stroke-width="2.4"/><polygon points="906.0,478.0 928.2,489.1 906.0,500.9 883.8,489.1" fill="url(#gTop)" stroke="#3aa2c4" stroke-linejoin="round" stroke-width="2.4"/><polyline points="883.8,489.5 906.0,501.3 928.2,489.5" fill="none" stroke="#6cc6da" stroke-width="0.7" opacity="0.7"/></g><polyline points="897.1,492.7 891.6,492.7" fill="none" stroke="#fff" stroke-width="1.1848101265822772"/><polygon points="889.8,492.7 892.0,491.4 892.0,493.9" fill="#fff"/><polyline points="902.6,495.0 902.6,497.6" fill="none" stroke="#fff" stroke-width="1.1848101265822772"/><polygon points="902.6,499.0 901.4,496.8 903.9,496.8" fill="#fff"/><polyline points="914.9,492.7 920.4,492.7" fill="none" stroke="#fff" stroke-width="1.1848101265822772"/><polygon points="922.2,492.7 920.0,493.9 920.0,491.4" fill="#fff"/><polyline points="909.4,495.0 909.4,497.6" fill="none" stroke="#fff" stroke-width="1.1848101265822772"/><polygon points="909.4,499.0 908.1,496.8 910.6,496.8" fill="#fff"/><text transform="matrix(1,0.504,0,1,894.3,501.1)" text-anchor="middle" font-size="4.928" font-weight="bold" fill="#fff" stroke="#fff" stroke-width="0.25" font-family="&quot;Liberation Sans&quot;,sans-serif" textLength="19.5" lengthAdjust="spacingAndGlyphs">SWITCH</text><text transform="matrix(1,-0.504,0,1,917.7,501.1)" text-anchor="middle" font-size="4.928" font-weight="bold" fill="#fff" stroke="#fff" stroke-width="0.25" font-family="&quot;Liberation Sans&quot;,sans-serif" textLength="17.5" lengthAdjust="spacingAndGlyphs">1000M</text><g><polygon points="883.8,472.2 906.0,484.0 906.0,491.9 883.8,480.8" fill="url(#gLeft)" stroke="#2a8db6" stroke-linejoin="round" stroke-width="2.4"/><polygon points="906.0,484.0 928.2,472.2 928.2,480.8 906.0,491.9" fill="url(#gRight)" stroke="#2582ad" stroke-linejoin="round" stroke-width="2.4"/><polygon points="906.0,461.1 928.2,472.2 906.0,484.0 883.8,472.2" fill="url(#gTop)" stroke="#3aa2c4" stroke-linejoin="round" stroke-width="2.4"/><polyline points="883.8,472.6 906.0,484.4 928.2,472.6" fill="none" stroke="#6cc6da" stroke-width="0.7" opacity="0.7"/></g><path d="M898.7,472.2 C895.2,472.2 895.2,469.7 891.6,469.7" fill="none" stroke="#fff" stroke-width="1.1848101265822772"/><polygon points="889.8,469.7 892.0,468.5 892.0,471.0" fill="#fff"/><path d="M903.6,469.2 C903.6,466.9 902.4,466.9 902.4,464.7" fill="none" stroke="#fff" stroke-width="1.1848101265822772"/><polygon points="902.4,463.3 903.7,465.5 901.2,465.5" fill="#fff"/><path d="M898.7,472.2 C895.2,472.2 895.2,474.7 891.6,474.7" fill="none" stroke="#fff" stroke-width="1.1848101265822772"/><polygon points="889.8,474.7 892.0,473.4 892.0,475.9" fill="#fff"/><path d="M903.6,475.2 C903.6,477.5 902.4,477.5 902.4,479.7" fill="none" stroke="#fff" stroke-width="1.1848101265822772"/><polygon points="902.4,481.1 901.2,478.9 903.7,478.9" fill="#fff"/><path d="M913.3,472.2 C916.8,472.2 916.8,469.7 920.4,469.7" fill="none" stroke="#fff" stroke-width="1.1848101265822772"/><polygon points="922.2,469.7 920.0,471.0 920.0,468.5" fill="#fff"/><path d="M908.4,469.2 C908.4,466.9 909.6,466.9 909.6,464.7" fill="none" stroke="#fff" stroke-width="1.1848101265822772"/><polygon points="909.6,463.3 910.8,465.5 908.3,465.5" fill="#fff"/><path d="M913.3,472.2 C916.8,472.2 916.8,474.7 920.4,474.7" fill="none" stroke="#fff" stroke-width="1.1848101265822772"/><polygon points="922.2,474.7 920.0,475.9 920.0,473.4" fill="#fff"/><path d="M908.4,475.2 C908.4,477.5 909.6,477.5 909.6,479.7" fill="none" stroke="#fff" stroke-width="1.1848101265822772"/><polygon points="909.6,481.1 908.3,478.9 910.8,478.9" fill="#fff"/><ellipse cx="906.0" cy="472.2" rx="6.9" ry="3.4" fill="#2f9cc0" stroke="#fff" stroke-width="1.18"/><text x="906.0" y="474.1" text-anchor="middle" font-size="5.5" font-weight="bold" fill="#fff">L2</text><text transform="matrix(1,0.504,0,1,894.3,484.2)" text-anchor="middle" font-size="4.928" font-weight="bold" fill="#fff" stroke="#fff" stroke-width="0.25" font-family="&quot;Liberation Sans&quot;,sans-serif" textLength="19.5" lengthAdjust="spacingAndGlyphs">SWITCH</text><text transform="matrix(1,-0.504,0,1,917.7,484.2)" text-anchor="middle" font-size="4.928" font-weight="bold" fill="#fff" stroke="#fff" stroke-width="0.25" font-family="&quot;Liberation Sans&quot;,sans-serif" textLength="17.5" lengthAdjust="spacingAndGlyphs">1000M</text>
<g><polygon points="991.0,472.5 1016.6,488.0 1016.6,494.2 991.0,479.5" fill="url(#gLeft)" stroke="#2a8db6" stroke-linejoin="round" stroke-width="2.6"/><polygon points="1016.6,488.0 1042.1,472.5 1042.1,479.5 1016.6,494.2" fill="url(#gRight)" stroke="#2582ad" stroke-linejoin="round" stroke-width="2.6"/><polygon points="1016.6,457.8 1042.1,472.5 1016.6,488.0 991.0,472.5" fill="url(#gTop)" stroke="#3aa2c4" stroke-linejoin="round" stroke-width="2.6"/><polyline points="991.0,472.9 1016.6,488.4 1042.1,472.9" fill="none" stroke="#6cc6da" stroke-width="0.7" opacity="0.7"/></g><text x="1016.6" y="472.7" text-anchor="middle" font-size="7.4" font-weight="bold" fill="#fff" stroke="#fff" stroke-width="0.3" textLength="16.5" lengthAdjust="spacingAndGlyphs">POE</text><path d="M1012.2,461.4 C1012.2,465.5 1020.9,465.5 1020.9,461.4" fill="none" stroke="#fff" stroke-width="1.29"/><polygon points="1011.8,459.8 1014.2,462.0 1011.0,463.0" fill="#fff"/><polygon points="1021.3,459.8 1022.1,463.0 1018.9,462.0" fill="#fff"/><path d="M1012.2,478.9 C1012.2,474.7 1020.9,474.7 1020.9,478.9" fill="none" stroke="#fff" stroke-width="1.29"/><polygon points="1011.8,480.5 1011.0,477.3 1014.2,478.2" fill="#fff"/><polygon points="1021.3,480.5 1018.9,478.2 1022.1,477.3" fill="#fff"/><path d="M999.6,467.3 C1006.8,467.3 1006.8,472.9 999.6,472.9" fill="none" stroke="#fff" stroke-width="1.29"/><polygon points="997.9,467.3 1000.7,465.7 1000.7,469.0" fill="#fff"/><polygon points="997.9,472.9 1000.7,471.3 1000.7,474.5" fill="#fff"/><path d="M1033.5,467.3 C1026.3,467.3 1026.3,472.9 1033.5,472.9" fill="none" stroke="#fff" stroke-width="1.29"/><polygon points="1035.2,467.3 1032.4,469.0 1032.4,465.7" fill="#fff"/><polygon points="1035.2,472.9 1032.4,474.5 1032.4,471.3" fill="#fff"/><text transform="matrix(1,0.577,0,1,1003.1,485.7)" text-anchor="middle" font-size="5.28" font-weight="bold" fill="#fff" stroke="#fff" stroke-width="0.26" font-family="&quot;Liberation Sans&quot;,sans-serif" textLength="21.5" lengthAdjust="spacingAndGlyphs">SWITCH</text><text transform="matrix(1,-0.577,0,1,1030.0,485.7)" text-anchor="middle" font-size="5.28" font-weight="bold" fill="#fff" stroke="#fff" stroke-width="0.26" font-family="&quot;Liberation Sans&quot;,sans-serif" textLength="19.5" lengthAdjust="spacingAndGlyphs">1000M</text>
<g><polygon points="964.4,502.9 988.9,517.0 988.9,524.2 964.4,510.9" fill="url(#gLeft)" stroke="#2a8db6" stroke-linejoin="round" stroke-width="2.8"/><polygon points="988.9,517.0 1013.4,502.9 1013.4,510.9 988.9,524.2" fill="url(#gRight)" stroke="#2582ad" stroke-linejoin="round" stroke-width="2.8"/><polygon points="988.9,489.6 1013.4,502.9 988.9,517.0 964.4,502.9" fill="url(#gTop)" stroke="#3aa2c4" stroke-linejoin="round" stroke-width="2.8"/><polyline points="964.4,503.3 988.9,517.4 1013.4,503.3" fill="none" stroke="#6cc6da" stroke-width="0.7" opacity="0.7"/></g><polygon points="972.0,500.1 980.4,495.4 990.2,499.6 982.7,505.2" fill="#fff"/><polyline points="983.3,503.2 989.5,500.1" fill="none" stroke="#1d648c" stroke-width="1.693461538461537"/><path d="M1001.2,498.5 Q1006.2,501.7 994.3,507.8" fill="none" stroke="#fff" stroke-width="1.59" stroke-linecap="round"/><path d="M998.6,498.9 Q1002.7,501.4 993.1,506.4" fill="none" stroke="#fff" stroke-width="1.59" stroke-linecap="round"/><path d="M996.0,499.4 Q999.3,501.3 992.0,505.1" fill="none" stroke="#fff" stroke-width="1.59" stroke-linecap="round"/><text transform="matrix(1,0.544,0,1,976.0,515.9)" text-anchor="middle" font-size="5.456" font-weight="bold" fill="#fff" stroke="#fff" stroke-width="0.27" font-family="&quot;Liberation Sans&quot;,sans-serif" textLength="15.6" lengthAdjust="spacingAndGlyphs">WLAN</text>
<g><polygon points="1020.2,502.9 1044.8,517.0 1044.8,524.2 1020.2,510.9" fill="url(#gLeft)" stroke="#2a8db6" stroke-linejoin="round" stroke-width="2.8"/><polygon points="1044.8,517.0 1069.4,502.9 1069.4,510.9 1044.8,524.2" fill="url(#gRight)" stroke="#2582ad" stroke-linejoin="round" stroke-width="2.8"/><polygon points="1044.8,489.6 1069.4,502.9 1044.8,517.0 1020.2,502.9" fill="url(#gTop)" stroke="#3aa2c4" stroke-linejoin="round" stroke-width="2.8"/><polyline points="1020.2,503.3 1044.8,517.4 1069.4,503.3" fill="none" stroke="#6cc6da" stroke-width="0.7" opacity="0.7"/></g><polygon points="1027.8,500.1 1036.3,495.4 1046.1,499.6 1038.6,505.2" fill="#fff"/><polyline points="1039.2,503.2 1045.4,500.1" fill="none" stroke="#1d648c" stroke-width="1.7"/><path d="M1057.1,498.5 Q1062.2,501.7 1050.2,507.8" fill="none" stroke="#fff" stroke-width="1.60" stroke-linecap="round"/><path d="M1054.5,498.9 Q1058.7,501.4 1049.0,506.4" fill="none" stroke="#fff" stroke-width="1.60" stroke-linecap="round"/><path d="M1051.9,499.4 Q1055.2,501.3 1047.9,505.1" fill="none" stroke="#fff" stroke-width="1.60" stroke-linecap="round"/><text transform="matrix(1,0.542,0,1,1031.8,515.9)" text-anchor="middle" font-size="5.456" font-weight="bold" fill="#fff" stroke="#fff" stroke-width="0.27" font-family="&quot;Liberation Sans&quot;,sans-serif" textLength="15.6" lengthAdjust="spacingAndGlyphs">WLAN</text>
<path d="M977.9,528.3 A15.5,15.5 0 0 0 996.1,528.3" fill="none" stroke="#2e8bbf" stroke-width="4.5"/><path d="M973.7,534.1 A22.6,22.6 0 0 0 1000.3,534.1" fill="none" stroke="#2e8bbf" stroke-width="4.5"/><path d="M969.6,539.7 A29.6,29.6 0 0 0 1004.4,539.7" fill="none" stroke="#2e8bbf" stroke-width="4.5"/><path d="M1033.2,528.3 A15.5,15.5 0 0 0 1051.4,528.3" fill="none" stroke="#2e8bbf" stroke-width="4.5"/><path d="M1029.0,534.1 A22.6,22.6 0 0 0 1055.6,534.1" fill="none" stroke="#2e8bbf" stroke-width="4.5"/><path d="M1024.9,539.7 A29.6,29.6 0 0 0 1059.7,539.7" fill="none" stroke="#2e8bbf" stroke-width="4.5"/>
<g transform="translate(865.8,512.0)"><path d="M1.6,15 Q3,29.6 14.2,30 Q25.6,29.6 27,15 Z" fill="#2a8cb7"/><path d="M5,19 Q8,27.4 14.6,28 Q10.6,23.6 10.4,19.6 Z" fill="#3fa9c9" opacity="0.6"/><path d="M13.6,21.6 q4.6,-3 9,-1.6 q-1.6,5 -6,6.6 z" fill="#3fa9c9" opacity="0.45"/><path d="M0.4,9.6 Q0.4,0.4 14.2,0.4 Q28.2,0.4 28.2,9.6 V14 Q28.2,18.4 14.2,18.8 Q0.4,18.4 0.4,14 Z" fill="#2685b2"/><path d="M0.4,9.6 Q0.4,0.4 14.2,0.4 Q28.2,0.4 28.2,9.6 Q28.2,14.6 14.2,15 Q0.4,14.6 0.4,9.6 Z" fill="#3aa3c6"/></g><g transform="translate(864.5,545.4)"><polygon points="0.3,11.2 20.5,0.4 30.2,4.4 30.2,11.6 10.2,22.6 0.3,18.2" fill="#2a8ab5" stroke="#2a8ab5" stroke-width="0.8" stroke-linejoin="round"/><polygon points="0.3,11.2 20.5,0.4 30.2,4.4 10.2,15.6" fill="#3aa4c6"/><polygon points="10.2,15.6 30.2,4.4 30.2,11.6 10.2,22.6" fill="#2583ae"/><polygon points="0.3,11.2 10.2,15.6 10.2,22.6 0.3,18.2" fill="#2e93bb"/><polygon points="3.4,14.6 7.8,16.6 7.8,20.0 3.4,18.0" fill="#2079a5"/><path d="M14.5,19 v6.2 q-2.6,1.4 -2.6,3.2 q0,2.8 6.6,3 q6.6,-0.2 6.6,-3 q0,-1.8 -2.6,-3.2 v-10.4z" fill="#2e93bb"/><ellipse cx="18.5" cy="28.4" rx="6.6" ry="2.6" fill="#3aa4c6"/><path d="M14.5,24.4 q4,2 8,0" fill="none" stroke="#1f78a4" stroke-width="0.6"/></g>
<g transform="translate(907.0,510.0)"><polygon points="0.5,7.0 12.5,0.5 21.0,4.6 21.0,22.0 8.4,28.4 0.5,24.0" fill="#2a8ab5" stroke="#2a8ab5" stroke-width="0.8" stroke-linejoin="round"/><polygon points="0.5,7.0 12.5,0.5 21.0,4.6 8.4,11.2" fill="#3aa4c6"/><polygon points="0.5,7.0 8.4,11.2 8.4,28.4 0.5,24.0" fill="#2e93bb"/><polyline points="4.4,9.4 4.4,26.0" fill="none" stroke="#1f78a4" stroke-width="0.6"/><polygon points="13.5,25.0 20.0,22.4 30.5,27.4 30.5,29.6 24.0,32.4 13.5,27.4" fill="#2580ac"/><polygon points="13.5,25.0 20.0,22.4 30.5,27.4 24.0,30.2" fill="#3aa4c6"/><polygon points="11.3,4.4 12.8,3.6 34.2,14.0 34.2,30.6 32.8,31.4 11.3,21.6" fill="#185f8a" stroke="#185f8a" stroke-width="0.5" stroke-linejoin="round"/><polygon points="11.3,4.4 32.8,14.8 32.8,31.4 11.3,21.6" fill="#2f98be"/><polygon points="12.9,7.0 31.2,15.8 31.2,29.0 12.9,20.2" fill="#c3c5c7"/></g><g transform="translate(907.0,544.6)"><polygon points="0.5,7.0 12.5,0.5 21.0,4.6 21.0,22.0 8.4,28.4 0.5,24.0" fill="#2a8ab5" stroke="#2a8ab5" stroke-width="0.8" stroke-linejoin="round"/><polygon points="0.5,7.0 12.5,0.5 21.0,4.6 8.4,11.2" fill="#3aa4c6"/><polygon points="0.5,7.0 8.4,11.2 8.4,28.4 0.5,24.0" fill="#2e93bb"/><polyline points="4.4,9.4 4.4,26.0" fill="none" stroke="#1f78a4" stroke-width="0.6"/><polygon points="13.5,25.0 20.0,22.4 30.5,27.4 30.5,29.6 24.0,32.4 13.5,27.4" fill="#2580ac"/><polygon points="13.5,25.0 20.0,22.4 30.5,27.4 24.0,30.2" fill="#3aa4c6"/><polygon points="11.3,4.4 12.8,3.6 34.2,14.0 34.2,30.6 32.8,31.4 11.3,21.6" fill="#185f8a" stroke="#185f8a" stroke-width="0.5" stroke-linejoin="round"/><polygon points="11.3,4.4 32.8,14.8 32.8,31.4 11.3,21.6" fill="#2f98be"/><polygon points="12.9,7.0 31.2,15.8 31.2,29.0 12.9,20.2" fill="#c3c5c7"/></g>
<g transform="translate(955.0,549.2)"><polygon points="15.8,0.7 33.7,7.2 32.3,20.1 14.3,14.3" fill="#1f6f9c" stroke="#1f6f9c" stroke-width="0.9" stroke-linejoin="round"/><polygon points="16.6,2.0 32.6,7.9 31.4,18.6 15.3,13.4" fill="url(#gScreen)"/><polygon points="0.7,20.1 14.3,14.3 32.3,20.8 20.8,28.7" fill="#e9e9e9" stroke="#dcdcdc" stroke-width="0.9" stroke-linejoin="round"/><polygon points="0.7,20.6 20.8,29.2 32.3,21.3 32.3,22.2 20.8,30.2 0.7,21.6" fill="#7fc4dc"/><polygon points="7.4,19.4 14.6,16.3 27.6,21.0 21.4,24.8" fill="#3a3a3a"/><polygon points="8.6,23.0 12.6,21.2 16.6,22.8 12.6,24.8" fill="#bdbdbd"/></g><g transform="translate(984.0,558.4)"><path d="M1,15 L13.2,1.6 Q14.6,0.2 16.8,0.5 L25.2,1.9 Q27.6,2.5 26.2,4.4 L14.4,18 Q13,19.6 10.6,19.3 L2,17.7 Q-0.2,17 1,15 Z" fill="url(#gSilver)" stroke="#9c9c9c" stroke-width="0.5"/><polygon points="4.4,14.2 14.6,2.9 23.6,4.4 13.6,16.0" fill="url(#gScreen)"/><polygon points="2.2,15.6 3.6,14.4 13.2,16.3 12.0,17.8" fill="#6a6a6a"/></g>
<g transform="translate(1014.0,549.2)"><polygon points="15.8,0.7 33.7,7.2 32.3,20.1 14.3,14.3" fill="#1f6f9c" stroke="#1f6f9c" stroke-width="0.9" stroke-linejoin="round"/><polygon points="16.6,2.0 32.6,7.9 31.4,18.6 15.3,13.4" fill="url(#gScreen)"/><polygon points="0.7,20.1 14.3,14.3 32.3,20.8 20.8,28.7" fill="#e9e9e9" stroke="#dcdcdc" stroke-width="0.9" stroke-linejoin="round"/><polygon points="0.7,20.6 20.8,29.2 32.3,21.3 32.3,22.2 20.8,30.2 0.7,21.6" fill="#7fc4dc"/><polygon points="7.4,19.4 14.6,16.3 27.6,21.0 21.4,24.8" fill="#3a3a3a"/><polygon points="8.6,23.0 12.6,21.2 16.6,22.8 12.6,24.8" fill="#bdbdbd"/></g><g transform="translate(1044.4,558.4)"><path d="M1,15 L13.2,1.6 Q14.6,0.2 16.8,0.5 L25.2,1.9 Q27.6,2.5 26.2,4.4 L14.4,18 Q13,19.6 10.6,19.3 L2,17.7 Q-0.2,17 1,15 Z" fill="url(#gSilver)" stroke="#9c9c9c" stroke-width="0.5"/><polygon points="4.4,14.2 14.6,2.9 23.6,4.4 13.6,16.0" fill="url(#gScreen)"/><polygon points="2.2,15.6 3.6,14.4 13.2,16.3 12.0,17.8" fill="#6a6a6a"/></g>
<g id="labels">
<text transform="translate(92.5,50.4) scale(1.07,1)" text-anchor="middle" textLength="75.1" lengthAdjust="spacing">教育大数据平台</text>
<text transform="translate(183.0,50.4) scale(1.07,1)" text-anchor="middle" textLength="64.9" lengthAdjust="spacing">教育资源平台</text>
<text x="274.0" y="50.4" text-anchor="middle" textLength="66.0" lengthAdjust="spacingAndGlyphs">IPv4业务应用</text>
<text transform="translate(93.0,117.4) scale(1.07,1)" text-anchor="middle" textLength="74.2" lengthAdjust="spacing">教育基础数据库</text>
<text transform="translate(181.5,117.4) scale(1.07,1)" text-anchor="middle" textLength="63.9" lengthAdjust="spacing">教育管理平台</text>
<text x="275.0" y="114.4" text-anchor="middle" textLength="50.0" lengthAdjust="spacingAndGlyphs">IPv4/IPv6</text>
<text transform="translate(274.5,127.4) scale(1.07,1)" text-anchor="middle" textLength="63.9" lengthAdjust="spacing">应用转换网关</text>
<text transform="translate(270.0,184.9) scale(1.07,1)" text-anchor="middle" textLength="22.3" lengthAdjust="spacing">双栈</text>
<text transform="translate(270.1,197.9) scale(1.07,1)" text-anchor="middle" textLength="75.0" lengthAdjust="spacing">数据中心交换机</text>
<text transform="translate(111.0,288.4) scale(1.07,1)" text-anchor="middle" textLength="22.3" lengthAdjust="spacing">双栈</text>
<text transform="translate(111.5,301.4) scale(1.07,1)" text-anchor="middle" textLength="75.1" lengthAdjust="spacing">服务器存储系统</text>
<text transform="translate(207.0,282.4) scale(1.07,1)" text-anchor="middle" textLength="22.3" lengthAdjust="spacing">双栈</text>
<text x="207.5" y="295.4" text-anchor="middle" textLength="69.0" lengthAdjust="spacingAndGlyphs">WEB安全网关</text>
<text transform="translate(176.7,322.2) scale(1.0,1)" text-anchor="middle" textLength="61.0" lengthAdjust="spacing" font-weight="bold" fill="#2b8497" font-size="14.7">数据中心</text>
<text x="372.0 372.0 372.0 372.0 372.0" y="83.4 100.9 118.4 135.9 153.4" text-anchor="middle" font-weight="bold" fill="#2b8497" font-size="14.7">城域网出口</text>
<text transform="translate(438.8,99.4) scale(1.07,1)" text-anchor="middle" textLength="54.1" lengthAdjust="spacing">双栈防火墙</text>
<text transform="translate(428.0,149.4) scale(1.07,1)" text-anchor="middle" textLength="22.3" lengthAdjust="spacing">双栈</text>
<text transform="translate(661.2,128.4) scale(1.07,1)" text-anchor="middle" textLength="54.0" lengthAdjust="spacing">双栈路由器</text>
<text x="604.9" y="123.4" text-anchor="middle" textLength="49.7" lengthAdjust="spacingAndGlyphs">IPv4/IPv6</text>
<text transform="translate(604.9,136.4) scale(1.07,1)" text-anchor="middle" textLength="42.1" lengthAdjust="spacing">转换网关</text>
<text x="372.0 372.0 372.0 372.0 372.0" y="218.0 235.4 252.9 270.4 287.9" text-anchor="middle" font-weight="bold" fill="#2b8497" font-size="14.7">城域网核心</text>
<text transform="translate(441.8,245.9) scale(1.07,1)" text-anchor="middle" textLength="74.7" lengthAdjust="spacing">双栈城域网核心</text>
<text transform="translate(645.5,245.9) scale(1.07,1)" text-anchor="middle" textLength="53.8" lengthAdjust="spacing">虚拟化部署</text>
<text transform="translate(840.5,43.4) scale(1.07,1)" text-anchor="middle" textLength="63.9" lengthAdjust="spacing">视频监控系统</text>
<text x="843.5" y="137.4" text-anchor="middle" textLength="133.0" lengthAdjust="spacingAndGlyphs">(IPv4孤岛或IPv4/IPv6双栈)</text>
<text x="1063.2 1063.2 1063.2 1063.2" y="60.6 78.0 95.6 113.4" text-anchor="middle" font-weight="bold" fill="#2b8497" font-size="14.7">监控中心</text>
<text transform="translate(805.0,267.4) scale(1.07,1)" text-anchor="middle" textLength="22.3" lengthAdjust="spacing">双栈</text>
<text transform="translate(805.0,280.4) scale(1.07,1)" text-anchor="middle" textLength="76.1" lengthAdjust="spacing">智能云管理平台</text>
<text transform="translate(968.2,288.9) scale(1.07,1)" text-anchor="middle" textLength="135.5" lengthAdjust="spacing">双栈网管运维与双栈安全系统</text>
<text x="971.5" y="302.4" text-anchor="middle" textLength="146.1" lengthAdjust="spacingAndGlyphs">(IT资源统一管理管控、数据库</text>
<text transform="translate(967.8,315.4) scale(1.07,1)" text-anchor="middle" textLength="144.8" lengthAdjust="spacing">审计、漏洞扫描、运维审计、网</text>
<text x="966.1" y="328.4" text-anchor="middle" textLength="155.4" lengthAdjust="spacingAndGlyphs">络行为态势感知与大数据分析等)</text>
<text x="1064.6 1064.6 1064.6 1064.6" y="226.4 244.4 261.9 279.4" text-anchor="middle" font-weight="bold" fill="#2b8497" font-size="14.7">管理中心</text>
<text transform="translate(406.5,333.4) scale(1.07,1)" text-anchor="middle" textLength="75.1" lengthAdjust="spacing">双栈城域网汇聚</text>
<text transform="translate(205.0,385.9) scale(1.07,1)" text-anchor="middle" textLength="53.6" lengthAdjust="spacing">双栈防火墙</text>
<text transform="translate(84.0,394.4) scale(1.07,1)" text-anchor="middle" textLength="43.5" lengthAdjust="spacing">智慧校园</text>
<text transform="translate(84.0,407.4) scale(1.07,1)" text-anchor="middle" textLength="43.5" lengthAdjust="spacing">应用平台</text>
<text transform="translate(238.5,417.2) scale(1.07,1)" text-anchor="middle" textLength="75.1" lengthAdjust="spacing">双栈校园网核心</text>
<text transform="translate(160.4,475.7) scale(1.07,1)" text-anchor="middle" textLength="22.3" lengthAdjust="spacing">接入</text>
<text transform="translate(160.4,488.4) scale(1.07,1)" text-anchor="middle" textLength="32.9" lengthAdjust="spacing">交换机</text>
<text x="235.5" y="457.4" text-anchor="middle" textLength="55.0" lengthAdjust="spacingAndGlyphs">POE交换机</text>
<text transform="translate(273.0,481.4) scale(1.07,1)" text-anchor="middle" textLength="22.3" lengthAdjust="spacing">无线</text>
<text x="273.0" y="494.0" text-anchor="middle" textLength="13.9" lengthAdjust="spacingAndGlyphs">AP</text>
<text x="166.3" y="596.0" text-anchor="middle" textLength="188.7" lengthAdjust="spacingAndGlyphs">有线无线、BYOD、IoT一体化双栈接入</text>
<text transform="translate(164.4,622.4) scale(1.0,1)" text-anchor="middle" textLength="104.6" lengthAdjust="spacing" font-weight="bold" fill="#2b8497" font-size="14.7">大型学校校园网</text>
<text transform="translate(481.0,384.1) scale(1.07,1)" text-anchor="middle" textLength="53.6" lengthAdjust="spacing">双栈防火墙</text>
<text transform="translate(358.8,392.4) scale(1.07,1)" text-anchor="middle" textLength="43.8" lengthAdjust="spacing">智慧校园</text>
<text transform="translate(358.8,405.9) scale(1.07,1)" text-anchor="middle" textLength="43.8" lengthAdjust="spacing">应用平台</text>
<text transform="translate(504.5,414.4) scale(1.07,1)" text-anchor="middle" textLength="74.4" lengthAdjust="spacing">双栈校园网核心</text>
<text transform="translate(325.5,475.4) scale(1.07,1)" text-anchor="middle" textLength="22.3" lengthAdjust="spacing">接入</text>
<text transform="translate(326.0,488.4) scale(1.07,1)" text-anchor="middle" textLength="32.9" lengthAdjust="spacing">交换机</text>
<text x="508.6" y="456.4" text-anchor="middle" textLength="55.9" lengthAdjust="spacingAndGlyphs">POE交换机</text>
<text transform="translate(546.0,480.7) scale(1.07,1)" text-anchor="middle" textLength="22.3" lengthAdjust="spacing">无线</text>
<text x="546.0" y="492.7" text-anchor="middle" textLength="13.9" lengthAdjust="spacingAndGlyphs">AP</text>
<text x="440.0" y="594.0" text-anchor="middle" textLength="189.2" lengthAdjust="spacingAndGlyphs">有线无线、BYOD、IoT一体化双栈接入</text>
<text transform="translate(439.0,622.4) scale(1.0,1)" text-anchor="middle" textLength="104.4" lengthAdjust="spacing" font-weight="bold" fill="#2b8497" font-size="14.7">中型学校校园网</text>
<text transform="translate(748.6,383.4) scale(1.07,1)" text-anchor="middle" textLength="54.0" lengthAdjust="spacing">双栈防火墙</text>
<text transform="translate(633.2,392.1) scale(1.07,1)" text-anchor="middle" textLength="43.5" lengthAdjust="spacing">智慧校园</text>
<text transform="translate(633.2,405.2) scale(1.07,1)" text-anchor="middle" textLength="43.5" lengthAdjust="spacing">应用平台</text>
<text transform="translate(780.5,413.9) scale(1.07,1)" text-anchor="middle" textLength="75.1" lengthAdjust="spacing">双栈校园网核心</text>
<text transform="translate(596.7,472.7) scale(1.07,1)" text-anchor="middle" textLength="22.3" lengthAdjust="spacing">接入</text>
<text transform="translate(597.0,485.4) scale(1.07,1)" text-anchor="middle" textLength="32.9" lengthAdjust="spacing">交换机</text>
<text x="780.2" y="453.4" text-anchor="middle" textLength="56.4" lengthAdjust="spacingAndGlyphs">POE交换机</text>
<text transform="translate(817.0,476.4) scale(1.07,1)" text-anchor="middle" textLength="22.3" lengthAdjust="spacing">无线</text>
<text x="817.0" y="489.4" text-anchor="middle" textLength="13.9" lengthAdjust="spacingAndGlyphs">AP</text>
<text x="714.7" y="592.8" text-anchor="middle" textLength="190.6" lengthAdjust="spacingAndGlyphs">有线无线、BYOD、IoT一体化双栈接入</text>
<text transform="translate(712.3,622.4) scale(1.0,1)" text-anchor="middle" textLength="103.8" lengthAdjust="spacing" font-weight="bold" fill="#2b8497" font-size="14.7">小型学校校园网</text>
<text transform="translate(1002.4,382.4) scale(1.07,1)" text-anchor="middle" textLength="53.8" lengthAdjust="spacing">双栈防火墙</text>
<text transform="translate(1028.3,413.9) scale(1.07,1)" text-anchor="middle" textLength="74.8" lengthAdjust="spacing">双栈局域网核心</text>
<text transform="translate(892.6,447.8) scale(1.07,1)" text-anchor="middle" textLength="22.3" lengthAdjust="spacing">接入</text>
<text transform="translate(893.0,460.7) scale(1.07,1)" text-anchor="middle" textLength="32.9" lengthAdjust="spacing">交换机</text>
<text x="1013.5" y="456.3" text-anchor="middle" textLength="56.3" lengthAdjust="spacingAndGlyphs">POE交换机</text>
<text transform="translate(1059.5,473.4) scale(1.07,1)" text-anchor="middle" textLength="22.3" lengthAdjust="spacing">无线</text>
<text x="1059.5" y="485.4" text-anchor="middle" textLength="13.9" lengthAdjust="spacingAndGlyphs">AP</text>
<text x="969.2" y="593.8" text-anchor="middle" textLength="190.6" lengthAdjust="spacingAndGlyphs">有线无线、BYOD、IoT一体化双栈接入</text>
<text transform="translate(980.5,622.6) scale(1.0,1)" text-anchor="middle" textLength="134.3" lengthAdjust="spacing" font-weight="bold" fill="#2b8497" font-size="14.7">教育行政机关局域网</text>
<text x="428.0" y="26.2" text-anchor="middle" textLength="28.8" lengthAdjust="spacingAndGlyphs">CNGI</text>
<text x="428.5" y="39.2" text-anchor="middle" textLength="29.7" lengthAdjust="spacingAndGlyphs">(IPv6)</text>
<text x="515.5" y="26.2" text-anchor="middle" textLength="41.8" lengthAdjust="spacingAndGlyphs">Internet</text>
<text x="515.2" y="39.2" text-anchor="middle" textLength="57.4" lengthAdjust="spacingAndGlyphs">(IPv4/IPv6)</text>
<text transform="translate(598.5,25.4) scale(1.07,1)" text-anchor="middle" textLength="43.4" lengthAdjust="spacing">其它网络</text>
<text x="599.0" y="38.6" text-anchor="middle" textLength="32.0" lengthAdjust="spacingAndGlyphs">(IPv4)</text>
<text transform="translate(673.1,27.4) scale(1.07,1)" text-anchor="middle" textLength="41.1" lengthAdjust="spacing" fill="#4a7583">上级中心</text>
<text x="673.0" y="40.4" text-anchor="middle" textLength="58.9" lengthAdjust="spacingAndGlyphs" fill="#4a7583">(IPv4/IPv6)</text>
<text transform="translate(554.1,338.4) scale(1.07,1)" text-anchor="middle" textLength="63.6" lengthAdjust="spacing">运营商传输网</text>
<text x="554.5" y="351.4" text-anchor="middle" textLength="98.2" lengthAdjust="spacingAndGlyphs">(裸光/MSTP/MPLS)</text>
</g>
</svg>
</body>
</html>
